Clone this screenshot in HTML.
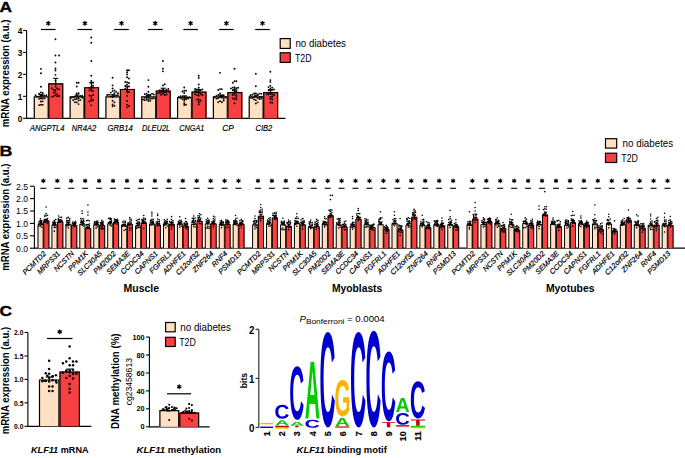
<!DOCTYPE html>
<html><head><meta charset="utf-8"><style>
html,body{margin:0;padding:0;background:#fff;width:685px;height:458px;overflow:hidden}
svg{display:block;font-family:"Liberation Sans", sans-serif}
</style></head><body>
<svg width="685" height="458" viewBox="0 0 685 458">
<text x="0" y="0" font-size="15.5" font-weight="bold" stroke="#000" stroke-width="0.35" transform="translate(-0.4 11.8) scale(1.12 1)">A</text>
<text x="9.2" y="73.4" font-size="10.4" font-weight="bold" text-anchor="middle" textLength="107.7" lengthAdjust="spacingAndGlyphs" transform="rotate(-90 9.2 73.4)">mRNA expression (a.u.)</text>
<line x1="26.6" y1="30.5" x2="26.6" y2="118.8" stroke="#000" stroke-width="1.1"/>
<line x1="23.1" y1="118.3" x2="26.6" y2="118.3" stroke="#000" stroke-width="1.1"/>
<text x="22.3" y="121.8" font-size="8.3" font-weight="bold" text-anchor="end">0</text>
<line x1="23.1" y1="96.35" x2="26.6" y2="96.35" stroke="#000" stroke-width="1.1"/>
<text x="22.3" y="99.85" font-size="8.3" font-weight="bold" text-anchor="end">1</text>
<line x1="23.1" y1="74.4" x2="26.6" y2="74.4" stroke="#000" stroke-width="1.1"/>
<text x="22.3" y="77.9" font-size="8.3" font-weight="bold" text-anchor="end">2</text>
<line x1="23.1" y1="52.45" x2="26.6" y2="52.45" stroke="#000" stroke-width="1.1"/>
<text x="22.3" y="55.95" font-size="8.3" font-weight="bold" text-anchor="end">3</text>
<line x1="23.1" y1="30.5" x2="26.6" y2="30.5" stroke="#000" stroke-width="1.1"/>
<text x="22.3" y="34" font-size="8.3" font-weight="bold" text-anchor="end">4</text>
<line x1="26.6" y1="118.3" x2="285.5" y2="118.3" stroke="#000" stroke-width="1.2"/>
<rect x="33.7" y="96.35" width="15.1" height="21.95" fill="#FFE0C2"/>
<path d="M34.3 118.3V96.95H48.2V118.3" fill="none" stroke="#000" stroke-width="1.2"/>
<rect x="48.2" y="83.18" width="15.1" height="35.12" fill="#F7403F"/>
<path d="M48.8 118.3V83.78H62.7V118.3" fill="none" stroke="#000" stroke-width="1.2"/>
<circle cx="40.95" cy="68.91" r="0.95"/>
<circle cx="40.95" cy="73.3" r="0.95"/>
<circle cx="40.95" cy="86.69" r="0.95"/>
<circle cx="40.95" cy="98.57" r="0.95"/>
<circle cx="40.95" cy="95.2" r="0.95"/>
<circle cx="42.76" cy="98.44" r="0.95"/>
<circle cx="39.15" cy="98.83" r="0.95"/>
<circle cx="40.95" cy="101.53" r="0.95"/>
<circle cx="44.56" cy="98.38" r="0.95"/>
<circle cx="40.95" cy="92.57" r="0.95"/>
<circle cx="42.76" cy="95.59" r="0.95"/>
<circle cx="42.76" cy="92.9" r="0.95"/>
<circle cx="39.15" cy="96.35" r="0.95"/>
<circle cx="44.56" cy="95.71" r="0.95"/>
<circle cx="37.34" cy="96.63" r="0.95"/>
<circle cx="40.95" cy="104.76" r="0.95"/>
<circle cx="39.15" cy="93.69" r="0.95"/>
<circle cx="46.37" cy="95.22" r="0.95"/>
<circle cx="35.54" cy="95.26" r="0.95"/>
<circle cx="42.76" cy="104.87" r="0.95"/>
<circle cx="39.15" cy="105.1" r="0.95"/>
<circle cx="42.76" cy="101.35" r="0.95"/>
<circle cx="55.45" cy="39.28" r="0.95"/>
<circle cx="55.45" cy="55.52" r="0.95"/>
<circle cx="59.06" cy="55.52" r="0.95"/>
<circle cx="55.45" cy="62.55" r="0.95"/>
<circle cx="55.45" cy="68.47" r="0.95"/>
<circle cx="55.45" cy="70.45" r="0.95"/>
<circle cx="55.45" cy="74.84" r="0.95"/>
<circle cx="55.45" cy="95.04" r="0.95"/>
<circle cx="55.45" cy="89.95" r="0.95"/>
<circle cx="55.45" cy="92.26" r="0.95"/>
<circle cx="57.26" cy="88.53" r="0.95"/>
<circle cx="57.26" cy="96.19" r="0.95"/>
<circle cx="53.65" cy="89.93" r="0.95"/>
<circle cx="59.06" cy="89.36" r="0.95"/>
<circle cx="53.65" cy="96.31" r="0.95"/>
<circle cx="55.45" cy="80.65" r="0.95"/>
<circle cx="51.84" cy="88.29" r="0.95"/>
<circle cx="55.45" cy="84.08" r="0.95"/>
<circle cx="59.06" cy="96.04" r="0.95"/>
<circle cx="51.84" cy="96.83" r="0.95"/>
<circle cx="57.26" cy="94.23" r="0.95"/>
<circle cx="53.65" cy="92.66" r="0.95"/>
<line x1="41.25" y1="98.11" x2="41.25" y2="94.59" stroke="#000" stroke-width="1.1"/>
<line x1="38.75" y1="94.59" x2="43.75" y2="94.59" stroke="#000" stroke-width="1.1"/>
<line x1="55.75" y1="88.01" x2="55.75" y2="78.35" stroke="#000" stroke-width="1.1"/>
<line x1="53.25" y1="78.35" x2="58.25" y2="78.35" stroke="#000" stroke-width="1.1"/>
<path d="M48.3 21.4L48.3 25.2M46.65 22.35L49.95 24.25M46.65 24.25L49.95 22.35" stroke="#000" stroke-width="1.3" stroke-linecap="round"/>
<line x1="41" y1="29.5" x2="55.6" y2="29.5" stroke="#000" stroke-width="1.2"/>
<text x="30.1" y="130.9" font-size="8.2" font-style="italic" textLength="34.3" lengthAdjust="spacingAndGlyphs" stroke="#000" stroke-width="0.18">ANGPTL4</text>
<rect x="69.52" y="96.35" width="15.1" height="21.95" fill="#FFE0C2"/>
<path d="M70.12 118.3V96.95H84.02V118.3" fill="none" stroke="#000" stroke-width="1.2"/>
<rect x="84.02" y="87.13" width="15.1" height="31.17" fill="#F7403F"/>
<path d="M84.62 118.3V87.73H98.52V118.3" fill="none" stroke="#000" stroke-width="1.2"/>
<circle cx="76.77" cy="82.74" r="0.95"/>
<circle cx="78.58" cy="82.74" r="0.95"/>
<circle cx="76.77" cy="86.47" r="0.95"/>
<circle cx="76.77" cy="95.37" r="0.95"/>
<circle cx="78.58" cy="96.63" r="0.95"/>
<circle cx="76.77" cy="98.92" r="0.95"/>
<circle cx="78.58" cy="100.6" r="0.95"/>
<circle cx="74.97" cy="99.16" r="0.95"/>
<circle cx="76.77" cy="93.43" r="0.95"/>
<circle cx="80.38" cy="100.11" r="0.95"/>
<circle cx="74.97" cy="96.64" r="0.95"/>
<circle cx="80.38" cy="96.04" r="0.95"/>
<circle cx="76.77" cy="102.35" r="0.95"/>
<circle cx="73.16" cy="97.29" r="0.95"/>
<circle cx="78.58" cy="93.15" r="0.95"/>
<circle cx="78.58" cy="104.08" r="0.95"/>
<circle cx="78.58" cy="98.51" r="0.95"/>
<circle cx="82.19" cy="97.8" r="0.95"/>
<circle cx="73.16" cy="100.14" r="0.95"/>
<circle cx="82.19" cy="95.81" r="0.95"/>
<circle cx="71.36" cy="97.65" r="0.95"/>
<circle cx="74.97" cy="102.27" r="0.95"/>
<circle cx="91.27" cy="37.52" r="0.95"/>
<circle cx="91.27" cy="42.79" r="0.95"/>
<circle cx="91.27" cy="61.01" r="0.95"/>
<circle cx="91.27" cy="75.72" r="0.95"/>
<circle cx="91.27" cy="80.98" r="0.95"/>
<circle cx="91.27" cy="86.51" r="0.95"/>
<circle cx="93.08" cy="87.55" r="0.95"/>
<circle cx="93.08" cy="85.73" r="0.95"/>
<circle cx="93.08" cy="82.47" r="0.95"/>
<circle cx="91.27" cy="89.57" r="0.95"/>
<circle cx="93.08" cy="91.17" r="0.95"/>
<circle cx="91.27" cy="100.52" r="0.95"/>
<circle cx="89.47" cy="87.91" r="0.95"/>
<circle cx="91.27" cy="95.99" r="0.95"/>
<circle cx="93.08" cy="94.94" r="0.95"/>
<circle cx="93.08" cy="100.29" r="0.95"/>
<circle cx="91.27" cy="98.33" r="0.95"/>
<circle cx="89.47" cy="95.46" r="0.95"/>
<circle cx="91.27" cy="83.47" r="0.95"/>
<circle cx="91.27" cy="105.34" r="0.95"/>
<circle cx="89.47" cy="101.56" r="0.95"/>
<circle cx="89.47" cy="90.38" r="0.95"/>
<line x1="77.07" y1="97.67" x2="77.07" y2="95.03" stroke="#000" stroke-width="1.1"/>
<line x1="74.57" y1="95.03" x2="79.57" y2="95.03" stroke="#000" stroke-width="1.1"/>
<line x1="91.57" y1="91.52" x2="91.57" y2="82.74" stroke="#000" stroke-width="1.1"/>
<line x1="89.07" y1="82.74" x2="94.07" y2="82.74" stroke="#000" stroke-width="1.1"/>
<path d="M84.9 21.4L84.9 25.2M83.25 22.35L86.55 24.25M83.25 24.25L86.55 22.35" stroke="#000" stroke-width="1.3" stroke-linecap="round"/>
<line x1="77.6" y1="29.5" x2="92.2" y2="29.5" stroke="#000" stroke-width="1.2"/>
<text x="71.8" y="130.9" font-size="8.2" font-style="italic" textLength="24.4" lengthAdjust="spacingAndGlyphs" stroke="#000" stroke-width="0.18">NR4A2</text>
<rect x="105.34" y="96.35" width="15.1" height="21.95" fill="#FFE0C2"/>
<path d="M105.94 118.3V96.95H119.84V118.3" fill="none" stroke="#000" stroke-width="1.2"/>
<rect x="119.84" y="88.89" width="15.1" height="29.41" fill="#F7403F"/>
<path d="M120.44 118.3V89.49H134.34V118.3" fill="none" stroke="#000" stroke-width="1.2"/>
<circle cx="112.59" cy="77.69" r="0.95"/>
<circle cx="112.59" cy="85.38" r="0.95"/>
<circle cx="112.59" cy="88.45" r="0.95"/>
<circle cx="112.59" cy="106.23" r="0.95"/>
<circle cx="112.59" cy="91.11" r="0.95"/>
<circle cx="112.59" cy="94.91" r="0.95"/>
<circle cx="114.4" cy="105.79" r="0.95"/>
<circle cx="114.4" cy="95.88" r="0.95"/>
<circle cx="112.59" cy="100.68" r="0.95"/>
<circle cx="114.4" cy="102.36" r="0.95"/>
<circle cx="114.4" cy="93.16" r="0.95"/>
<circle cx="110.78" cy="92.61" r="0.95"/>
<circle cx="112.59" cy="96.76" r="0.95"/>
<circle cx="110.78" cy="96.37" r="0.95"/>
<circle cx="116.2" cy="95.54" r="0.95"/>
<circle cx="114.4" cy="90.45" r="0.95"/>
<circle cx="108.98" cy="94.73" r="0.95"/>
<circle cx="118.01" cy="95.17" r="0.95"/>
<circle cx="107.17" cy="95.04" r="0.95"/>
<circle cx="112.59" cy="104.33" r="0.95"/>
<circle cx="116.2" cy="91.82" r="0.95"/>
<circle cx="118.01" cy="93.25" r="0.95"/>
<circle cx="127.09" cy="70.23" r="0.95"/>
<circle cx="128.9" cy="70.23" r="0.95"/>
<circle cx="127.09" cy="72.2" r="0.95"/>
<circle cx="127.09" cy="74.4" r="0.95"/>
<circle cx="127.09" cy="77.25" r="0.95"/>
<circle cx="127.09" cy="82.08" r="0.95"/>
<circle cx="127.09" cy="107.33" r="0.95"/>
<circle cx="127.09" cy="86.79" r="0.95"/>
<circle cx="128.9" cy="106.03" r="0.95"/>
<circle cx="127.09" cy="95.73" r="0.95"/>
<circle cx="127.09" cy="84.39" r="0.95"/>
<circle cx="127.09" cy="104.78" r="0.95"/>
<circle cx="127.09" cy="92.28" r="0.95"/>
<circle cx="128.9" cy="83.03" r="0.95"/>
<circle cx="127.09" cy="100.94" r="0.95"/>
<circle cx="128.9" cy="78.49" r="0.95"/>
<circle cx="128.9" cy="86.62" r="0.95"/>
<circle cx="128.9" cy="92.02" r="0.95"/>
<circle cx="125.28" cy="88.37" r="0.95"/>
<circle cx="125.28" cy="85.87" r="0.95"/>
<circle cx="127.09" cy="89.94" r="0.95"/>
<circle cx="125.28" cy="82.06" r="0.95"/>
<line x1="112.89" y1="97.89" x2="112.89" y2="94.81" stroke="#000" stroke-width="1.1"/>
<line x1="110.39" y1="94.81" x2="115.39" y2="94.81" stroke="#000" stroke-width="1.1"/>
<line x1="127.39" y1="91.52" x2="127.39" y2="86.25" stroke="#000" stroke-width="1.1"/>
<line x1="124.89" y1="86.25" x2="129.89" y2="86.25" stroke="#000" stroke-width="1.1"/>
<path d="M121.5 21.4L121.5 25.2M119.85 22.35L123.15 24.25M119.85 24.25L123.15 22.35" stroke="#000" stroke-width="1.3" stroke-linecap="round"/>
<line x1="114.2" y1="29.5" x2="128.8" y2="29.5" stroke="#000" stroke-width="1.2"/>
<text x="107.6" y="130.9" font-size="8.2" font-style="italic" textLength="25.2" lengthAdjust="spacingAndGlyphs" stroke="#000" stroke-width="0.18">GRB14</text>
<rect x="141.16" y="96.35" width="15.1" height="21.95" fill="#FFE0C2"/>
<path d="M141.76 118.3V96.95H155.66V118.3" fill="none" stroke="#000" stroke-width="1.2"/>
<rect x="155.66" y="90.42" width="15.1" height="27.88" fill="#F7403F"/>
<path d="M156.26 118.3V91.02H170.16V118.3" fill="none" stroke="#000" stroke-width="1.2"/>
<circle cx="148.41" cy="80.11" r="0.95"/>
<circle cx="148.41" cy="86.69" r="0.95"/>
<circle cx="148.41" cy="91.74" r="0.95"/>
<circle cx="148.41" cy="99.19" r="0.95"/>
<circle cx="150.22" cy="98.54" r="0.95"/>
<circle cx="148.41" cy="94.7" r="0.95"/>
<circle cx="148.41" cy="97.38" r="0.95"/>
<circle cx="146.61" cy="99.77" r="0.95"/>
<circle cx="150.22" cy="94.95" r="0.95"/>
<circle cx="146.61" cy="93.59" r="0.95"/>
<circle cx="152.02" cy="98.62" r="0.95"/>
<circle cx="148.41" cy="101.08" r="0.95"/>
<circle cx="146.61" cy="97.8" r="0.95"/>
<circle cx="144.8" cy="97.84" r="0.95"/>
<circle cx="153.83" cy="98.23" r="0.95"/>
<circle cx="152.02" cy="93.75" r="0.95"/>
<circle cx="144.8" cy="100.15" r="0.95"/>
<circle cx="144.8" cy="94.13" r="0.95"/>
<circle cx="150.22" cy="100.79" r="0.95"/>
<circle cx="143" cy="99.52" r="0.95"/>
<circle cx="146.61" cy="95.78" r="0.95"/>
<circle cx="153.83" cy="94.47" r="0.95"/>
<circle cx="162.91" cy="61.01" r="0.95"/>
<circle cx="162.91" cy="68.69" r="0.95"/>
<circle cx="162.91" cy="71.33" r="0.95"/>
<circle cx="162.91" cy="85.38" r="0.95"/>
<circle cx="162.91" cy="89.29" r="0.95"/>
<circle cx="162.91" cy="91.54" r="0.95"/>
<circle cx="164.72" cy="92.43" r="0.95"/>
<circle cx="161.11" cy="92.39" r="0.95"/>
<circle cx="164.72" cy="90.53" r="0.95"/>
<circle cx="162.91" cy="93.83" r="0.95"/>
<circle cx="166.52" cy="91.84" r="0.95"/>
<circle cx="161.11" cy="90.54" r="0.95"/>
<circle cx="159.3" cy="93.05" r="0.95"/>
<circle cx="166.52" cy="89.7" r="0.95"/>
<circle cx="159.3" cy="90.57" r="0.95"/>
<circle cx="164.72" cy="84.23" r="0.95"/>
<circle cx="168.33" cy="91.63" r="0.95"/>
<circle cx="164.72" cy="94.93" r="0.95"/>
<circle cx="161.11" cy="94.69" r="0.95"/>
<circle cx="157.5" cy="93.12" r="0.95"/>
<circle cx="168.33" cy="89" r="0.95"/>
<circle cx="166.52" cy="94.54" r="0.95"/>
<line x1="148.71" y1="97.45" x2="148.71" y2="95.25" stroke="#000" stroke-width="1.1"/>
<line x1="146.21" y1="95.25" x2="151.21" y2="95.25" stroke="#000" stroke-width="1.1"/>
<line x1="163.21" y1="92.62" x2="163.21" y2="88.23" stroke="#000" stroke-width="1.1"/>
<line x1="160.71" y1="88.23" x2="165.71" y2="88.23" stroke="#000" stroke-width="1.1"/>
<path d="M155.2 21.4L155.2 25.2M153.55 22.35L156.85 24.25M153.55 24.25L156.85 22.35" stroke="#000" stroke-width="1.3" stroke-linecap="round"/>
<line x1="147.9" y1="29.5" x2="162.5" y2="29.5" stroke="#000" stroke-width="1.2"/>
<text x="142" y="130.9" font-size="8.2" font-style="italic" textLength="28.2" lengthAdjust="spacingAndGlyphs" stroke="#000" stroke-width="0.18">DLEU2L</text>
<rect x="176.98" y="97.01" width="15.1" height="21.29" fill="#FFE0C2"/>
<path d="M177.58 118.3V97.61H191.48V118.3" fill="none" stroke="#000" stroke-width="1.2"/>
<rect x="191.48" y="91.52" width="15.1" height="26.78" fill="#F7403F"/>
<path d="M192.08 118.3V92.12H205.98V118.3" fill="none" stroke="#000" stroke-width="1.2"/>
<circle cx="184.23" cy="87.57" r="0.95"/>
<circle cx="184.23" cy="90.64" r="0.95"/>
<circle cx="186.04" cy="90.64" r="0.95"/>
<circle cx="184.23" cy="103.15" r="0.95"/>
<circle cx="184.23" cy="96.87" r="0.95"/>
<circle cx="184.23" cy="93.05" r="0.95"/>
<circle cx="186.04" cy="104.64" r="0.95"/>
<circle cx="184.23" cy="100.85" r="0.95"/>
<circle cx="186.04" cy="97.24" r="0.95"/>
<circle cx="182.43" cy="96.84" r="0.95"/>
<circle cx="187.84" cy="97.26" r="0.95"/>
<circle cx="184.23" cy="99.02" r="0.95"/>
<circle cx="180.62" cy="96.16" r="0.95"/>
<circle cx="189.65" cy="97.14" r="0.95"/>
<circle cx="186.04" cy="99.26" r="0.95"/>
<circle cx="182.43" cy="91.49" r="0.95"/>
<circle cx="178.82" cy="96.95" r="0.95"/>
<circle cx="182.43" cy="99.35" r="0.95"/>
<circle cx="180.62" cy="98.15" r="0.95"/>
<circle cx="188.23" cy="98.48" r="0.95"/>
<circle cx="186.39" cy="98.05" r="0.95"/>
<circle cx="184.23" cy="105.07" r="0.95"/>
<circle cx="198.73" cy="75.72" r="0.95"/>
<circle cx="198.73" cy="77.91" r="0.95"/>
<circle cx="198.73" cy="84.5" r="0.95"/>
<circle cx="198.73" cy="102.06" r="0.95"/>
<circle cx="198.73" cy="95.64" r="0.95"/>
<circle cx="200.54" cy="93.98" r="0.95"/>
<circle cx="198.73" cy="89.95" r="0.95"/>
<circle cx="200.54" cy="90.33" r="0.95"/>
<circle cx="198.73" cy="87.82" r="0.95"/>
<circle cx="200.54" cy="100.44" r="0.95"/>
<circle cx="196.93" cy="95.11" r="0.95"/>
<circle cx="202.34" cy="95.06" r="0.95"/>
<circle cx="196.93" cy="91.25" r="0.95"/>
<circle cx="196.93" cy="89.4" r="0.95"/>
<circle cx="198.73" cy="104.32" r="0.95"/>
<circle cx="202.34" cy="89.41" r="0.95"/>
<circle cx="198.73" cy="99.44" r="0.95"/>
<circle cx="195.12" cy="91.02" r="0.95"/>
<circle cx="196.93" cy="99.61" r="0.95"/>
<circle cx="198.73" cy="93.02" r="0.95"/>
<circle cx="195.12" cy="89" r="0.95"/>
<circle cx="195.12" cy="94.31" r="0.95"/>
<line x1="184.53" y1="98.11" x2="184.53" y2="95.91" stroke="#000" stroke-width="1.1"/>
<line x1="182.03" y1="95.91" x2="187.03" y2="95.91" stroke="#000" stroke-width="1.1"/>
<line x1="199.03" y1="93.28" x2="199.03" y2="89.77" stroke="#000" stroke-width="1.1"/>
<line x1="196.53" y1="89.77" x2="201.53" y2="89.77" stroke="#000" stroke-width="1.1"/>
<path d="M190.6 21.4L190.6 25.2M188.95 22.35L192.25 24.25M188.95 24.25L192.25 22.35" stroke="#000" stroke-width="1.3" stroke-linecap="round"/>
<line x1="183.3" y1="29.5" x2="197.9" y2="29.5" stroke="#000" stroke-width="1.2"/>
<text x="179.3" y="130.9" font-size="8.2" font-style="italic" textLength="25" lengthAdjust="spacingAndGlyphs" stroke="#000" stroke-width="0.18">CNGA1</text>
<rect x="212.8" y="96.35" width="15.1" height="21.95" fill="#FFE0C2"/>
<path d="M213.4 118.3V96.95H227.3V118.3" fill="none" stroke="#000" stroke-width="1.2"/>
<rect x="227.3" y="91.96" width="15.1" height="26.34" fill="#F7403F"/>
<path d="M227.9 118.3V92.56H241.8V118.3" fill="none" stroke="#000" stroke-width="1.2"/>
<circle cx="220.05" cy="72.86" r="0.95"/>
<circle cx="220.05" cy="89.11" r="0.95"/>
<circle cx="221.86" cy="89.11" r="0.95"/>
<circle cx="220.05" cy="97.34" r="0.95"/>
<circle cx="221.86" cy="95.61" r="0.95"/>
<circle cx="221.86" cy="97.48" r="0.95"/>
<circle cx="218.25" cy="98.14" r="0.95"/>
<circle cx="220.05" cy="93.51" r="0.95"/>
<circle cx="218.25" cy="94.89" r="0.95"/>
<circle cx="223.66" cy="98.72" r="0.95"/>
<circle cx="218.25" cy="90.05" r="0.95"/>
<circle cx="220.05" cy="101.16" r="0.95"/>
<circle cx="223.66" cy="95.28" r="0.95"/>
<circle cx="216.44" cy="98.64" r="0.95"/>
<circle cx="225.47" cy="97.51" r="0.95"/>
<circle cx="216.44" cy="95.87" r="0.95"/>
<circle cx="214.64" cy="97.25" r="0.95"/>
<circle cx="221.73" cy="96.06" r="0.95"/>
<circle cx="221.86" cy="102.24" r="0.95"/>
<circle cx="218.25" cy="102.19" r="0.95"/>
<circle cx="223.35" cy="96.13" r="0.95"/>
<circle cx="223.66" cy="100.63" r="0.95"/>
<circle cx="234.55" cy="68.69" r="0.95"/>
<circle cx="234.55" cy="81.2" r="0.95"/>
<circle cx="236.36" cy="81.2" r="0.95"/>
<circle cx="232.75" cy="82.74" r="0.95"/>
<circle cx="234.55" cy="87.13" r="0.95"/>
<circle cx="234.55" cy="89.03" r="0.95"/>
<circle cx="234.55" cy="91.32" r="0.95"/>
<circle cx="236.36" cy="88.13" r="0.95"/>
<circle cx="234.55" cy="98.71" r="0.95"/>
<circle cx="234.55" cy="94.59" r="0.95"/>
<circle cx="236.36" cy="99.6" r="0.95"/>
<circle cx="236.36" cy="91.23" r="0.95"/>
<circle cx="232.75" cy="87.62" r="0.95"/>
<circle cx="232.75" cy="98.5" r="0.95"/>
<circle cx="238.16" cy="87.74" r="0.95"/>
<circle cx="232.75" cy="90.26" r="0.95"/>
<circle cx="236.36" cy="95.37" r="0.95"/>
<circle cx="234.55" cy="103.25" r="0.95"/>
<circle cx="230.94" cy="88.42" r="0.95"/>
<circle cx="232.75" cy="95.02" r="0.95"/>
<circle cx="236.36" cy="97.24" r="0.95"/>
<circle cx="232.75" cy="92.84" r="0.95"/>
<line x1="220.35" y1="97.67" x2="220.35" y2="95.03" stroke="#000" stroke-width="1.1"/>
<line x1="217.85" y1="95.03" x2="222.85" y2="95.03" stroke="#000" stroke-width="1.1"/>
<line x1="234.85" y1="94.16" x2="234.85" y2="89.77" stroke="#000" stroke-width="1.1"/>
<line x1="232.35" y1="89.77" x2="237.35" y2="89.77" stroke="#000" stroke-width="1.1"/>
<path d="M226.4 21.4L226.4 25.2M224.75 22.35L228.05 24.25M224.75 24.25L228.05 22.35" stroke="#000" stroke-width="1.3" stroke-linecap="round"/>
<line x1="219.1" y1="29.5" x2="233.7" y2="29.5" stroke="#000" stroke-width="1.2"/>
<text x="222.2" y="130.9" font-size="8.2" font-style="italic" textLength="11.5" lengthAdjust="spacingAndGlyphs" stroke="#000" stroke-width="0.18">CP</text>
<rect x="248.62" y="96.35" width="15.1" height="21.95" fill="#FFE0C2"/>
<path d="M249.22 118.3V96.95H263.12V118.3" fill="none" stroke="#000" stroke-width="1.2"/>
<rect x="263.12" y="91.96" width="15.1" height="26.34" fill="#F7403F"/>
<path d="M263.72 118.3V92.56H277.62V118.3" fill="none" stroke="#000" stroke-width="1.2"/>
<circle cx="255.87" cy="73.74" r="0.95"/>
<circle cx="255.87" cy="86.25" r="0.95"/>
<circle cx="255.87" cy="96.37" r="0.95"/>
<circle cx="255.87" cy="93.5" r="0.95"/>
<circle cx="255.87" cy="100.13" r="0.95"/>
<circle cx="257.68" cy="94.45" r="0.95"/>
<circle cx="254.06" cy="93.53" r="0.95"/>
<circle cx="259.48" cy="93.62" r="0.95"/>
<circle cx="257.68" cy="97.92" r="0.95"/>
<circle cx="254.06" cy="99.41" r="0.95"/>
<circle cx="252.26" cy="94.76" r="0.95"/>
<circle cx="254.06" cy="97.14" r="0.95"/>
<circle cx="259.48" cy="97.12" r="0.95"/>
<circle cx="261.29" cy="93.7" r="0.95"/>
<circle cx="252.26" cy="98.14" r="0.95"/>
<circle cx="255.87" cy="103.5" r="0.95"/>
<circle cx="261.29" cy="98.47" r="0.95"/>
<circle cx="257.68" cy="102.33" r="0.95"/>
<circle cx="250.46" cy="95.29" r="0.95"/>
<circle cx="261.29" cy="96.61" r="0.95"/>
<circle cx="259.48" cy="99.06" r="0.95"/>
<circle cx="250.46" cy="97.47" r="0.95"/>
<circle cx="270.37" cy="71.77" r="0.95"/>
<circle cx="270.37" cy="80.11" r="0.95"/>
<circle cx="270.37" cy="82.08" r="0.95"/>
<circle cx="270.37" cy="85.81" r="0.95"/>
<circle cx="270.37" cy="90.5" r="0.95"/>
<circle cx="270.37" cy="93.81" r="0.95"/>
<circle cx="270.37" cy="88.33" r="0.95"/>
<circle cx="272.18" cy="94.42" r="0.95"/>
<circle cx="272.18" cy="89.59" r="0.95"/>
<circle cx="272.18" cy="87.61" r="0.95"/>
<circle cx="268.56" cy="87.09" r="0.95"/>
<circle cx="270.37" cy="97.1" r="0.95"/>
<circle cx="268.56" cy="90.29" r="0.95"/>
<circle cx="270.37" cy="102.39" r="0.95"/>
<circle cx="270.37" cy="98.91" r="0.95"/>
<circle cx="272.18" cy="102.77" r="0.95"/>
<circle cx="273.98" cy="89.46" r="0.95"/>
<circle cx="272.18" cy="99.56" r="0.95"/>
<circle cx="268.56" cy="94.21" r="0.95"/>
<circle cx="273.98" cy="95" r="0.95"/>
<circle cx="266.76" cy="94.28" r="0.95"/>
<circle cx="272.18" cy="96.75" r="0.95"/>
<line x1="256.17" y1="97.45" x2="256.17" y2="95.25" stroke="#000" stroke-width="1.1"/>
<line x1="253.67" y1="95.25" x2="258.67" y2="95.25" stroke="#000" stroke-width="1.1"/>
<line x1="270.67" y1="94.16" x2="270.67" y2="89.77" stroke="#000" stroke-width="1.1"/>
<line x1="268.17" y1="89.77" x2="273.17" y2="89.77" stroke="#000" stroke-width="1.1"/>
<path d="M262.5 21.4L262.5 25.2M260.85 22.35L264.15 24.25M260.85 24.25L264.15 22.35" stroke="#000" stroke-width="1.3" stroke-linecap="round"/>
<line x1="255.2" y1="29.5" x2="269.8" y2="29.5" stroke="#000" stroke-width="1.2"/>
<text x="255.5" y="130.9" font-size="8.2" font-style="italic" textLength="16.7" lengthAdjust="spacingAndGlyphs" stroke="#000" stroke-width="0.18">CIB2</text>
<rect x="280.2" y="38.6" width="10" height="9.8" fill="#FFE0C2" stroke="#000" stroke-width="1.2"/>
<rect x="280.2" y="52.8" width="10" height="9.6" fill="#F7403F" stroke="#000" stroke-width="1.2"/>
<text x="295.4" y="46.9" font-size="10.4" textLength="50.6" lengthAdjust="spacingAndGlyphs">no diabetes</text>
<text x="295" y="61.8" font-size="10.4" textLength="16.6" lengthAdjust="spacingAndGlyphs">T2D</text>
<text x="0" y="0" font-size="15.5" font-weight="bold" stroke="#000" stroke-width="0.35" transform="translate(-0.6 155.6) scale(1.15 1)">B</text>
<text x="9" y="217.1" font-size="10.4" font-weight="bold" text-anchor="middle" textLength="107.1" lengthAdjust="spacingAndGlyphs" transform="rotate(-90 9 217.1)">mRNA expression (a.u.)</text>
<line x1="34.4" y1="186.5" x2="34.4" y2="248.7" stroke="#000" stroke-width="1.1"/>
<line x1="30" y1="248.2" x2="34.4" y2="248.2" stroke="#000" stroke-width="1.1"/>
<text x="28.1" y="251.5" font-size="9" text-anchor="end" textLength="12" lengthAdjust="spacingAndGlyphs">0.0</text>
<line x1="30" y1="235.8" x2="34.4" y2="235.8" stroke="#000" stroke-width="1.1"/>
<text x="28.1" y="239.1" font-size="9" text-anchor="end" textLength="12" lengthAdjust="spacingAndGlyphs">0.5</text>
<line x1="30" y1="223.4" x2="34.4" y2="223.4" stroke="#000" stroke-width="1.1"/>
<text x="28.1" y="226.7" font-size="9" text-anchor="end" textLength="12" lengthAdjust="spacingAndGlyphs">1.0</text>
<line x1="30" y1="211" x2="34.4" y2="211" stroke="#000" stroke-width="1.1"/>
<text x="28.1" y="214.3" font-size="9" text-anchor="end" textLength="12" lengthAdjust="spacingAndGlyphs">1.5</text>
<line x1="30" y1="198.6" x2="34.4" y2="198.6" stroke="#000" stroke-width="1.1"/>
<text x="28.1" y="201.9" font-size="9" text-anchor="end" textLength="12" lengthAdjust="spacingAndGlyphs">2.0</text>
<line x1="30" y1="186.2" x2="34.4" y2="186.2" stroke="#000" stroke-width="1.1"/>
<text x="28.1" y="189.5" font-size="9" text-anchor="end" textLength="12" lengthAdjust="spacingAndGlyphs">2.5</text>
<line x1="34.4" y1="248.2" x2="685" y2="248.2" stroke="#000" stroke-width="1.2"/>
<rect x="37.5" y="224.14" width="6.15" height="24.06" fill="#FFE0C2"/>
<path d="M38 248.2V224.64H43.15V248.2" fill="none" stroke="#000" stroke-width="1"/>
<rect x="43.25" y="220.42" width="6.15" height="27.78" fill="#F7403F"/>
<path d="M43.75 248.2V220.92H48.9V248.2" fill="none" stroke="#000" stroke-width="1"/>
<circle cx="40.38" cy="222.57" r="0.8"/>
<circle cx="40.38" cy="218.71" r="0.8"/>
<circle cx="41.81" cy="223.04" r="0.8"/>
<circle cx="38.94" cy="221.84" r="0.8"/>
<circle cx="40.38" cy="220.67" r="0.8"/>
<circle cx="38.94" cy="223.64" r="0.8"/>
<circle cx="40.38" cy="226.28" r="0.8"/>
<circle cx="40.38" cy="224.53" r="0.8"/>
<circle cx="41.81" cy="220.49" r="0.8"/>
<circle cx="41.81" cy="227.23" r="0.8"/>
<circle cx="41.81" cy="224.63" r="0.8"/>
<circle cx="40.62" cy="220.65" r="0.8"/>
<circle cx="41.4" cy="221.19" r="0.8"/>
<circle cx="42" cy="223.13" r="0.8"/>
<circle cx="40.15" cy="221.16" r="0.8"/>
<circle cx="40.82" cy="222.74" r="0.8"/>
<circle cx="38.94" cy="226.08" r="0.8"/>
<circle cx="46.12" cy="207.03" r="0.8"/>
<circle cx="46.12" cy="213.48" r="0.8"/>
<circle cx="46.12" cy="222.4" r="0.8"/>
<circle cx="46.12" cy="219.54" r="0.8"/>
<circle cx="47.56" cy="220.39" r="0.8"/>
<circle cx="47.56" cy="221.98" r="0.8"/>
<circle cx="44.69" cy="222.2" r="0.8"/>
<circle cx="44.69" cy="220.02" r="0.8"/>
<circle cx="46.12" cy="215.84" r="0.8"/>
<circle cx="45.9" cy="220.81" r="0.8"/>
<circle cx="47.56" cy="215.2" r="0.8"/>
<circle cx="47.56" cy="223.58" r="0.8"/>
<circle cx="44.44" cy="219.62" r="0.8"/>
<circle cx="44.69" cy="216.26" r="0.8"/>
<circle cx="45.1" cy="214.98" r="0.8"/>
<circle cx="44.44" cy="221.09" r="0.8"/>
<circle cx="47.56" cy="218.61" r="0.8"/>
<line x1="40.58" y1="225.38" x2="40.58" y2="222.9" stroke="#000" stroke-width="0.9"/>
<line x1="39.08" y1="222.9" x2="42.08" y2="222.9" stroke="#000" stroke-width="0.9"/>
<line x1="46.33" y1="221.66" x2="46.33" y2="219.18" stroke="#000" stroke-width="0.9"/>
<line x1="44.83" y1="219.18" x2="47.83" y2="219.18" stroke="#000" stroke-width="0.9"/>
<path d="M43.35 179L43.35 182.6M41.79 179.9L44.91 181.7M41.79 181.7L44.91 179.9" stroke="#000" stroke-width="1.2" stroke-linecap="round"/>
<line x1="40.35" y1="188.3" x2="46.35" y2="188.3" stroke="#000" stroke-width="1.1"/>
<text x="46.75" y="254" font-size="7.35" font-style="italic" text-anchor="end" transform="rotate(-45 46.75 254)" stroke="#000" stroke-width="0.2">PCMTD2</text>
<rect x="51.44" y="224.64" width="6.15" height="23.56" fill="#FFE0C2"/>
<path d="M51.94 248.2V225.14H57.09V248.2" fill="none" stroke="#000" stroke-width="1"/>
<rect x="57.19" y="221.42" width="6.15" height="26.78" fill="#F7403F"/>
<path d="M57.69 248.2V221.92H62.84V248.2" fill="none" stroke="#000" stroke-width="1"/>
<circle cx="54.31" cy="222.69" r="0.8"/>
<circle cx="54.31" cy="225.75" r="0.8"/>
<circle cx="54.31" cy="227.45" r="0.8"/>
<circle cx="55.75" cy="222.5" r="0.8"/>
<circle cx="55.75" cy="224.51" r="0.8"/>
<circle cx="52.88" cy="224.42" r="0.8"/>
<circle cx="55.75" cy="227.21" r="0.8"/>
<circle cx="54.31" cy="220.45" r="0.8"/>
<circle cx="55.75" cy="219.63" r="0.8"/>
<circle cx="52.88" cy="221.94" r="0.8"/>
<circle cx="54.04" cy="224" r="0.8"/>
<circle cx="54.38" cy="221.26" r="0.8"/>
<circle cx="53.68" cy="224.38" r="0.8"/>
<circle cx="54.31" cy="231.14" r="0.8"/>
<circle cx="53.11" cy="223.05" r="0.8"/>
<circle cx="53.6" cy="222.92" r="0.8"/>
<circle cx="55.19" cy="224.93" r="0.8"/>
<circle cx="60.06" cy="217.3" r="0.8"/>
<circle cx="60.06" cy="220.04" r="0.8"/>
<circle cx="61.5" cy="220.87" r="0.8"/>
<circle cx="58.62" cy="220.25" r="0.8"/>
<circle cx="60.06" cy="222.12" r="0.8"/>
<circle cx="61.5" cy="217.4" r="0.8"/>
<circle cx="61.69" cy="221.33" r="0.8"/>
<circle cx="61.32" cy="220.49" r="0.8"/>
<circle cx="58.62" cy="216.07" r="0.8"/>
<circle cx="59.11" cy="220.83" r="0.8"/>
<circle cx="58.68" cy="219.28" r="0.8"/>
<circle cx="61.72" cy="220.63" r="0.8"/>
<circle cx="60.34" cy="220.49" r="0.8"/>
<circle cx="60.86" cy="219.72" r="0.8"/>
<circle cx="58.44" cy="220.07" r="0.8"/>
<circle cx="58.62" cy="222.36" r="0.8"/>
<circle cx="58.32" cy="218.64" r="0.8"/>
<line x1="54.52" y1="225.88" x2="54.52" y2="223.4" stroke="#000" stroke-width="0.9"/>
<line x1="53.02" y1="223.4" x2="56.02" y2="223.4" stroke="#000" stroke-width="0.9"/>
<line x1="60.27" y1="222.66" x2="60.27" y2="220.18" stroke="#000" stroke-width="0.9"/>
<line x1="58.77" y1="220.18" x2="61.77" y2="220.18" stroke="#000" stroke-width="0.9"/>
<path d="M57.29 179L57.29 182.6M55.73 179.9L58.85 181.7M55.73 181.7L58.85 179.9" stroke="#000" stroke-width="1.2" stroke-linecap="round"/>
<line x1="54.29" y1="188.3" x2="60.29" y2="188.3" stroke="#000" stroke-width="1.1"/>
<text x="60.69" y="254" font-size="7.35" font-style="italic" text-anchor="end" transform="rotate(-45 60.69 254)" stroke="#000" stroke-width="0.2">MRPS31</text>
<rect x="65.38" y="223.65" width="6.15" height="24.55" fill="#FFE0C2"/>
<path d="M65.88 248.2V224.15H71.03V248.2" fill="none" stroke="#000" stroke-width="1"/>
<rect x="71.13" y="224.89" width="6.15" height="23.31" fill="#F7403F"/>
<path d="M71.63 248.2V225.39H76.78V248.2" fill="none" stroke="#000" stroke-width="1"/>
<circle cx="68.25" cy="220.77" r="0.8"/>
<circle cx="68.25" cy="223.64" r="0.8"/>
<circle cx="69.69" cy="225.07" r="0.8"/>
<circle cx="68.25" cy="217.4" r="0.8"/>
<circle cx="69.69" cy="220.08" r="0.8"/>
<circle cx="68.25" cy="225.62" r="0.8"/>
<circle cx="66.81" cy="225.99" r="0.8"/>
<circle cx="69.69" cy="218.43" r="0.8"/>
<circle cx="66.81" cy="220.2" r="0.8"/>
<circle cx="66.81" cy="218.14" r="0.8"/>
<circle cx="68.36" cy="220.65" r="0.8"/>
<circle cx="67.22" cy="224.82" r="0.8"/>
<circle cx="69.69" cy="222.01" r="0.8"/>
<circle cx="68.25" cy="228.01" r="0.8"/>
<circle cx="66.71" cy="224.51" r="0.8"/>
<circle cx="66.81" cy="222.8" r="0.8"/>
<circle cx="66.92" cy="221.36" r="0.8"/>
<circle cx="74" cy="222.31" r="0.8"/>
<circle cx="75.44" cy="223.38" r="0.8"/>
<circle cx="74" cy="224.7" r="0.8"/>
<circle cx="72.56" cy="221.94" r="0.8"/>
<circle cx="72.56" cy="223.77" r="0.8"/>
<circle cx="75.44" cy="225.94" r="0.8"/>
<circle cx="72.56" cy="225.45" r="0.8"/>
<circle cx="75.26" cy="223.9" r="0.8"/>
<circle cx="73.74" cy="224.17" r="0.8"/>
<circle cx="73.99" cy="223.51" r="0.8"/>
<circle cx="75.33" cy="223.9" r="0.8"/>
<circle cx="73.58" cy="223.46" r="0.8"/>
<circle cx="74.03" cy="224.23" r="0.8"/>
<circle cx="74" cy="227.02" r="0.8"/>
<circle cx="74.75" cy="222.85" r="0.8"/>
<circle cx="75.44" cy="221.28" r="0.8"/>
<circle cx="75.91" cy="222.82" r="0.8"/>
<line x1="68.45" y1="224.89" x2="68.45" y2="222.41" stroke="#000" stroke-width="0.9"/>
<line x1="66.95" y1="222.41" x2="69.95" y2="222.41" stroke="#000" stroke-width="0.9"/>
<line x1="74.2" y1="226.13" x2="74.2" y2="223.65" stroke="#000" stroke-width="0.9"/>
<line x1="72.7" y1="223.65" x2="75.7" y2="223.65" stroke="#000" stroke-width="0.9"/>
<path d="M71.23 179L71.23 182.6M69.67 179.9L72.79 181.7M69.67 181.7L72.79 179.9" stroke="#000" stroke-width="1.2" stroke-linecap="round"/>
<line x1="68.23" y1="188.3" x2="74.23" y2="188.3" stroke="#000" stroke-width="1.1"/>
<text x="74.63" y="254" font-size="7.35" font-style="italic" text-anchor="end" transform="rotate(-45 74.63 254)" stroke="#000" stroke-width="0.2">NCSTN</text>
<rect x="79.32" y="223.65" width="6.15" height="24.55" fill="#FFE0C2"/>
<path d="M79.82 248.2V224.15H84.97V248.2" fill="none" stroke="#000" stroke-width="1"/>
<rect x="85.07" y="228.11" width="6.15" height="20.09" fill="#F7403F"/>
<path d="M85.57 248.2V228.61H90.72V248.2" fill="none" stroke="#000" stroke-width="1"/>
<circle cx="82.19" cy="211" r="0.8"/>
<circle cx="82.19" cy="213.48" r="0.8"/>
<circle cx="82.19" cy="223.13" r="0.8"/>
<circle cx="82.19" cy="225.23" r="0.8"/>
<circle cx="82.19" cy="218.74" r="0.8"/>
<circle cx="83.63" cy="223.6" r="0.8"/>
<circle cx="83.63" cy="226.05" r="0.8"/>
<circle cx="80.75" cy="224.55" r="0.8"/>
<circle cx="82.19" cy="221.36" r="0.8"/>
<circle cx="83.63" cy="221.42" r="0.8"/>
<circle cx="80.75" cy="222.22" r="0.8"/>
<circle cx="83.63" cy="218.98" r="0.8"/>
<circle cx="83.66" cy="220.9" r="0.8"/>
<circle cx="82.87" cy="222.71" r="0.8"/>
<circle cx="81.33" cy="221.18" r="0.8"/>
<circle cx="80.75" cy="218.55" r="0.8"/>
<circle cx="81.18" cy="220.25" r="0.8"/>
<circle cx="87.94" cy="205.05" r="0.8"/>
<circle cx="87.94" cy="211.99" r="0.8"/>
<circle cx="87.94" cy="214.97" r="0.8"/>
<circle cx="87.94" cy="220.42" r="0.8"/>
<circle cx="87.94" cy="227.86" r="0.8"/>
<circle cx="87.94" cy="224.47" r="0.8"/>
<circle cx="89.38" cy="225.64" r="0.8"/>
<circle cx="86.5" cy="224.87" r="0.8"/>
<circle cx="89.38" cy="227.65" r="0.8"/>
<circle cx="89.38" cy="220.8" r="0.8"/>
<circle cx="89.38" cy="224.04" r="0.8"/>
<circle cx="86.5" cy="227.65" r="0.8"/>
<circle cx="87.84" cy="226.9" r="0.8"/>
<circle cx="86.5" cy="220.68" r="0.8"/>
<circle cx="87.96" cy="227.97" r="0.8"/>
<circle cx="86.76" cy="224.95" r="0.8"/>
<circle cx="87.96" cy="224.69" r="0.8"/>
<line x1="82.39" y1="224.89" x2="82.39" y2="222.41" stroke="#000" stroke-width="0.9"/>
<line x1="80.89" y1="222.41" x2="83.89" y2="222.41" stroke="#000" stroke-width="0.9"/>
<line x1="88.14" y1="229.35" x2="88.14" y2="226.87" stroke="#000" stroke-width="0.9"/>
<line x1="86.64" y1="226.87" x2="89.64" y2="226.87" stroke="#000" stroke-width="0.9"/>
<path d="M85.17 179L85.17 182.6M83.61 179.9L86.73 181.7M83.61 181.7L86.73 179.9" stroke="#000" stroke-width="1.2" stroke-linecap="round"/>
<line x1="82.17" y1="188.3" x2="88.17" y2="188.3" stroke="#000" stroke-width="1.1"/>
<text x="88.57" y="254" font-size="7.35" font-style="italic" text-anchor="end" transform="rotate(-45 88.57 254)" stroke="#000" stroke-width="0.2">PPM1K</text>
<rect x="93.26" y="224.14" width="6.15" height="24.06" fill="#FFE0C2"/>
<path d="M93.76 248.2V224.64H98.91V248.2" fill="none" stroke="#000" stroke-width="1"/>
<rect x="99.01" y="225.14" width="6.15" height="23.06" fill="#F7403F"/>
<path d="M99.51 248.2V225.64H104.66V248.2" fill="none" stroke="#000" stroke-width="1"/>
<circle cx="96.13" cy="223.14" r="0.8"/>
<circle cx="96.13" cy="221.21" r="0.8"/>
<circle cx="97.57" cy="223.09" r="0.8"/>
<circle cx="97.57" cy="221.04" r="0.8"/>
<circle cx="94.69" cy="221.81" r="0.8"/>
<circle cx="98.05" cy="222.64" r="0.8"/>
<circle cx="94.75" cy="223.02" r="0.8"/>
<circle cx="97.02" cy="223.76" r="0.8"/>
<circle cx="96.7" cy="221.45" r="0.8"/>
<circle cx="96.13" cy="225.77" r="0.8"/>
<circle cx="94.69" cy="224.71" r="0.8"/>
<circle cx="94.33" cy="223.14" r="0.8"/>
<circle cx="97.57" cy="226.78" r="0.8"/>
<circle cx="97.46" cy="224.23" r="0.8"/>
<circle cx="96.13" cy="228.13" r="0.8"/>
<circle cx="97.68" cy="224.85" r="0.8"/>
<circle cx="96.64" cy="221.74" r="0.8"/>
<circle cx="101.88" cy="224.6" r="0.8"/>
<circle cx="101.88" cy="228.66" r="0.8"/>
<circle cx="101.88" cy="222.21" r="0.8"/>
<circle cx="103.32" cy="221.82" r="0.8"/>
<circle cx="103.32" cy="228.85" r="0.8"/>
<circle cx="103.32" cy="224.27" r="0.8"/>
<circle cx="100.44" cy="222.58" r="0.8"/>
<circle cx="100.44" cy="228.51" r="0.8"/>
<circle cx="102.12" cy="228.67" r="0.8"/>
<circle cx="101.88" cy="226.79" r="0.8"/>
<circle cx="100.44" cy="225.7" r="0.8"/>
<circle cx="102.39" cy="227.62" r="0.8"/>
<circle cx="100.44" cy="224.07" r="0.8"/>
<circle cx="102.38" cy="223.52" r="0.8"/>
<circle cx="102.6" cy="222.57" r="0.8"/>
<circle cx="101.84" cy="222.4" r="0.8"/>
<circle cx="101.88" cy="220.42" r="0.8"/>
<line x1="96.33" y1="225.38" x2="96.33" y2="222.9" stroke="#000" stroke-width="0.9"/>
<line x1="94.83" y1="222.9" x2="97.83" y2="222.9" stroke="#000" stroke-width="0.9"/>
<line x1="102.08" y1="226.38" x2="102.08" y2="223.9" stroke="#000" stroke-width="0.9"/>
<line x1="100.58" y1="223.9" x2="103.58" y2="223.9" stroke="#000" stroke-width="0.9"/>
<path d="M99.11 179L99.11 182.6M97.55 179.9L100.67 181.7M97.55 181.7L100.67 179.9" stroke="#000" stroke-width="1.2" stroke-linecap="round"/>
<line x1="96.11" y1="188.3" x2="102.11" y2="188.3" stroke="#000" stroke-width="1.1"/>
<text x="102.51" y="254" font-size="7.35" font-style="italic" text-anchor="end" transform="rotate(-45 102.51 254)" stroke="#000" stroke-width="0.2">SLC30A5</text>
<rect x="107.2" y="223.4" width="6.15" height="24.8" fill="#FFE0C2"/>
<path d="M107.7 248.2V223.9H112.85V248.2" fill="none" stroke="#000" stroke-width="1"/>
<rect x="112.95" y="221.91" width="6.15" height="26.29" fill="#F7403F"/>
<path d="M113.45 248.2V222.41H118.6V248.2" fill="none" stroke="#000" stroke-width="1"/>
<circle cx="110.08" cy="219.52" r="0.8"/>
<circle cx="110.08" cy="217.98" r="0.8"/>
<circle cx="110.08" cy="222.32" r="0.8"/>
<circle cx="111.52" cy="222.44" r="0.8"/>
<circle cx="110.08" cy="225.34" r="0.8"/>
<circle cx="111.52" cy="225.96" r="0.8"/>
<circle cx="108.64" cy="223.21" r="0.8"/>
<circle cx="111.52" cy="218.7" r="0.8"/>
<circle cx="111.52" cy="220.77" r="0.8"/>
<circle cx="109.61" cy="222.42" r="0.8"/>
<circle cx="109.99" cy="221.43" r="0.8"/>
<circle cx="110.8" cy="222.8" r="0.8"/>
<circle cx="108.64" cy="218.42" r="0.8"/>
<circle cx="111.13" cy="221.28" r="0.8"/>
<circle cx="110.54" cy="218.5" r="0.8"/>
<circle cx="110.64" cy="219.55" r="0.8"/>
<circle cx="108.41" cy="222.85" r="0.8"/>
<circle cx="115.83" cy="219.78" r="0.8"/>
<circle cx="117.27" cy="219.4" r="0.8"/>
<circle cx="117.27" cy="221.01" r="0.8"/>
<circle cx="115.83" cy="223.03" r="0.8"/>
<circle cx="115.83" cy="221.28" r="0.8"/>
<circle cx="114.39" cy="221.08" r="0.8"/>
<circle cx="114.39" cy="219.1" r="0.8"/>
<circle cx="117.71" cy="220.19" r="0.8"/>
<circle cx="117.27" cy="222.71" r="0.8"/>
<circle cx="117.27" cy="224.28" r="0.8"/>
<circle cx="117.55" cy="221.85" r="0.8"/>
<circle cx="114.39" cy="222.76" r="0.8"/>
<circle cx="113.92" cy="223.68" r="0.8"/>
<circle cx="115.66" cy="221.21" r="0.8"/>
<circle cx="117.09" cy="222.14" r="0.8"/>
<circle cx="117.67" cy="220.66" r="0.8"/>
<circle cx="115.63" cy="219.62" r="0.8"/>
<line x1="110.28" y1="224.64" x2="110.28" y2="222.16" stroke="#000" stroke-width="0.9"/>
<line x1="108.78" y1="222.16" x2="111.78" y2="222.16" stroke="#000" stroke-width="0.9"/>
<line x1="116.03" y1="223.15" x2="116.03" y2="220.67" stroke="#000" stroke-width="0.9"/>
<line x1="114.53" y1="220.67" x2="117.53" y2="220.67" stroke="#000" stroke-width="0.9"/>
<path d="M113.05 179L113.05 182.6M111.49 179.9L114.61 181.7M111.49 181.7L114.61 179.9" stroke="#000" stroke-width="1.2" stroke-linecap="round"/>
<line x1="110.05" y1="188.3" x2="116.05" y2="188.3" stroke="#000" stroke-width="1.1"/>
<text x="116.45" y="254" font-size="7.35" font-style="italic" text-anchor="end" transform="rotate(-45 116.45 254)" stroke="#000" stroke-width="0.2">PM20D2</text>
<rect x="121.14" y="225.38" width="6.15" height="22.82" fill="#FFE0C2"/>
<path d="M121.64 248.2V225.88H126.79V248.2" fill="none" stroke="#000" stroke-width="1"/>
<rect x="126.89" y="224.14" width="6.15" height="24.06" fill="#F7403F"/>
<path d="M127.39 248.2V224.64H132.54V248.2" fill="none" stroke="#000" stroke-width="1"/>
<circle cx="124.02" cy="225.42" r="0.8"/>
<circle cx="125.45" cy="224.59" r="0.8"/>
<circle cx="124.02" cy="222.7" r="0.8"/>
<circle cx="125.45" cy="222.78" r="0.8"/>
<circle cx="122.58" cy="224.96" r="0.8"/>
<circle cx="122.14" cy="225.59" r="0.8"/>
<circle cx="122.05" cy="225.06" r="0.8"/>
<circle cx="124.02" cy="230.45" r="0.8"/>
<circle cx="123.98" cy="225.31" r="0.8"/>
<circle cx="125.45" cy="221.3" r="0.8"/>
<circle cx="124.02" cy="220.99" r="0.8"/>
<circle cx="125.45" cy="229.56" r="0.8"/>
<circle cx="123.82" cy="224.68" r="0.8"/>
<circle cx="123.23" cy="224.91" r="0.8"/>
<circle cx="125.45" cy="226.11" r="0.8"/>
<circle cx="122.58" cy="222.1" r="0.8"/>
<circle cx="122.6" cy="226.11" r="0.8"/>
<circle cx="129.76" cy="224.36" r="0.8"/>
<circle cx="129.76" cy="221.36" r="0.8"/>
<circle cx="131.2" cy="223.07" r="0.8"/>
<circle cx="128.32" cy="223.28" r="0.8"/>
<circle cx="127.98" cy="223.13" r="0.8"/>
<circle cx="129.76" cy="227.89" r="0.8"/>
<circle cx="129.76" cy="219.02" r="0.8"/>
<circle cx="131.2" cy="219.27" r="0.8"/>
<circle cx="128.19" cy="224.38" r="0.8"/>
<circle cx="131.2" cy="228.35" r="0.8"/>
<circle cx="131.09" cy="223.74" r="0.8"/>
<circle cx="131.2" cy="220.83" r="0.8"/>
<circle cx="129.76" cy="230.26" r="0.8"/>
<circle cx="129.76" cy="217.49" r="0.8"/>
<circle cx="128.92" cy="225.14" r="0.8"/>
<circle cx="131.49" cy="224.4" r="0.8"/>
<circle cx="128.77" cy="224.94" r="0.8"/>
<line x1="124.22" y1="226.62" x2="124.22" y2="224.14" stroke="#000" stroke-width="0.9"/>
<line x1="122.72" y1="224.14" x2="125.72" y2="224.14" stroke="#000" stroke-width="0.9"/>
<line x1="129.96" y1="225.38" x2="129.96" y2="222.9" stroke="#000" stroke-width="0.9"/>
<line x1="128.46" y1="222.9" x2="131.46" y2="222.9" stroke="#000" stroke-width="0.9"/>
<path d="M126.99 179L126.99 182.6M125.43 179.9L128.55 181.7M125.43 181.7L128.55 179.9" stroke="#000" stroke-width="1.2" stroke-linecap="round"/>
<line x1="123.99" y1="188.3" x2="129.99" y2="188.3" stroke="#000" stroke-width="1.1"/>
<text x="130.39" y="254" font-size="7.35" font-style="italic" text-anchor="end" transform="rotate(-45 130.39 254)" stroke="#000" stroke-width="0.2">SEMA3E</text>
<rect x="135.08" y="225.38" width="6.15" height="22.82" fill="#FFE0C2"/>
<path d="M135.58 248.2V225.88H140.73V248.2" fill="none" stroke="#000" stroke-width="1"/>
<rect x="140.83" y="222.66" width="6.15" height="25.54" fill="#F7403F"/>
<path d="M141.33 248.2V223.16H146.48V248.2" fill="none" stroke="#000" stroke-width="1"/>
<circle cx="137.95" cy="223.52" r="0.8"/>
<circle cx="139.39" cy="224.68" r="0.8"/>
<circle cx="137.95" cy="221.44" r="0.8"/>
<circle cx="136.51" cy="223.51" r="0.8"/>
<circle cx="139.39" cy="222.16" r="0.8"/>
<circle cx="137.95" cy="219.44" r="0.8"/>
<circle cx="137.95" cy="225.79" r="0.8"/>
<circle cx="138.53" cy="223.06" r="0.8"/>
<circle cx="137.95" cy="227.63" r="0.8"/>
<circle cx="139.39" cy="219.35" r="0.8"/>
<circle cx="139.39" cy="227.44" r="0.8"/>
<circle cx="136.51" cy="228.16" r="0.8"/>
<circle cx="136.51" cy="225.6" r="0.8"/>
<circle cx="136.51" cy="220.56" r="0.8"/>
<circle cx="137.11" cy="223.16" r="0.8"/>
<circle cx="136.17" cy="228.34" r="0.8"/>
<circle cx="139.64" cy="223.13" r="0.8"/>
<circle cx="143.7" cy="215.46" r="0.8"/>
<circle cx="143.7" cy="219.71" r="0.8"/>
<circle cx="145.14" cy="219.65" r="0.8"/>
<circle cx="143.7" cy="222.82" r="0.8"/>
<circle cx="142.26" cy="219.93" r="0.8"/>
<circle cx="145.14" cy="222.13" r="0.8"/>
<circle cx="143.7" cy="228.43" r="0.8"/>
<circle cx="142.26" cy="221.9" r="0.8"/>
<circle cx="143.7" cy="218.05" r="0.8"/>
<circle cx="142.6" cy="222.66" r="0.8"/>
<circle cx="145.31" cy="218.66" r="0.8"/>
<circle cx="145.67" cy="222.85" r="0.8"/>
<circle cx="143.51" cy="220.74" r="0.8"/>
<circle cx="142.28" cy="220.77" r="0.8"/>
<circle cx="142.49" cy="220.23" r="0.8"/>
<circle cx="142.09" cy="219.25" r="0.8"/>
<circle cx="143.08" cy="223.28" r="0.8"/>
<line x1="138.15" y1="226.62" x2="138.15" y2="224.14" stroke="#000" stroke-width="0.9"/>
<line x1="136.65" y1="224.14" x2="139.65" y2="224.14" stroke="#000" stroke-width="0.9"/>
<line x1="143.9" y1="223.9" x2="143.9" y2="221.42" stroke="#000" stroke-width="0.9"/>
<line x1="142.4" y1="221.42" x2="145.4" y2="221.42" stroke="#000" stroke-width="0.9"/>
<path d="M140.93 179L140.93 182.6M139.37 179.9L142.49 181.7M139.37 181.7L142.49 179.9" stroke="#000" stroke-width="1.2" stroke-linecap="round"/>
<line x1="137.93" y1="188.3" x2="143.93" y2="188.3" stroke="#000" stroke-width="1.1"/>
<text x="144.33" y="254" font-size="7.35" font-style="italic" text-anchor="end" transform="rotate(-45 144.33 254)" stroke="#000" stroke-width="0.2">CCDC34</text>
<rect x="149.02" y="223.4" width="6.15" height="24.8" fill="#FFE0C2"/>
<path d="M149.52 248.2V223.9H154.67V248.2" fill="none" stroke="#000" stroke-width="1"/>
<rect x="154.77" y="224.64" width="6.15" height="23.56" fill="#F7403F"/>
<path d="M155.27 248.2V225.14H160.42V248.2" fill="none" stroke="#000" stroke-width="1"/>
<circle cx="151.89" cy="212.24" r="0.8"/>
<circle cx="151.89" cy="213.98" r="0.8"/>
<circle cx="151.89" cy="220.87" r="0.8"/>
<circle cx="153.33" cy="221.41" r="0.8"/>
<circle cx="151.89" cy="222.58" r="0.8"/>
<circle cx="151.89" cy="219.19" r="0.8"/>
<circle cx="153.33" cy="219.27" r="0.8"/>
<circle cx="151.89" cy="225.09" r="0.8"/>
<circle cx="153.33" cy="224.6" r="0.8"/>
<circle cx="150.45" cy="221.07" r="0.8"/>
<circle cx="150.45" cy="224.79" r="0.8"/>
<circle cx="150.45" cy="222.77" r="0.8"/>
<circle cx="153.33" cy="222.88" r="0.8"/>
<circle cx="152.41" cy="221.65" r="0.8"/>
<circle cx="153.33" cy="223.53" r="0.8"/>
<circle cx="151.89" cy="216.01" r="0.8"/>
<circle cx="150.77" cy="220.34" r="0.8"/>
<circle cx="157.64" cy="213.98" r="0.8"/>
<circle cx="157.64" cy="215.46" r="0.8"/>
<circle cx="157.64" cy="221.56" r="0.8"/>
<circle cx="157.64" cy="223.89" r="0.8"/>
<circle cx="159.08" cy="221.79" r="0.8"/>
<circle cx="157.64" cy="225.83" r="0.8"/>
<circle cx="156.2" cy="222.06" r="0.8"/>
<circle cx="157.64" cy="219.03" r="0.8"/>
<circle cx="159.08" cy="225.02" r="0.8"/>
<circle cx="159.08" cy="223.28" r="0.8"/>
<circle cx="156.2" cy="224.02" r="0.8"/>
<circle cx="159.08" cy="219.83" r="0.8"/>
<circle cx="157.22" cy="222.86" r="0.8"/>
<circle cx="159.33" cy="221.42" r="0.8"/>
<circle cx="158.93" cy="225.36" r="0.8"/>
<circle cx="159.05" cy="223.69" r="0.8"/>
<circle cx="159.51" cy="223.67" r="0.8"/>
<line x1="152.09" y1="224.64" x2="152.09" y2="222.16" stroke="#000" stroke-width="0.9"/>
<line x1="150.59" y1="222.16" x2="153.59" y2="222.16" stroke="#000" stroke-width="0.9"/>
<line x1="157.84" y1="225.88" x2="157.84" y2="223.4" stroke="#000" stroke-width="0.9"/>
<line x1="156.34" y1="223.4" x2="159.34" y2="223.4" stroke="#000" stroke-width="0.9"/>
<path d="M154.87 179L154.87 182.6M153.31 179.9L156.43 181.7M153.31 181.7L156.43 179.9" stroke="#000" stroke-width="1.2" stroke-linecap="round"/>
<line x1="151.87" y1="188.3" x2="157.87" y2="188.3" stroke="#000" stroke-width="1.1"/>
<text x="158.27" y="254" font-size="7.35" font-style="italic" text-anchor="end" transform="rotate(-45 158.27 254)" stroke="#000" stroke-width="0.2">CAPNS1</text>
<rect x="162.96" y="223.4" width="6.15" height="24.8" fill="#FFE0C2"/>
<path d="M163.46 248.2V223.9H168.61V248.2" fill="none" stroke="#000" stroke-width="1"/>
<rect x="168.71" y="223.9" width="6.15" height="24.3" fill="#F7403F"/>
<path d="M169.21 248.2V224.4H174.36V248.2" fill="none" stroke="#000" stroke-width="1"/>
<circle cx="165.83" cy="222.4" r="0.8"/>
<circle cx="167.27" cy="221.22" r="0.8"/>
<circle cx="165.83" cy="220.7" r="0.8"/>
<circle cx="164.39" cy="219.92" r="0.8"/>
<circle cx="165.83" cy="224.85" r="0.8"/>
<circle cx="165.83" cy="227.79" r="0.8"/>
<circle cx="167.27" cy="223.04" r="0.8"/>
<circle cx="167.27" cy="225.93" r="0.8"/>
<circle cx="164.39" cy="222.15" r="0.8"/>
<circle cx="164.39" cy="225.14" r="0.8"/>
<circle cx="164.85" cy="223.08" r="0.8"/>
<circle cx="166.37" cy="222.63" r="0.8"/>
<circle cx="166.62" cy="222.04" r="0.8"/>
<circle cx="164.3" cy="224.18" r="0.8"/>
<circle cx="167.27" cy="219.28" r="0.8"/>
<circle cx="164.14" cy="224.13" r="0.8"/>
<circle cx="165.93" cy="222.84" r="0.8"/>
<circle cx="171.58" cy="221.68" r="0.8"/>
<circle cx="171.58" cy="225.04" r="0.8"/>
<circle cx="173.02" cy="224.13" r="0.8"/>
<circle cx="173.02" cy="222.35" r="0.8"/>
<circle cx="171.58" cy="219.59" r="0.8"/>
<circle cx="173.02" cy="220.81" r="0.8"/>
<circle cx="170.14" cy="222.77" r="0.8"/>
<circle cx="171.58" cy="228.98" r="0.8"/>
<circle cx="169.7" cy="221.37" r="0.8"/>
<circle cx="173.02" cy="226.07" r="0.8"/>
<circle cx="171.58" cy="226.96" r="0.8"/>
<circle cx="170.14" cy="224.7" r="0.8"/>
<circle cx="171.58" cy="222.62" r="0.8"/>
<circle cx="172.27" cy="222.79" r="0.8"/>
<circle cx="171.58" cy="216.6" r="0.8"/>
<circle cx="171.27" cy="223.5" r="0.8"/>
<circle cx="170.63" cy="224.94" r="0.8"/>
<line x1="166.03" y1="224.64" x2="166.03" y2="222.16" stroke="#000" stroke-width="0.9"/>
<line x1="164.53" y1="222.16" x2="167.53" y2="222.16" stroke="#000" stroke-width="0.9"/>
<line x1="171.78" y1="225.14" x2="171.78" y2="222.66" stroke="#000" stroke-width="0.9"/>
<line x1="170.28" y1="222.66" x2="173.28" y2="222.66" stroke="#000" stroke-width="0.9"/>
<path d="M168.81 179L168.81 182.6M167.25 179.9L170.37 181.7M167.25 181.7L170.37 179.9" stroke="#000" stroke-width="1.2" stroke-linecap="round"/>
<line x1="165.81" y1="188.3" x2="171.81" y2="188.3" stroke="#000" stroke-width="1.1"/>
<text x="172.21" y="254" font-size="7.35" font-style="italic" text-anchor="end" transform="rotate(-45 172.21 254)" stroke="#000" stroke-width="0.2">FGFRL1</text>
<rect x="176.9" y="223.4" width="6.15" height="24.8" fill="#FFE0C2"/>
<path d="M177.4 248.2V223.9H182.55V248.2" fill="none" stroke="#000" stroke-width="1"/>
<rect x="182.65" y="225.88" width="6.15" height="22.32" fill="#F7403F"/>
<path d="M183.15 248.2V226.38H188.3V248.2" fill="none" stroke="#000" stroke-width="1"/>
<circle cx="179.78" cy="216.7" r="0.8"/>
<circle cx="179.78" cy="225.21" r="0.8"/>
<circle cx="179.78" cy="227.31" r="0.8"/>
<circle cx="179.78" cy="222.31" r="0.8"/>
<circle cx="181.22" cy="221.76" r="0.8"/>
<circle cx="179.78" cy="223.77" r="0.8"/>
<circle cx="179.78" cy="220.2" r="0.8"/>
<circle cx="178.34" cy="223.09" r="0.8"/>
<circle cx="181.22" cy="223.91" r="0.8"/>
<circle cx="178.34" cy="221.22" r="0.8"/>
<circle cx="181.22" cy="226.3" r="0.8"/>
<circle cx="178.67" cy="224.09" r="0.8"/>
<circle cx="180.8" cy="222.46" r="0.8"/>
<circle cx="181.22" cy="220.3" r="0.8"/>
<circle cx="178.96" cy="222.81" r="0.8"/>
<circle cx="181.56" cy="221.64" r="0.8"/>
<circle cx="179.76" cy="224.03" r="0.8"/>
<circle cx="185.53" cy="218.44" r="0.8"/>
<circle cx="185.53" cy="224.21" r="0.8"/>
<circle cx="186.97" cy="223.26" r="0.8"/>
<circle cx="185.53" cy="228.07" r="0.8"/>
<circle cx="184.09" cy="223.06" r="0.8"/>
<circle cx="187.49" cy="223.56" r="0.8"/>
<circle cx="186.97" cy="225.33" r="0.8"/>
<circle cx="185.53" cy="226.23" r="0.8"/>
<circle cx="187.23" cy="223.82" r="0.8"/>
<circle cx="184.85" cy="223.53" r="0.8"/>
<circle cx="184.09" cy="225.11" r="0.8"/>
<circle cx="184.28" cy="224.06" r="0.8"/>
<circle cx="187.25" cy="224.61" r="0.8"/>
<circle cx="186.97" cy="229.04" r="0.8"/>
<circle cx="185.53" cy="221.6" r="0.8"/>
<circle cx="186.5" cy="221.89" r="0.8"/>
<circle cx="186.97" cy="227.58" r="0.8"/>
<line x1="179.97" y1="224.64" x2="179.97" y2="222.16" stroke="#000" stroke-width="0.9"/>
<line x1="178.47" y1="222.16" x2="181.47" y2="222.16" stroke="#000" stroke-width="0.9"/>
<line x1="185.72" y1="227.12" x2="185.72" y2="224.64" stroke="#000" stroke-width="0.9"/>
<line x1="184.22" y1="224.64" x2="187.22" y2="224.64" stroke="#000" stroke-width="0.9"/>
<path d="M182.75 179L182.75 182.6M181.19 179.9L184.31 181.7M181.19 181.7L184.31 179.9" stroke="#000" stroke-width="1.2" stroke-linecap="round"/>
<line x1="179.75" y1="188.3" x2="185.75" y2="188.3" stroke="#000" stroke-width="1.1"/>
<text x="186.15" y="254" font-size="7.35" font-style="italic" text-anchor="end" transform="rotate(-45 186.15 254)" stroke="#000" stroke-width="0.2">ADHFE1</text>
<rect x="190.84" y="223.9" width="6.15" height="24.3" fill="#FFE0C2"/>
<path d="M191.34 248.2V224.4H196.49V248.2" fill="none" stroke="#000" stroke-width="1"/>
<rect x="196.59" y="220.92" width="6.15" height="27.28" fill="#F7403F"/>
<path d="M197.09 248.2V221.42H202.24V248.2" fill="none" stroke="#000" stroke-width="1"/>
<circle cx="193.72" cy="215.96" r="0.8"/>
<circle cx="193.72" cy="219.31" r="0.8"/>
<circle cx="193.72" cy="222.17" r="0.8"/>
<circle cx="193.72" cy="224.64" r="0.8"/>
<circle cx="195.16" cy="221.25" r="0.8"/>
<circle cx="195.16" cy="223.65" r="0.8"/>
<circle cx="192.28" cy="221.59" r="0.8"/>
<circle cx="193.45" cy="220.89" r="0.8"/>
<circle cx="191.93" cy="222.87" r="0.8"/>
<circle cx="193.72" cy="226.59" r="0.8"/>
<circle cx="195.16" cy="217.93" r="0.8"/>
<circle cx="192.28" cy="218.34" r="0.8"/>
<circle cx="193.61" cy="218.41" r="0.8"/>
<circle cx="193.21" cy="222.29" r="0.8"/>
<circle cx="195.37" cy="220.66" r="0.8"/>
<circle cx="192.5" cy="220.9" r="0.8"/>
<circle cx="195.16" cy="227.05" r="0.8"/>
<circle cx="199.47" cy="223.41" r="0.8"/>
<circle cx="199.47" cy="215.95" r="0.8"/>
<circle cx="199.47" cy="217.42" r="0.8"/>
<circle cx="199.47" cy="219.45" r="0.8"/>
<circle cx="200.91" cy="218.33" r="0.8"/>
<circle cx="200.91" cy="223.84" r="0.8"/>
<circle cx="198.03" cy="219.29" r="0.8"/>
<circle cx="200.32" cy="219.76" r="0.8"/>
<circle cx="200.91" cy="214.78" r="0.8"/>
<circle cx="198.03" cy="217.79" r="0.8"/>
<circle cx="198.74" cy="220.11" r="0.8"/>
<circle cx="198.03" cy="215.82" r="0.8"/>
<circle cx="198.58" cy="218.11" r="0.8"/>
<circle cx="200.91" cy="221.27" r="0.8"/>
<circle cx="197.5" cy="220.8" r="0.8"/>
<circle cx="199.47" cy="213.75" r="0.8"/>
<circle cx="199.47" cy="221.36" r="0.8"/>
<line x1="193.91" y1="225.14" x2="193.91" y2="222.66" stroke="#000" stroke-width="0.9"/>
<line x1="192.41" y1="222.66" x2="195.41" y2="222.66" stroke="#000" stroke-width="0.9"/>
<line x1="199.66" y1="222.16" x2="199.66" y2="219.68" stroke="#000" stroke-width="0.9"/>
<line x1="198.16" y1="219.68" x2="201.16" y2="219.68" stroke="#000" stroke-width="0.9"/>
<path d="M196.69 179L196.69 182.6M195.13 179.9L198.25 181.7M195.13 181.7L198.25 179.9" stroke="#000" stroke-width="1.2" stroke-linecap="round"/>
<line x1="193.69" y1="188.3" x2="199.69" y2="188.3" stroke="#000" stroke-width="1.1"/>
<text x="200.09" y="254" font-size="7.35" font-style="italic" text-anchor="end" transform="rotate(-45 200.09 254)" stroke="#000" stroke-width="0.2">C12orf32</text>
<rect x="204.78" y="223.4" width="6.15" height="24.8" fill="#FFE0C2"/>
<path d="M205.28 248.2V223.9H210.43V248.2" fill="none" stroke="#000" stroke-width="1"/>
<rect x="210.53" y="223.4" width="6.15" height="24.8" fill="#F7403F"/>
<path d="M211.03 248.2V223.9H216.18V248.2" fill="none" stroke="#000" stroke-width="1"/>
<circle cx="207.66" cy="223.7" r="0.8"/>
<circle cx="207.66" cy="222.21" r="0.8"/>
<circle cx="207.66" cy="227.93" r="0.8"/>
<circle cx="207.66" cy="226.37" r="0.8"/>
<circle cx="209.09" cy="226.84" r="0.8"/>
<circle cx="207.66" cy="220.62" r="0.8"/>
<circle cx="209.09" cy="222.13" r="0.8"/>
<circle cx="209.09" cy="228.55" r="0.8"/>
<circle cx="206.22" cy="221.44" r="0.8"/>
<circle cx="209.09" cy="220.06" r="0.8"/>
<circle cx="206.22" cy="223.11" r="0.8"/>
<circle cx="208.6" cy="222.43" r="0.8"/>
<circle cx="206.22" cy="219.78" r="0.8"/>
<circle cx="206.22" cy="228.09" r="0.8"/>
<circle cx="208.93" cy="222.17" r="0.8"/>
<circle cx="208.73" cy="220.58" r="0.8"/>
<circle cx="207.66" cy="218.33" r="0.8"/>
<circle cx="213.41" cy="224.14" r="0.8"/>
<circle cx="214.84" cy="223.79" r="0.8"/>
<circle cx="211.97" cy="223.4" r="0.8"/>
<circle cx="213.41" cy="220.28" r="0.8"/>
<circle cx="213.41" cy="222.21" r="0.8"/>
<circle cx="211.81" cy="223.39" r="0.8"/>
<circle cx="214.84" cy="221.06" r="0.8"/>
<circle cx="213.41" cy="218.49" r="0.8"/>
<circle cx="213.4" cy="222.39" r="0.8"/>
<circle cx="211.97" cy="221.5" r="0.8"/>
<circle cx="214.84" cy="219.33" r="0.8"/>
<circle cx="214.23" cy="221.74" r="0.8"/>
<circle cx="213.41" cy="225.59" r="0.8"/>
<circle cx="213.41" cy="216.23" r="0.8"/>
<circle cx="214.84" cy="216.93" r="0.8"/>
<circle cx="213.41" cy="227.33" r="0.8"/>
<circle cx="213.2" cy="222.51" r="0.8"/>
<line x1="207.85" y1="224.64" x2="207.85" y2="222.16" stroke="#000" stroke-width="0.9"/>
<line x1="206.35" y1="222.16" x2="209.35" y2="222.16" stroke="#000" stroke-width="0.9"/>
<line x1="213.6" y1="224.64" x2="213.6" y2="222.16" stroke="#000" stroke-width="0.9"/>
<line x1="212.1" y1="222.16" x2="215.1" y2="222.16" stroke="#000" stroke-width="0.9"/>
<path d="M210.63 179L210.63 182.6M209.07 179.9L212.19 181.7M209.07 181.7L212.19 179.9" stroke="#000" stroke-width="1.2" stroke-linecap="round"/>
<line x1="207.63" y1="188.3" x2="213.63" y2="188.3" stroke="#000" stroke-width="1.1"/>
<text x="214.03" y="254" font-size="7.35" font-style="italic" text-anchor="end" transform="rotate(-45 214.03 254)" stroke="#000" stroke-width="0.2">ZNF264</text>
<rect x="218.72" y="223.9" width="6.15" height="24.3" fill="#FFE0C2"/>
<path d="M219.22 248.2V224.4H224.37V248.2" fill="none" stroke="#000" stroke-width="1"/>
<rect x="224.47" y="224.14" width="6.15" height="24.06" fill="#F7403F"/>
<path d="M224.97 248.2V224.64H230.12V248.2" fill="none" stroke="#000" stroke-width="1"/>
<circle cx="221.59" cy="221.87" r="0.8"/>
<circle cx="223.03" cy="222.65" r="0.8"/>
<circle cx="221.59" cy="220.34" r="0.8"/>
<circle cx="221.59" cy="225.61" r="0.8"/>
<circle cx="223.03" cy="225.45" r="0.8"/>
<circle cx="220.16" cy="222.97" r="0.8"/>
<circle cx="221.59" cy="227.71" r="0.8"/>
<circle cx="221.59" cy="223.55" r="0.8"/>
<circle cx="220.23" cy="223.99" r="0.8"/>
<circle cx="223.11" cy="221.79" r="0.8"/>
<circle cx="221.9" cy="224.64" r="0.8"/>
<circle cx="220.91" cy="225.09" r="0.8"/>
<circle cx="221.18" cy="223.88" r="0.8"/>
<circle cx="223.54" cy="223.03" r="0.8"/>
<circle cx="221.62" cy="224.55" r="0.8"/>
<circle cx="220.53" cy="222.87" r="0.8"/>
<circle cx="220.16" cy="221.04" r="0.8"/>
<circle cx="227.34" cy="221.86" r="0.8"/>
<circle cx="227.34" cy="226.52" r="0.8"/>
<circle cx="228.78" cy="222" r="0.8"/>
<circle cx="225.91" cy="223.22" r="0.8"/>
<circle cx="228.78" cy="227.68" r="0.8"/>
<circle cx="226.4" cy="222.43" r="0.8"/>
<circle cx="227.34" cy="220.19" r="0.8"/>
<circle cx="225.91" cy="227.78" r="0.8"/>
<circle cx="228.44" cy="221.15" r="0.8"/>
<circle cx="229.11" cy="222.63" r="0.8"/>
<circle cx="225.79" cy="221.97" r="0.8"/>
<circle cx="227.72" cy="222.06" r="0.8"/>
<circle cx="225.91" cy="219.92" r="0.8"/>
<circle cx="227.34" cy="223.71" r="0.8"/>
<circle cx="227.82" cy="220.99" r="0.8"/>
<circle cx="228.78" cy="224.17" r="0.8"/>
<circle cx="226.23" cy="221.35" r="0.8"/>
<line x1="221.79" y1="225.14" x2="221.79" y2="222.66" stroke="#000" stroke-width="0.9"/>
<line x1="220.29" y1="222.66" x2="223.29" y2="222.66" stroke="#000" stroke-width="0.9"/>
<line x1="227.54" y1="225.38" x2="227.54" y2="222.9" stroke="#000" stroke-width="0.9"/>
<line x1="226.04" y1="222.9" x2="229.04" y2="222.9" stroke="#000" stroke-width="0.9"/>
<path d="M224.57 179L224.57 182.6M223.01 179.9L226.13 181.7M223.01 181.7L226.13 179.9" stroke="#000" stroke-width="1.2" stroke-linecap="round"/>
<line x1="221.57" y1="188.3" x2="227.57" y2="188.3" stroke="#000" stroke-width="1.1"/>
<text x="227.97" y="254" font-size="7.35" font-style="italic" text-anchor="end" transform="rotate(-45 227.97 254)" stroke="#000" stroke-width="0.2">RNF4</text>
<rect x="232.66" y="223.4" width="6.15" height="24.8" fill="#FFE0C2"/>
<path d="M233.16 248.2V223.9H238.31V248.2" fill="none" stroke="#000" stroke-width="1"/>
<rect x="238.41" y="224.14" width="6.15" height="24.06" fill="#F7403F"/>
<path d="M238.91 248.2V224.64H244.06V248.2" fill="none" stroke="#000" stroke-width="1"/>
<circle cx="235.53" cy="215.46" r="0.8"/>
<circle cx="235.53" cy="224.43" r="0.8"/>
<circle cx="236.97" cy="223.34" r="0.8"/>
<circle cx="235.53" cy="221.4" r="0.8"/>
<circle cx="236.97" cy="221.87" r="0.8"/>
<circle cx="234.09" cy="220.58" r="0.8"/>
<circle cx="236.97" cy="225.33" r="0.8"/>
<circle cx="234.09" cy="224.51" r="0.8"/>
<circle cx="234.09" cy="222.3" r="0.8"/>
<circle cx="233.96" cy="222.05" r="0.8"/>
<circle cx="235.12" cy="224.15" r="0.8"/>
<circle cx="235.53" cy="219.1" r="0.8"/>
<circle cx="235.73" cy="221.56" r="0.8"/>
<circle cx="236.08" cy="220.44" r="0.8"/>
<circle cx="233.92" cy="221.13" r="0.8"/>
<circle cx="236.97" cy="218.18" r="0.8"/>
<circle cx="234.21" cy="223.26" r="0.8"/>
<circle cx="241.28" cy="223.42" r="0.8"/>
<circle cx="242.72" cy="224.01" r="0.8"/>
<circle cx="241.28" cy="225.55" r="0.8"/>
<circle cx="239.84" cy="223.59" r="0.8"/>
<circle cx="241.28" cy="221.07" r="0.8"/>
<circle cx="242.72" cy="221.1" r="0.8"/>
<circle cx="242.87" cy="223.77" r="0.8"/>
<circle cx="239.84" cy="225.28" r="0.8"/>
<circle cx="240.98" cy="224.1" r="0.8"/>
<circle cx="241.28" cy="227.44" r="0.8"/>
<circle cx="239.84" cy="220.67" r="0.8"/>
<circle cx="242.55" cy="220.79" r="0.8"/>
<circle cx="240.91" cy="223.2" r="0.8"/>
<circle cx="242.8" cy="221.85" r="0.8"/>
<circle cx="241.28" cy="219.37" r="0.8"/>
<circle cx="241.13" cy="223.07" r="0.8"/>
<circle cx="239.95" cy="222.89" r="0.8"/>
<line x1="235.73" y1="224.64" x2="235.73" y2="222.16" stroke="#000" stroke-width="0.9"/>
<line x1="234.23" y1="222.16" x2="237.23" y2="222.16" stroke="#000" stroke-width="0.9"/>
<line x1="241.48" y1="225.38" x2="241.48" y2="222.9" stroke="#000" stroke-width="0.9"/>
<line x1="239.98" y1="222.9" x2="242.98" y2="222.9" stroke="#000" stroke-width="0.9"/>
<path d="M238.51 179L238.51 182.6M236.95 179.9L240.07 181.7M236.95 181.7L240.07 179.9" stroke="#000" stroke-width="1.2" stroke-linecap="round"/>
<line x1="235.51" y1="188.3" x2="241.51" y2="188.3" stroke="#000" stroke-width="1.1"/>
<text x="241.91" y="254" font-size="7.35" font-style="italic" text-anchor="end" transform="rotate(-45 241.91 254)" stroke="#000" stroke-width="0.2">PSMD13</text>
<rect x="252.1" y="224.39" width="6.15" height="23.81" fill="#FFE0C2"/>
<path d="M252.6 248.2V224.89H257.75V248.2" fill="none" stroke="#000" stroke-width="1"/>
<rect x="257.85" y="215.71" width="6.15" height="32.49" fill="#F7403F"/>
<path d="M258.35 248.2V216.21H263.5V248.2" fill="none" stroke="#000" stroke-width="1"/>
<circle cx="254.98" cy="215.96" r="0.8"/>
<circle cx="254.98" cy="218.44" r="0.8"/>
<circle cx="254.98" cy="220.27" r="0.8"/>
<circle cx="254.98" cy="223.11" r="0.8"/>
<circle cx="254.98" cy="226.85" r="0.8"/>
<circle cx="256.42" cy="227.61" r="0.8"/>
<circle cx="256.42" cy="220.47" r="0.8"/>
<circle cx="253.54" cy="221.56" r="0.8"/>
<circle cx="256.42" cy="225.42" r="0.8"/>
<circle cx="253.78" cy="221.27" r="0.8"/>
<circle cx="256.42" cy="222.17" r="0.8"/>
<circle cx="253.5" cy="221.79" r="0.8"/>
<circle cx="254.98" cy="229" r="0.8"/>
<circle cx="253.54" cy="224.15" r="0.8"/>
<circle cx="256.73" cy="221.17" r="0.8"/>
<circle cx="256.85" cy="221.58" r="0.8"/>
<circle cx="254.91" cy="221.21" r="0.8"/>
<circle cx="260.73" cy="204.55" r="0.8"/>
<circle cx="260.73" cy="207.53" r="0.8"/>
<circle cx="260.73" cy="210.01" r="0.8"/>
<circle cx="260.73" cy="212.24" r="0.8"/>
<circle cx="260.73" cy="220.81" r="0.8"/>
<circle cx="262.17" cy="209.37" r="0.8"/>
<circle cx="262.17" cy="212.86" r="0.8"/>
<circle cx="260.73" cy="218.81" r="0.8"/>
<circle cx="262.17" cy="211.24" r="0.8"/>
<circle cx="262.17" cy="218.09" r="0.8"/>
<circle cx="259.29" cy="217.89" r="0.8"/>
<circle cx="259.29" cy="212.39" r="0.8"/>
<circle cx="259.47" cy="211.04" r="0.8"/>
<circle cx="260.73" cy="214.28" r="0.8"/>
<circle cx="259.61" cy="212.23" r="0.8"/>
<circle cx="260.33" cy="212.07" r="0.8"/>
<circle cx="260.8" cy="218.55" r="0.8"/>
<line x1="255.17" y1="225.63" x2="255.17" y2="223.15" stroke="#000" stroke-width="0.9"/>
<line x1="253.67" y1="223.15" x2="256.67" y2="223.15" stroke="#000" stroke-width="0.9"/>
<line x1="260.93" y1="216.95" x2="260.93" y2="214.47" stroke="#000" stroke-width="0.9"/>
<line x1="259.43" y1="214.47" x2="262.43" y2="214.47" stroke="#000" stroke-width="0.9"/>
<path d="M257.95 179L257.95 182.6M256.39 179.9L259.51 181.7M256.39 181.7L259.51 179.9" stroke="#000" stroke-width="1.2" stroke-linecap="round"/>
<line x1="254.95" y1="188.3" x2="260.95" y2="188.3" stroke="#000" stroke-width="1.1"/>
<text x="261.35" y="254" font-size="7.35" font-style="italic" text-anchor="end" transform="rotate(-45 261.35 254)" stroke="#000" stroke-width="0.2">PCMTD2</text>
<rect x="266.04" y="223.4" width="6.15" height="24.8" fill="#FFE0C2"/>
<path d="M266.54 248.2V223.9H271.69V248.2" fill="none" stroke="#000" stroke-width="1"/>
<rect x="271.79" y="217.45" width="6.15" height="30.75" fill="#F7403F"/>
<path d="M272.29 248.2V217.95H277.44V248.2" fill="none" stroke="#000" stroke-width="1"/>
<circle cx="268.92" cy="223.35" r="0.8"/>
<circle cx="268.92" cy="221.56" r="0.8"/>
<circle cx="270.36" cy="222.33" r="0.8"/>
<circle cx="268.92" cy="218.42" r="0.8"/>
<circle cx="267.48" cy="221.83" r="0.8"/>
<circle cx="269.54" cy="222.84" r="0.8"/>
<circle cx="268.92" cy="226.27" r="0.8"/>
<circle cx="267.48" cy="224" r="0.8"/>
<circle cx="270.36" cy="217.81" r="0.8"/>
<circle cx="268.7" cy="221.28" r="0.8"/>
<circle cx="270.36" cy="219.93" r="0.8"/>
<circle cx="267.48" cy="220.15" r="0.8"/>
<circle cx="270.36" cy="225.72" r="0.8"/>
<circle cx="268.67" cy="223.49" r="0.8"/>
<circle cx="267.03" cy="223.3" r="0.8"/>
<circle cx="269.38" cy="219.98" r="0.8"/>
<circle cx="268.87" cy="224.68" r="0.8"/>
<circle cx="274.67" cy="213.23" r="0.8"/>
<circle cx="273.01" cy="213.23" r="0.8"/>
<circle cx="274.67" cy="217.75" r="0.8"/>
<circle cx="274.67" cy="216.07" r="0.8"/>
<circle cx="276.11" cy="212.26" r="0.8"/>
<circle cx="276.11" cy="215.94" r="0.8"/>
<circle cx="276.11" cy="219.15" r="0.8"/>
<circle cx="273.23" cy="215.25" r="0.8"/>
<circle cx="276.11" cy="213.92" r="0.8"/>
<circle cx="275.59" cy="215.44" r="0.8"/>
<circle cx="275.76" cy="215.65" r="0.8"/>
<circle cx="276.11" cy="217.44" r="0.8"/>
<circle cx="274.71" cy="216" r="0.8"/>
<circle cx="274.67" cy="219.22" r="0.8"/>
<circle cx="272.9" cy="215.4" r="0.8"/>
<circle cx="274.68" cy="213.04" r="0.8"/>
<circle cx="274.18" cy="215.56" r="0.8"/>
<line x1="269.12" y1="224.64" x2="269.12" y2="222.16" stroke="#000" stroke-width="0.9"/>
<line x1="267.62" y1="222.16" x2="270.62" y2="222.16" stroke="#000" stroke-width="0.9"/>
<line x1="274.87" y1="218.69" x2="274.87" y2="216.21" stroke="#000" stroke-width="0.9"/>
<line x1="273.37" y1="216.21" x2="276.37" y2="216.21" stroke="#000" stroke-width="0.9"/>
<path d="M271.89 179L271.89 182.6M270.33 179.9L273.45 181.7M270.33 181.7L273.45 179.9" stroke="#000" stroke-width="1.2" stroke-linecap="round"/>
<line x1="268.89" y1="188.3" x2="274.89" y2="188.3" stroke="#000" stroke-width="1.1"/>
<text x="275.29" y="254" font-size="7.35" font-style="italic" text-anchor="end" transform="rotate(-45 275.29 254)" stroke="#000" stroke-width="0.2">MRPS31</text>
<rect x="279.98" y="224.39" width="6.15" height="23.81" fill="#FFE0C2"/>
<path d="M280.48 248.2V224.89H285.63V248.2" fill="none" stroke="#000" stroke-width="1"/>
<rect x="285.73" y="225.88" width="6.15" height="22.32" fill="#F7403F"/>
<path d="M286.23 248.2V226.38H291.38V248.2" fill="none" stroke="#000" stroke-width="1"/>
<circle cx="282.86" cy="222.12" r="0.8"/>
<circle cx="282.86" cy="223.81" r="0.8"/>
<circle cx="282.86" cy="218.25" r="0.8"/>
<circle cx="282.86" cy="229.86" r="0.8"/>
<circle cx="284.3" cy="223.91" r="0.8"/>
<circle cx="282.86" cy="227.93" r="0.8"/>
<circle cx="284.3" cy="220.97" r="0.8"/>
<circle cx="284.3" cy="229.6" r="0.8"/>
<circle cx="281.42" cy="223.08" r="0.8"/>
<circle cx="284.42" cy="222.11" r="0.8"/>
<circle cx="281.97" cy="224.15" r="0.8"/>
<circle cx="284.1" cy="222.03" r="0.8"/>
<circle cx="281.42" cy="228.96" r="0.8"/>
<circle cx="281.42" cy="221.29" r="0.8"/>
<circle cx="281.45" cy="222.48" r="0.8"/>
<circle cx="282.86" cy="223.34" r="0.8"/>
<circle cx="284.51" cy="224.86" r="0.8"/>
<circle cx="288.61" cy="224.39" r="0.8"/>
<circle cx="290.05" cy="223.02" r="0.8"/>
<circle cx="288.61" cy="227.06" r="0.8"/>
<circle cx="290.05" cy="224.97" r="0.8"/>
<circle cx="287.17" cy="223.36" r="0.8"/>
<circle cx="288.92" cy="224.53" r="0.8"/>
<circle cx="288.61" cy="221.81" r="0.8"/>
<circle cx="288.61" cy="219.95" r="0.8"/>
<circle cx="290.05" cy="227.14" r="0.8"/>
<circle cx="288.61" cy="229.65" r="0.8"/>
<circle cx="290.12" cy="222.76" r="0.8"/>
<circle cx="290.05" cy="221.09" r="0.8"/>
<circle cx="287.04" cy="222.6" r="0.8"/>
<circle cx="290.55" cy="222.87" r="0.8"/>
<circle cx="287.17" cy="226.42" r="0.8"/>
<circle cx="289.12" cy="226.66" r="0.8"/>
<circle cx="288.19" cy="222.68" r="0.8"/>
<line x1="283.06" y1="225.63" x2="283.06" y2="223.15" stroke="#000" stroke-width="0.9"/>
<line x1="281.56" y1="223.15" x2="284.56" y2="223.15" stroke="#000" stroke-width="0.9"/>
<line x1="288.81" y1="227.12" x2="288.81" y2="224.64" stroke="#000" stroke-width="0.9"/>
<line x1="287.31" y1="224.64" x2="290.31" y2="224.64" stroke="#000" stroke-width="0.9"/>
<path d="M285.83 179L285.83 182.6M284.27 179.9L287.39 181.7M284.27 181.7L287.39 179.9" stroke="#000" stroke-width="1.2" stroke-linecap="round"/>
<line x1="282.83" y1="188.3" x2="288.83" y2="188.3" stroke="#000" stroke-width="1.1"/>
<text x="289.23" y="254" font-size="7.35" font-style="italic" text-anchor="end" transform="rotate(-45 289.23 254)" stroke="#000" stroke-width="0.2">NCSTN</text>
<rect x="293.92" y="222.66" width="6.15" height="25.54" fill="#FFE0C2"/>
<path d="M294.42 248.2V223.16H299.57V248.2" fill="none" stroke="#000" stroke-width="1"/>
<rect x="299.67" y="224.39" width="6.15" height="23.81" fill="#F7403F"/>
<path d="M300.17 248.2V224.89H305.32V248.2" fill="none" stroke="#000" stroke-width="1"/>
<circle cx="296.8" cy="213.73" r="0.8"/>
<circle cx="296.8" cy="216.7" r="0.8"/>
<circle cx="296.8" cy="218.44" r="0.8"/>
<circle cx="296.8" cy="223.92" r="0.8"/>
<circle cx="296.8" cy="221.09" r="0.8"/>
<circle cx="298.24" cy="223.52" r="0.8"/>
<circle cx="298.24" cy="218.41" r="0.8"/>
<circle cx="298.24" cy="221.86" r="0.8"/>
<circle cx="295.36" cy="224.36" r="0.8"/>
<circle cx="295.36" cy="218.42" r="0.8"/>
<circle cx="297.13" cy="223.11" r="0.8"/>
<circle cx="295.36" cy="221.12" r="0.8"/>
<circle cx="297.44" cy="221.7" r="0.8"/>
<circle cx="296.05" cy="222.44" r="0.8"/>
<circle cx="294.83" cy="220.86" r="0.8"/>
<circle cx="294.95" cy="223.38" r="0.8"/>
<circle cx="296.8" cy="226.24" r="0.8"/>
<circle cx="302.55" cy="218.44" r="0.8"/>
<circle cx="302.88" cy="218.44" r="0.8"/>
<circle cx="302.55" cy="228.88" r="0.8"/>
<circle cx="302.55" cy="221.37" r="0.8"/>
<circle cx="303.99" cy="220.63" r="0.8"/>
<circle cx="302.55" cy="226.11" r="0.8"/>
<circle cx="303.99" cy="222.17" r="0.8"/>
<circle cx="301.11" cy="222.35" r="0.8"/>
<circle cx="302.55" cy="224.21" r="0.8"/>
<circle cx="302.9" cy="222.89" r="0.8"/>
<circle cx="301.11" cy="219.83" r="0.8"/>
<circle cx="301.38" cy="223.22" r="0.8"/>
<circle cx="303.03" cy="223.37" r="0.8"/>
<circle cx="302.45" cy="224.12" r="0.8"/>
<circle cx="301.1" cy="222.47" r="0.8"/>
<circle cx="303.99" cy="224.5" r="0.8"/>
<circle cx="304.27" cy="222.02" r="0.8"/>
<line x1="297" y1="223.9" x2="297" y2="221.42" stroke="#000" stroke-width="0.9"/>
<line x1="295.5" y1="221.42" x2="298.5" y2="221.42" stroke="#000" stroke-width="0.9"/>
<line x1="302.75" y1="225.63" x2="302.75" y2="223.15" stroke="#000" stroke-width="0.9"/>
<line x1="301.25" y1="223.15" x2="304.25" y2="223.15" stroke="#000" stroke-width="0.9"/>
<path d="M299.77 179L299.77 182.6M298.21 179.9L301.33 181.7M298.21 181.7L301.33 179.9" stroke="#000" stroke-width="1.2" stroke-linecap="round"/>
<line x1="296.77" y1="188.3" x2="302.77" y2="188.3" stroke="#000" stroke-width="1.1"/>
<text x="303.17" y="254" font-size="7.35" font-style="italic" text-anchor="end" transform="rotate(-45 303.17 254)" stroke="#000" stroke-width="0.2">PPM1K</text>
<rect x="307.86" y="226.62" width="6.15" height="21.58" fill="#FFE0C2"/>
<path d="M308.36 248.2V227.12H313.51V248.2" fill="none" stroke="#000" stroke-width="1"/>
<rect x="313.61" y="226.38" width="6.15" height="21.82" fill="#F7403F"/>
<path d="M314.11 248.2V226.88H319.26V248.2" fill="none" stroke="#000" stroke-width="1"/>
<circle cx="310.74" cy="219.93" r="0.8"/>
<circle cx="310.74" cy="225.58" r="0.8"/>
<circle cx="312.18" cy="224.22" r="0.8"/>
<circle cx="310.74" cy="222.72" r="0.8"/>
<circle cx="309.3" cy="223.63" r="0.8"/>
<circle cx="312.18" cy="222.64" r="0.8"/>
<circle cx="310.74" cy="228.76" r="0.8"/>
<circle cx="310.74" cy="227.22" r="0.8"/>
<circle cx="309.74" cy="224.51" r="0.8"/>
<circle cx="309.3" cy="222.07" r="0.8"/>
<circle cx="312.33" cy="225.37" r="0.8"/>
<circle cx="312.18" cy="227.76" r="0.8"/>
<circle cx="309.3" cy="226.51" r="0.8"/>
<circle cx="308.93" cy="227.27" r="0.8"/>
<circle cx="310.86" cy="227.76" r="0.8"/>
<circle cx="310.36" cy="221.91" r="0.8"/>
<circle cx="309.7" cy="227.18" r="0.8"/>
<circle cx="316.49" cy="219.18" r="0.8"/>
<circle cx="316.49" cy="221.36" r="0.8"/>
<circle cx="316.49" cy="223.84" r="0.8"/>
<circle cx="317.93" cy="222.26" r="0.8"/>
<circle cx="317.93" cy="225.14" r="0.8"/>
<circle cx="315.05" cy="224.1" r="0.8"/>
<circle cx="316.49" cy="225.88" r="0.8"/>
<circle cx="317.6" cy="224.33" r="0.8"/>
<circle cx="315.05" cy="222.16" r="0.8"/>
<circle cx="316.49" cy="228.93" r="0.8"/>
<circle cx="317.34" cy="225.54" r="0.8"/>
<circle cx="314.54" cy="224.79" r="0.8"/>
<circle cx="315.05" cy="226.8" r="0.8"/>
<circle cx="317.85" cy="226.15" r="0.8"/>
<circle cx="317.45" cy="223.43" r="0.8"/>
<circle cx="317.93" cy="220.42" r="0.8"/>
<circle cx="316.35" cy="223.82" r="0.8"/>
<line x1="310.94" y1="227.86" x2="310.94" y2="225.38" stroke="#000" stroke-width="0.9"/>
<line x1="309.44" y1="225.38" x2="312.44" y2="225.38" stroke="#000" stroke-width="0.9"/>
<line x1="316.69" y1="227.62" x2="316.69" y2="225.14" stroke="#000" stroke-width="0.9"/>
<line x1="315.19" y1="225.14" x2="318.19" y2="225.14" stroke="#000" stroke-width="0.9"/>
<path d="M313.71 179L313.71 182.6M312.15 179.9L315.27 181.7M312.15 181.7L315.27 179.9" stroke="#000" stroke-width="1.2" stroke-linecap="round"/>
<line x1="310.71" y1="188.3" x2="316.71" y2="188.3" stroke="#000" stroke-width="1.1"/>
<text x="317.11" y="254" font-size="7.35" font-style="italic" text-anchor="end" transform="rotate(-45 317.11 254)" stroke="#000" stroke-width="0.2">SLC30A5</text>
<rect x="321.8" y="223.4" width="6.15" height="24.8" fill="#FFE0C2"/>
<path d="M322.3 248.2V223.9H327.45V248.2" fill="none" stroke="#000" stroke-width="1"/>
<rect x="327.55" y="215.22" width="6.15" height="32.98" fill="#F7403F"/>
<path d="M328.05 248.2V215.72H333.2V248.2" fill="none" stroke="#000" stroke-width="1"/>
<circle cx="324.68" cy="216.7" r="0.8"/>
<circle cx="324.68" cy="218.44" r="0.8"/>
<circle cx="324.68" cy="222.55" r="0.8"/>
<circle cx="324.68" cy="225.13" r="0.8"/>
<circle cx="326.12" cy="222.23" r="0.8"/>
<circle cx="323.24" cy="221.25" r="0.8"/>
<circle cx="323.75" cy="222.33" r="0.8"/>
<circle cx="325.24" cy="221.71" r="0.8"/>
<circle cx="326.12" cy="224.52" r="0.8"/>
<circle cx="326.12" cy="218.86" r="0.8"/>
<circle cx="323.24" cy="224.03" r="0.8"/>
<circle cx="324.68" cy="226.92" r="0.8"/>
<circle cx="326.51" cy="222.87" r="0.8"/>
<circle cx="323.56" cy="224.3" r="0.8"/>
<circle cx="326.18" cy="224.91" r="0.8"/>
<circle cx="322.76" cy="223.29" r="0.8"/>
<circle cx="323.73" cy="221.69" r="0.8"/>
<circle cx="330.43" cy="195.38" r="0.8"/>
<circle cx="332.32" cy="195.38" r="0.8"/>
<circle cx="330.43" cy="199.59" r="0.8"/>
<circle cx="330.43" cy="211.5" r="0.8"/>
<circle cx="330.43" cy="217.15" r="0.8"/>
<circle cx="330.43" cy="213.87" r="0.8"/>
<circle cx="331.87" cy="210.15" r="0.8"/>
<circle cx="328.99" cy="210.36" r="0.8"/>
<circle cx="330.43" cy="215.62" r="0.8"/>
<circle cx="331.87" cy="216.6" r="0.8"/>
<circle cx="330.43" cy="209.7" r="0.8"/>
<circle cx="331.87" cy="215.09" r="0.8"/>
<circle cx="331.87" cy="212.61" r="0.8"/>
<circle cx="330.3" cy="211.3" r="0.8"/>
<circle cx="328.99" cy="216.14" r="0.8"/>
<circle cx="331.77" cy="215.51" r="0.8"/>
<circle cx="328.99" cy="217.66" r="0.8"/>
<line x1="324.88" y1="224.64" x2="324.88" y2="222.16" stroke="#000" stroke-width="0.9"/>
<line x1="323.38" y1="222.16" x2="326.38" y2="222.16" stroke="#000" stroke-width="0.9"/>
<line x1="330.62" y1="216.46" x2="330.62" y2="213.98" stroke="#000" stroke-width="0.9"/>
<line x1="329.12" y1="213.98" x2="332.12" y2="213.98" stroke="#000" stroke-width="0.9"/>
<path d="M327.65 179L327.65 182.6M326.09 179.9L329.21 181.7M326.09 181.7L329.21 179.9" stroke="#000" stroke-width="1.2" stroke-linecap="round"/>
<line x1="324.65" y1="188.3" x2="330.65" y2="188.3" stroke="#000" stroke-width="1.1"/>
<text x="331.05" y="254" font-size="7.35" font-style="italic" text-anchor="end" transform="rotate(-45 331.05 254)" stroke="#000" stroke-width="0.2">PM20D2</text>
<rect x="335.74" y="224.39" width="6.15" height="23.81" fill="#FFE0C2"/>
<path d="M336.24 248.2V224.89H341.39V248.2" fill="none" stroke="#000" stroke-width="1"/>
<rect x="341.49" y="226.62" width="6.15" height="21.58" fill="#F7403F"/>
<path d="M341.99 248.2V227.12H347.14V248.2" fill="none" stroke="#000" stroke-width="1"/>
<circle cx="338.62" cy="218.44" r="0.8"/>
<circle cx="338.62" cy="224.98" r="0.8"/>
<circle cx="338.62" cy="228.03" r="0.8"/>
<circle cx="340.06" cy="227.08" r="0.8"/>
<circle cx="338.62" cy="221.87" r="0.8"/>
<circle cx="340.06" cy="225.32" r="0.8"/>
<circle cx="337.18" cy="224.31" r="0.8"/>
<circle cx="340.06" cy="222.58" r="0.8"/>
<circle cx="338.62" cy="220.04" r="0.8"/>
<circle cx="340.06" cy="218.59" r="0.8"/>
<circle cx="340.06" cy="220.84" r="0.8"/>
<circle cx="336.75" cy="223.04" r="0.8"/>
<circle cx="336.8" cy="222.94" r="0.8"/>
<circle cx="337.18" cy="218.93" r="0.8"/>
<circle cx="339.38" cy="219.86" r="0.8"/>
<circle cx="339.14" cy="224.17" r="0.8"/>
<circle cx="339.39" cy="222.26" r="0.8"/>
<circle cx="344.37" cy="225.71" r="0.8"/>
<circle cx="345.81" cy="226.54" r="0.8"/>
<circle cx="344.37" cy="227.62" r="0.8"/>
<circle cx="342.93" cy="226.9" r="0.8"/>
<circle cx="344.37" cy="223.74" r="0.8"/>
<circle cx="344.37" cy="229.81" r="0.8"/>
<circle cx="345.81" cy="224.92" r="0.8"/>
<circle cx="345.65" cy="226.21" r="0.8"/>
<circle cx="344.37" cy="221.92" r="0.8"/>
<circle cx="345.81" cy="229.69" r="0.8"/>
<circle cx="342.93" cy="224.52" r="0.8"/>
<circle cx="344.88" cy="226.04" r="0.8"/>
<circle cx="343.53" cy="225.3" r="0.8"/>
<circle cx="342.78" cy="224.47" r="0.8"/>
<circle cx="345.81" cy="220.93" r="0.8"/>
<circle cx="342.78" cy="224.6" r="0.8"/>
<circle cx="345.38" cy="224.3" r="0.8"/>
<line x1="338.81" y1="225.63" x2="338.81" y2="223.15" stroke="#000" stroke-width="0.9"/>
<line x1="337.31" y1="223.15" x2="340.31" y2="223.15" stroke="#000" stroke-width="0.9"/>
<line x1="344.56" y1="227.86" x2="344.56" y2="225.38" stroke="#000" stroke-width="0.9"/>
<line x1="343.06" y1="225.38" x2="346.06" y2="225.38" stroke="#000" stroke-width="0.9"/>
<path d="M341.59 179L341.59 182.6M340.03 179.9L343.15 181.7M340.03 181.7L343.15 179.9" stroke="#000" stroke-width="1.2" stroke-linecap="round"/>
<line x1="338.59" y1="188.3" x2="344.59" y2="188.3" stroke="#000" stroke-width="1.1"/>
<text x="344.99" y="254" font-size="7.35" font-style="italic" text-anchor="end" transform="rotate(-45 344.99 254)" stroke="#000" stroke-width="0.2">SEMA3E</text>
<rect x="349.68" y="225.38" width="6.15" height="22.82" fill="#FFE0C2"/>
<path d="M350.18 248.2V225.88H355.33V248.2" fill="none" stroke="#000" stroke-width="1"/>
<rect x="355.43" y="218.69" width="6.15" height="29.51" fill="#F7403F"/>
<path d="M355.93 248.2V219.19H361.08V248.2" fill="none" stroke="#000" stroke-width="1"/>
<circle cx="352.56" cy="216.46" r="0.8"/>
<circle cx="352.56" cy="227.65" r="0.8"/>
<circle cx="352.56" cy="223.79" r="0.8"/>
<circle cx="352.56" cy="222.3" r="0.8"/>
<circle cx="354" cy="224.84" r="0.8"/>
<circle cx="351.12" cy="224.16" r="0.8"/>
<circle cx="353.63" cy="224.48" r="0.8"/>
<circle cx="354" cy="222.37" r="0.8"/>
<circle cx="351.95" cy="224.9" r="0.8"/>
<circle cx="354" cy="226.71" r="0.8"/>
<circle cx="351.12" cy="227.14" r="0.8"/>
<circle cx="352.56" cy="218.62" r="0.8"/>
<circle cx="352.56" cy="229.23" r="0.8"/>
<circle cx="353.36" cy="224.51" r="0.8"/>
<circle cx="352.7" cy="224.85" r="0.8"/>
<circle cx="351.44" cy="224.81" r="0.8"/>
<circle cx="353.99" cy="226.66" r="0.8"/>
<circle cx="358.31" cy="208.52" r="0.8"/>
<circle cx="358.31" cy="210.5" r="0.8"/>
<circle cx="358.28" cy="210.5" r="0.8"/>
<circle cx="358.31" cy="213.48" r="0.8"/>
<circle cx="358.31" cy="216.31" r="0.8"/>
<circle cx="359.75" cy="213.83" r="0.8"/>
<circle cx="356.87" cy="215.21" r="0.8"/>
<circle cx="359.75" cy="217.64" r="0.8"/>
<circle cx="356.87" cy="217.59" r="0.8"/>
<circle cx="357.7" cy="216.45" r="0.8"/>
<circle cx="356.87" cy="213.68" r="0.8"/>
<circle cx="359.62" cy="217.47" r="0.8"/>
<circle cx="357.36" cy="217.73" r="0.8"/>
<circle cx="358.31" cy="220.58" r="0.8"/>
<circle cx="360.06" cy="217.53" r="0.8"/>
<circle cx="357.45" cy="217.24" r="0.8"/>
<circle cx="359.75" cy="219.21" r="0.8"/>
<line x1="352.75" y1="226.62" x2="352.75" y2="224.14" stroke="#000" stroke-width="0.9"/>
<line x1="351.25" y1="224.14" x2="354.25" y2="224.14" stroke="#000" stroke-width="0.9"/>
<line x1="358.5" y1="219.93" x2="358.5" y2="217.45" stroke="#000" stroke-width="0.9"/>
<line x1="357" y1="217.45" x2="360" y2="217.45" stroke="#000" stroke-width="0.9"/>
<path d="M355.53 179L355.53 182.6M353.97 179.9L357.09 181.7M353.97 181.7L357.09 179.9" stroke="#000" stroke-width="1.2" stroke-linecap="round"/>
<line x1="352.53" y1="188.3" x2="358.53" y2="188.3" stroke="#000" stroke-width="1.1"/>
<text x="358.93" y="254" font-size="7.35" font-style="italic" text-anchor="end" transform="rotate(-45 358.93 254)" stroke="#000" stroke-width="0.2">CCDC34</text>
<rect x="363.62" y="224.14" width="6.15" height="24.06" fill="#FFE0C2"/>
<path d="M364.12 248.2V224.64H369.27V248.2" fill="none" stroke="#000" stroke-width="1"/>
<rect x="369.37" y="227.12" width="6.15" height="21.08" fill="#F7403F"/>
<path d="M369.87 248.2V227.62H375.02V248.2" fill="none" stroke="#000" stroke-width="1"/>
<circle cx="366.5" cy="222.31" r="0.8"/>
<circle cx="366.5" cy="219.4" r="0.8"/>
<circle cx="366.5" cy="224.35" r="0.8"/>
<circle cx="367.94" cy="223.14" r="0.8"/>
<circle cx="365.06" cy="223.82" r="0.8"/>
<circle cx="365.56" cy="223.92" r="0.8"/>
<circle cx="365.06" cy="222.25" r="0.8"/>
<circle cx="366.5" cy="226.88" r="0.8"/>
<circle cx="368.08" cy="222.35" r="0.8"/>
<circle cx="367.94" cy="226.55" r="0.8"/>
<circle cx="367.94" cy="224.7" r="0.8"/>
<circle cx="366.5" cy="221.17" r="0.8"/>
<circle cx="365.06" cy="227.26" r="0.8"/>
<circle cx="367.94" cy="219.95" r="0.8"/>
<circle cx="365.06" cy="218.7" r="0.8"/>
<circle cx="365.06" cy="220.48" r="0.8"/>
<circle cx="366.02" cy="221.49" r="0.8"/>
<circle cx="372.25" cy="225.86" r="0.8"/>
<circle cx="373.69" cy="224.78" r="0.8"/>
<circle cx="372.25" cy="227.33" r="0.8"/>
<circle cx="372.25" cy="229.09" r="0.8"/>
<circle cx="370.81" cy="225.39" r="0.8"/>
<circle cx="372.56" cy="226.01" r="0.8"/>
<circle cx="373.69" cy="230.27" r="0.8"/>
<circle cx="373.69" cy="227.52" r="0.8"/>
<circle cx="370.81" cy="227.95" r="0.8"/>
<circle cx="370.77" cy="226.8" r="0.8"/>
<circle cx="372.09" cy="224.85" r="0.8"/>
<circle cx="373.77" cy="224.11" r="0.8"/>
<circle cx="371.21" cy="229.17" r="0.8"/>
<circle cx="371.03" cy="226.2" r="0.8"/>
<circle cx="371.46" cy="227.64" r="0.8"/>
<circle cx="373.05" cy="230.09" r="0.8"/>
<circle cx="373.6" cy="224.52" r="0.8"/>
<line x1="366.69" y1="225.38" x2="366.69" y2="222.9" stroke="#000" stroke-width="0.9"/>
<line x1="365.19" y1="222.9" x2="368.19" y2="222.9" stroke="#000" stroke-width="0.9"/>
<line x1="372.44" y1="228.36" x2="372.44" y2="225.88" stroke="#000" stroke-width="0.9"/>
<line x1="370.94" y1="225.88" x2="373.94" y2="225.88" stroke="#000" stroke-width="0.9"/>
<path d="M369.47 179L369.47 182.6M367.91 179.9L371.03 181.7M367.91 181.7L371.03 179.9" stroke="#000" stroke-width="1.2" stroke-linecap="round"/>
<line x1="366.47" y1="188.3" x2="372.47" y2="188.3" stroke="#000" stroke-width="1.1"/>
<text x="372.87" y="254" font-size="7.35" font-style="italic" text-anchor="end" transform="rotate(-45 372.87 254)" stroke="#000" stroke-width="0.2">CAPNS1</text>
<rect x="377.56" y="224.14" width="6.15" height="24.06" fill="#FFE0C2"/>
<path d="M378.06 248.2V224.64H383.21V248.2" fill="none" stroke="#000" stroke-width="1"/>
<rect x="383.31" y="228.86" width="6.15" height="19.34" fill="#F7403F"/>
<path d="M383.81 248.2V229.36H388.96V248.2" fill="none" stroke="#000" stroke-width="1"/>
<circle cx="380.44" cy="211.74" r="0.8"/>
<circle cx="380.44" cy="217.7" r="0.8"/>
<circle cx="380.44" cy="222.34" r="0.8"/>
<circle cx="381.88" cy="221.96" r="0.8"/>
<circle cx="379" cy="223.12" r="0.8"/>
<circle cx="379" cy="220.95" r="0.8"/>
<circle cx="380.44" cy="224.61" r="0.8"/>
<circle cx="381.36" cy="223.36" r="0.8"/>
<circle cx="380.18" cy="223.91" r="0.8"/>
<circle cx="379.23" cy="221.73" r="0.8"/>
<circle cx="380.44" cy="219.19" r="0.8"/>
<circle cx="380.98" cy="223.77" r="0.8"/>
<circle cx="381.88" cy="218.06" r="0.8"/>
<circle cx="379" cy="219.36" r="0.8"/>
<circle cx="378.88" cy="221.19" r="0.8"/>
<circle cx="379.28" cy="221.7" r="0.8"/>
<circle cx="379.99" cy="218.76" r="0.8"/>
<circle cx="386.19" cy="228.31" r="0.8"/>
<circle cx="386.19" cy="225.42" r="0.8"/>
<circle cx="387.62" cy="227.33" r="0.8"/>
<circle cx="384.75" cy="226.89" r="0.8"/>
<circle cx="386.19" cy="231.55" r="0.8"/>
<circle cx="387.62" cy="231.37" r="0.8"/>
<circle cx="385.11" cy="227.87" r="0.8"/>
<circle cx="387.62" cy="229.2" r="0.8"/>
<circle cx="387.06" cy="227.55" r="0.8"/>
<circle cx="386.19" cy="229.87" r="0.8"/>
<circle cx="384.75" cy="229.4" r="0.8"/>
<circle cx="387.69" cy="228.17" r="0.8"/>
<circle cx="386.19" cy="233.27" r="0.8"/>
<circle cx="387.27" cy="230.8" r="0.8"/>
<circle cx="386.98" cy="226.49" r="0.8"/>
<circle cx="387.58" cy="227.88" r="0.8"/>
<circle cx="386.89" cy="230.46" r="0.8"/>
<line x1="380.63" y1="225.38" x2="380.63" y2="222.9" stroke="#000" stroke-width="0.9"/>
<line x1="379.13" y1="222.9" x2="382.13" y2="222.9" stroke="#000" stroke-width="0.9"/>
<line x1="386.38" y1="230.1" x2="386.38" y2="227.62" stroke="#000" stroke-width="0.9"/>
<line x1="384.88" y1="227.62" x2="387.88" y2="227.62" stroke="#000" stroke-width="0.9"/>
<path d="M383.41 179L383.41 182.6M381.85 179.9L384.97 181.7M381.85 181.7L384.97 179.9" stroke="#000" stroke-width="1.2" stroke-linecap="round"/>
<line x1="380.41" y1="188.3" x2="386.41" y2="188.3" stroke="#000" stroke-width="1.1"/>
<text x="386.81" y="254" font-size="7.35" font-style="italic" text-anchor="end" transform="rotate(-45 386.81 254)" stroke="#000" stroke-width="0.2">FGFRL1</text>
<rect x="391.5" y="222.9" width="6.15" height="25.3" fill="#FFE0C2"/>
<path d="M392 248.2V223.4H397.15V248.2" fill="none" stroke="#000" stroke-width="1"/>
<rect x="397.25" y="229.6" width="6.15" height="18.6" fill="#F7403F"/>
<path d="M397.75 248.2V230.1H402.9V248.2" fill="none" stroke="#000" stroke-width="1"/>
<circle cx="394.38" cy="211.74" r="0.8"/>
<circle cx="394.38" cy="215.22" r="0.8"/>
<circle cx="394.38" cy="218.44" r="0.8"/>
<circle cx="394.38" cy="223.63" r="0.8"/>
<circle cx="395.81" cy="224.03" r="0.8"/>
<circle cx="392.94" cy="223.26" r="0.8"/>
<circle cx="395.81" cy="218.69" r="0.8"/>
<circle cx="392.94" cy="219.8" r="0.8"/>
<circle cx="394.38" cy="220.42" r="0.8"/>
<circle cx="395.81" cy="221.12" r="0.8"/>
<circle cx="394.38" cy="225.75" r="0.8"/>
<circle cx="395.07" cy="223.2" r="0.8"/>
<circle cx="396.07" cy="223.28" r="0.8"/>
<circle cx="393.12" cy="224.34" r="0.8"/>
<circle cx="394.99" cy="220.65" r="0.8"/>
<circle cx="395.47" cy="223.75" r="0.8"/>
<circle cx="393.94" cy="223.67" r="0.8"/>
<circle cx="400.12" cy="218.44" r="0.8"/>
<circle cx="400.12" cy="235.32" r="0.8"/>
<circle cx="400.12" cy="228.18" r="0.8"/>
<circle cx="400.12" cy="225.59" r="0.8"/>
<circle cx="401.56" cy="227.87" r="0.8"/>
<circle cx="401.56" cy="226.31" r="0.8"/>
<circle cx="398.69" cy="224.94" r="0.8"/>
<circle cx="399.77" cy="225.81" r="0.8"/>
<circle cx="400.12" cy="229.7" r="0.8"/>
<circle cx="401.89" cy="226" r="0.8"/>
<circle cx="398.98" cy="226.68" r="0.8"/>
<circle cx="400.12" cy="232.42" r="0.8"/>
<circle cx="401.56" cy="229.61" r="0.8"/>
<circle cx="401.56" cy="232.14" r="0.8"/>
<circle cx="398.69" cy="228.88" r="0.8"/>
<circle cx="400.85" cy="227.17" r="0.8"/>
<circle cx="398.69" cy="231.26" r="0.8"/>
<line x1="394.57" y1="224.14" x2="394.57" y2="221.66" stroke="#000" stroke-width="0.9"/>
<line x1="393.07" y1="221.66" x2="396.07" y2="221.66" stroke="#000" stroke-width="0.9"/>
<line x1="400.32" y1="230.84" x2="400.32" y2="228.36" stroke="#000" stroke-width="0.9"/>
<line x1="398.82" y1="228.36" x2="401.82" y2="228.36" stroke="#000" stroke-width="0.9"/>
<path d="M397.35 179L397.35 182.6M395.79 179.9L398.91 181.7M395.79 181.7L398.91 179.9" stroke="#000" stroke-width="1.2" stroke-linecap="round"/>
<line x1="394.35" y1="188.3" x2="400.35" y2="188.3" stroke="#000" stroke-width="1.1"/>
<text x="400.75" y="254" font-size="7.35" font-style="italic" text-anchor="end" transform="rotate(-45 400.75 254)" stroke="#000" stroke-width="0.2">ADHFE1</text>
<rect x="405.44" y="224.64" width="6.15" height="23.56" fill="#FFE0C2"/>
<path d="M405.94 248.2V225.14H411.09V248.2" fill="none" stroke="#000" stroke-width="1"/>
<rect x="411.19" y="216.7" width="6.15" height="31.5" fill="#F7403F"/>
<path d="M411.69 248.2V217.2H416.84V248.2" fill="none" stroke="#000" stroke-width="1"/>
<circle cx="408.31" cy="217.7" r="0.8"/>
<circle cx="408.31" cy="226.93" r="0.8"/>
<circle cx="408.31" cy="221.02" r="0.8"/>
<circle cx="409.75" cy="218.5" r="0.8"/>
<circle cx="406.88" cy="218.67" r="0.8"/>
<circle cx="408.31" cy="224.17" r="0.8"/>
<circle cx="409.75" cy="222.98" r="0.8"/>
<circle cx="406.88" cy="224.03" r="0.8"/>
<circle cx="409.75" cy="221.17" r="0.8"/>
<circle cx="406.88" cy="221.07" r="0.8"/>
<circle cx="410.05" cy="223.43" r="0.8"/>
<circle cx="409.75" cy="227.02" r="0.8"/>
<circle cx="408.42" cy="221.81" r="0.8"/>
<circle cx="407.2" cy="224.81" r="0.8"/>
<circle cx="409.51" cy="222.09" r="0.8"/>
<circle cx="407.89" cy="223" r="0.8"/>
<circle cx="407.18" cy="219.62" r="0.8"/>
<circle cx="414.06" cy="211" r="0.8"/>
<circle cx="415.38" cy="211" r="0.8"/>
<circle cx="414.06" cy="212.76" r="0.8"/>
<circle cx="415.5" cy="212.59" r="0.8"/>
<circle cx="414.06" cy="214.43" r="0.8"/>
<circle cx="414.06" cy="218.99" r="0.8"/>
<circle cx="415.5" cy="218.84" r="0.8"/>
<circle cx="415.5" cy="215.1" r="0.8"/>
<circle cx="412.62" cy="214.75" r="0.8"/>
<circle cx="414.06" cy="209.39" r="0.8"/>
<circle cx="412.62" cy="217.85" r="0.8"/>
<circle cx="412.62" cy="212.89" r="0.8"/>
<circle cx="413.49" cy="213.8" r="0.8"/>
<circle cx="412.62" cy="219.86" r="0.8"/>
<circle cx="415.45" cy="217.74" r="0.8"/>
<circle cx="413.15" cy="215.3" r="0.8"/>
<circle cx="414.06" cy="216.94" r="0.8"/>
<line x1="408.51" y1="225.88" x2="408.51" y2="223.4" stroke="#000" stroke-width="0.9"/>
<line x1="407.01" y1="223.4" x2="410.01" y2="223.4" stroke="#000" stroke-width="0.9"/>
<line x1="414.26" y1="217.94" x2="414.26" y2="215.46" stroke="#000" stroke-width="0.9"/>
<line x1="412.76" y1="215.46" x2="415.76" y2="215.46" stroke="#000" stroke-width="0.9"/>
<path d="M411.29 179L411.29 182.6M409.73 179.9L412.85 181.7M409.73 181.7L412.85 179.9" stroke="#000" stroke-width="1.2" stroke-linecap="round"/>
<line x1="408.29" y1="188.3" x2="414.29" y2="188.3" stroke="#000" stroke-width="1.1"/>
<text x="414.69" y="254" font-size="7.35" font-style="italic" text-anchor="end" transform="rotate(-45 414.69 254)" stroke="#000" stroke-width="0.2">C12orf32</text>
<rect x="419.38" y="224.64" width="6.15" height="23.56" fill="#FFE0C2"/>
<path d="M419.88 248.2V225.14H425.03V248.2" fill="none" stroke="#000" stroke-width="1"/>
<rect x="425.13" y="227.12" width="6.15" height="21.08" fill="#F7403F"/>
<path d="M425.63 248.2V227.62H430.78V248.2" fill="none" stroke="#000" stroke-width="1"/>
<circle cx="422.25" cy="215.22" r="0.8"/>
<circle cx="422.25" cy="224.03" r="0.8"/>
<circle cx="423.69" cy="225" r="0.8"/>
<circle cx="422.25" cy="222.32" r="0.8"/>
<circle cx="420.81" cy="225.07" r="0.8"/>
<circle cx="423.69" cy="222.94" r="0.8"/>
<circle cx="422.25" cy="219.68" r="0.8"/>
<circle cx="420.81" cy="223.58" r="0.8"/>
<circle cx="420.51" cy="224.01" r="0.8"/>
<circle cx="420.81" cy="221.82" r="0.8"/>
<circle cx="423.55" cy="224.55" r="0.8"/>
<circle cx="423.69" cy="220.96" r="0.8"/>
<circle cx="422.25" cy="226.83" r="0.8"/>
<circle cx="423.86" cy="222.11" r="0.8"/>
<circle cx="423.38" cy="224.92" r="0.8"/>
<circle cx="420.83" cy="225.63" r="0.8"/>
<circle cx="423.69" cy="219.26" r="0.8"/>
<circle cx="428" cy="228.24" r="0.8"/>
<circle cx="428" cy="224.41" r="0.8"/>
<circle cx="429.44" cy="229.19" r="0.8"/>
<circle cx="429.44" cy="225.75" r="0.8"/>
<circle cx="428" cy="226.09" r="0.8"/>
<circle cx="428" cy="222.67" r="0.8"/>
<circle cx="429.44" cy="227.21" r="0.8"/>
<circle cx="426.56" cy="226.13" r="0.8"/>
<circle cx="429.55" cy="224.98" r="0.8"/>
<circle cx="428.43" cy="225" r="0.8"/>
<circle cx="429.12" cy="224.71" r="0.8"/>
<circle cx="428.67" cy="225.75" r="0.8"/>
<circle cx="426.56" cy="228.38" r="0.8"/>
<circle cx="429.44" cy="223.04" r="0.8"/>
<circle cx="426.56" cy="221.73" r="0.8"/>
<circle cx="429.56" cy="225.74" r="0.8"/>
<circle cx="429.14" cy="227.58" r="0.8"/>
<line x1="422.45" y1="225.88" x2="422.45" y2="223.4" stroke="#000" stroke-width="0.9"/>
<line x1="420.95" y1="223.4" x2="423.95" y2="223.4" stroke="#000" stroke-width="0.9"/>
<line x1="428.2" y1="228.36" x2="428.2" y2="225.88" stroke="#000" stroke-width="0.9"/>
<line x1="426.7" y1="225.88" x2="429.7" y2="225.88" stroke="#000" stroke-width="0.9"/>
<path d="M425.23 179L425.23 182.6M423.67 179.9L426.79 181.7M423.67 181.7L426.79 179.9" stroke="#000" stroke-width="1.2" stroke-linecap="round"/>
<line x1="422.23" y1="188.3" x2="428.23" y2="188.3" stroke="#000" stroke-width="1.1"/>
<text x="428.63" y="254" font-size="7.35" font-style="italic" text-anchor="end" transform="rotate(-45 428.63 254)" stroke="#000" stroke-width="0.2">ZNF264</text>
<rect x="433.32" y="224.14" width="6.15" height="24.06" fill="#FFE0C2"/>
<path d="M433.82 248.2V224.64H438.97V248.2" fill="none" stroke="#000" stroke-width="1"/>
<rect x="439.07" y="225.14" width="6.15" height="23.06" fill="#F7403F"/>
<path d="M439.57 248.2V225.64H444.72V248.2" fill="none" stroke="#000" stroke-width="1"/>
<circle cx="436.19" cy="222.28" r="0.8"/>
<circle cx="436.19" cy="224.55" r="0.8"/>
<circle cx="437.63" cy="224.23" r="0.8"/>
<circle cx="436.19" cy="226.01" r="0.8"/>
<circle cx="434.75" cy="223.29" r="0.8"/>
<circle cx="437.63" cy="225.81" r="0.8"/>
<circle cx="436.19" cy="220.82" r="0.8"/>
<circle cx="434.75" cy="225.27" r="0.8"/>
<circle cx="437.63" cy="223.32" r="0.8"/>
<circle cx="437.63" cy="221.35" r="0.8"/>
<circle cx="434.75" cy="221.3" r="0.8"/>
<circle cx="434.25" cy="220.93" r="0.8"/>
<circle cx="437.54" cy="220.56" r="0.8"/>
<circle cx="436.07" cy="222.15" r="0.8"/>
<circle cx="436.44" cy="221.38" r="0.8"/>
<circle cx="436.85" cy="220.88" r="0.8"/>
<circle cx="437.54" cy="226.24" r="0.8"/>
<circle cx="441.94" cy="224.11" r="0.8"/>
<circle cx="441.94" cy="225.97" r="0.8"/>
<circle cx="441.94" cy="222.32" r="0.8"/>
<circle cx="443.38" cy="223.19" r="0.8"/>
<circle cx="440.5" cy="224.38" r="0.8"/>
<circle cx="443.38" cy="226.44" r="0.8"/>
<circle cx="440.5" cy="226.82" r="0.8"/>
<circle cx="441.94" cy="220.8" r="0.8"/>
<circle cx="442.81" cy="223.54" r="0.8"/>
<circle cx="442.44" cy="226.5" r="0.8"/>
<circle cx="441.94" cy="229.38" r="0.8"/>
<circle cx="441.31" cy="227.54" r="0.8"/>
<circle cx="441.94" cy="218.01" r="0.8"/>
<circle cx="443.37" cy="226.99" r="0.8"/>
<circle cx="441.42" cy="224.33" r="0.8"/>
<circle cx="441.84" cy="223.62" r="0.8"/>
<circle cx="442.05" cy="224.53" r="0.8"/>
<line x1="436.39" y1="225.38" x2="436.39" y2="222.9" stroke="#000" stroke-width="0.9"/>
<line x1="434.89" y1="222.9" x2="437.89" y2="222.9" stroke="#000" stroke-width="0.9"/>
<line x1="442.14" y1="226.38" x2="442.14" y2="223.9" stroke="#000" stroke-width="0.9"/>
<line x1="440.64" y1="223.9" x2="443.64" y2="223.9" stroke="#000" stroke-width="0.9"/>
<path d="M439.17 179L439.17 182.6M437.61 179.9L440.73 181.7M437.61 181.7L440.73 179.9" stroke="#000" stroke-width="1.2" stroke-linecap="round"/>
<line x1="436.17" y1="188.3" x2="442.17" y2="188.3" stroke="#000" stroke-width="1.1"/>
<text x="442.57" y="254" font-size="7.35" font-style="italic" text-anchor="end" transform="rotate(-45 442.57 254)" stroke="#000" stroke-width="0.2">RNF4</text>
<rect x="447.26" y="224.14" width="6.15" height="24.06" fill="#FFE0C2"/>
<path d="M447.76 248.2V224.64H452.91V248.2" fill="none" stroke="#000" stroke-width="1"/>
<rect x="453.01" y="225.88" width="6.15" height="22.32" fill="#F7403F"/>
<path d="M453.51 248.2V226.38H458.66V248.2" fill="none" stroke="#000" stroke-width="1"/>
<circle cx="450.13" cy="210.5" r="0.8"/>
<circle cx="450.13" cy="216.7" r="0.8"/>
<circle cx="450.13" cy="222.93" r="0.8"/>
<circle cx="450.13" cy="224.84" r="0.8"/>
<circle cx="451.57" cy="225.54" r="0.8"/>
<circle cx="451.57" cy="222.12" r="0.8"/>
<circle cx="450.13" cy="227.53" r="0.8"/>
<circle cx="448.69" cy="224.7" r="0.8"/>
<circle cx="449.41" cy="224.39" r="0.8"/>
<circle cx="450.13" cy="218.67" r="0.8"/>
<circle cx="449.34" cy="225.57" r="0.8"/>
<circle cx="450.13" cy="221.48" r="0.8"/>
<circle cx="450.48" cy="223.55" r="0.8"/>
<circle cx="451.57" cy="220.23" r="0.8"/>
<circle cx="448.69" cy="219.58" r="0.8"/>
<circle cx="450.67" cy="223.72" r="0.8"/>
<circle cx="448.69" cy="222.57" r="0.8"/>
<circle cx="455.88" cy="227.03" r="0.8"/>
<circle cx="455.88" cy="224.74" r="0.8"/>
<circle cx="457.32" cy="225.58" r="0.8"/>
<circle cx="454.44" cy="225.77" r="0.8"/>
<circle cx="455.88" cy="229.98" r="0.8"/>
<circle cx="456.39" cy="225.65" r="0.8"/>
<circle cx="456.66" cy="225.11" r="0.8"/>
<circle cx="456.27" cy="224.97" r="0.8"/>
<circle cx="456.6" cy="224.62" r="0.8"/>
<circle cx="455.88" cy="222.83" r="0.8"/>
<circle cx="455.88" cy="219.69" r="0.8"/>
<circle cx="457.32" cy="227.71" r="0.8"/>
<circle cx="454.75" cy="227.18" r="0.8"/>
<circle cx="454.44" cy="223.57" r="0.8"/>
<circle cx="457.32" cy="230.17" r="0.8"/>
<circle cx="456.54" cy="227.51" r="0.8"/>
<circle cx="455.72" cy="227.11" r="0.8"/>
<line x1="450.33" y1="225.38" x2="450.33" y2="222.9" stroke="#000" stroke-width="0.9"/>
<line x1="448.83" y1="222.9" x2="451.83" y2="222.9" stroke="#000" stroke-width="0.9"/>
<line x1="456.08" y1="227.12" x2="456.08" y2="224.64" stroke="#000" stroke-width="0.9"/>
<line x1="454.58" y1="224.64" x2="457.58" y2="224.64" stroke="#000" stroke-width="0.9"/>
<path d="M453.11 179L453.11 182.6M451.55 179.9L454.67 181.7M451.55 181.7L454.67 179.9" stroke="#000" stroke-width="1.2" stroke-linecap="round"/>
<line x1="450.11" y1="188.3" x2="456.11" y2="188.3" stroke="#000" stroke-width="1.1"/>
<text x="456.51" y="254" font-size="7.35" font-style="italic" text-anchor="end" transform="rotate(-45 456.51 254)" stroke="#000" stroke-width="0.2">PSMD13</text>
<rect x="466.5" y="224.64" width="6.15" height="23.56" fill="#FFE0C2"/>
<path d="M467 248.2V225.14H472.15V248.2" fill="none" stroke="#000" stroke-width="1"/>
<rect x="472.25" y="218.44" width="6.15" height="29.76" fill="#F7403F"/>
<path d="M472.75 248.2V218.94H477.9V248.2" fill="none" stroke="#000" stroke-width="1"/>
<circle cx="469.38" cy="211.74" r="0.8"/>
<circle cx="469.38" cy="223.56" r="0.8"/>
<circle cx="470.81" cy="224.79" r="0.8"/>
<circle cx="467.94" cy="223.36" r="0.8"/>
<circle cx="470.81" cy="223.03" r="0.8"/>
<circle cx="469.93" cy="222.8" r="0.8"/>
<circle cx="469.38" cy="229.08" r="0.8"/>
<circle cx="467.94" cy="224.98" r="0.8"/>
<circle cx="469.38" cy="225.62" r="0.8"/>
<circle cx="467.94" cy="221.73" r="0.8"/>
<circle cx="469.38" cy="227.56" r="0.8"/>
<circle cx="471.09" cy="225.42" r="0.8"/>
<circle cx="467.62" cy="224.38" r="0.8"/>
<circle cx="469.64" cy="224.48" r="0.8"/>
<circle cx="469.38" cy="221.19" r="0.8"/>
<circle cx="467.56" cy="224.75" r="0.8"/>
<circle cx="470.81" cy="221.26" r="0.8"/>
<circle cx="475.12" cy="202.57" r="0.8"/>
<circle cx="475.12" cy="207.53" r="0.8"/>
<circle cx="475.12" cy="214.13" r="0.8"/>
<circle cx="476.56" cy="214.38" r="0.8"/>
<circle cx="475.12" cy="222.39" r="0.8"/>
<circle cx="475.12" cy="219.98" r="0.8"/>
<circle cx="475.12" cy="217.84" r="0.8"/>
<circle cx="476.56" cy="217.31" r="0.8"/>
<circle cx="476.56" cy="219.97" r="0.8"/>
<circle cx="473.69" cy="215.29" r="0.8"/>
<circle cx="475.12" cy="211" r="0.8"/>
<circle cx="473.69" cy="220.11" r="0.8"/>
<circle cx="473.21" cy="219.98" r="0.8"/>
<circle cx="473.69" cy="217.06" r="0.8"/>
<circle cx="473.17" cy="214.59" r="0.8"/>
<circle cx="475.85" cy="215.31" r="0.8"/>
<circle cx="473.63" cy="217.11" r="0.8"/>
<line x1="469.57" y1="225.88" x2="469.57" y2="223.4" stroke="#000" stroke-width="0.9"/>
<line x1="468.07" y1="223.4" x2="471.07" y2="223.4" stroke="#000" stroke-width="0.9"/>
<line x1="475.32" y1="219.68" x2="475.32" y2="217.2" stroke="#000" stroke-width="0.9"/>
<line x1="473.82" y1="217.2" x2="476.82" y2="217.2" stroke="#000" stroke-width="0.9"/>
<path d="M472.35 179L472.35 182.6M470.79 179.9L473.91 181.7M470.79 181.7L473.91 179.9" stroke="#000" stroke-width="1.2" stroke-linecap="round"/>
<line x1="469.35" y1="188.3" x2="475.35" y2="188.3" stroke="#000" stroke-width="1.1"/>
<text x="475.75" y="254" font-size="7.35" font-style="italic" text-anchor="end" transform="rotate(-45 475.75 254)" stroke="#000" stroke-width="0.2">PCMTD2</text>
<rect x="480.44" y="224.14" width="6.15" height="24.06" fill="#FFE0C2"/>
<path d="M480.94 248.2V224.64H486.09V248.2" fill="none" stroke="#000" stroke-width="1"/>
<rect x="486.19" y="221.42" width="6.15" height="26.78" fill="#F7403F"/>
<path d="M486.69 248.2V221.92H491.84V248.2" fill="none" stroke="#000" stroke-width="1"/>
<circle cx="483.31" cy="217.7" r="0.8"/>
<circle cx="483.31" cy="221.77" r="0.8"/>
<circle cx="484.75" cy="222.11" r="0.8"/>
<circle cx="483.31" cy="223.38" r="0.8"/>
<circle cx="481.88" cy="222.26" r="0.8"/>
<circle cx="484.75" cy="224.1" r="0.8"/>
<circle cx="483.31" cy="219.22" r="0.8"/>
<circle cx="484.14" cy="222.71" r="0.8"/>
<circle cx="483.16" cy="222.96" r="0.8"/>
<circle cx="484.75" cy="219.12" r="0.8"/>
<circle cx="485.02" cy="222.85" r="0.8"/>
<circle cx="482.34" cy="222.42" r="0.8"/>
<circle cx="485.15" cy="222.56" r="0.8"/>
<circle cx="483.31" cy="227.03" r="0.8"/>
<circle cx="481.88" cy="220.68" r="0.8"/>
<circle cx="484.75" cy="226.31" r="0.8"/>
<circle cx="484.17" cy="220.14" r="0.8"/>
<circle cx="489.06" cy="218.66" r="0.8"/>
<circle cx="490.5" cy="220" r="0.8"/>
<circle cx="489.06" cy="220.39" r="0.8"/>
<circle cx="489.06" cy="223.1" r="0.8"/>
<circle cx="490.5" cy="224.14" r="0.8"/>
<circle cx="490.5" cy="218.55" r="0.8"/>
<circle cx="487.62" cy="219.4" r="0.8"/>
<circle cx="490.24" cy="220.62" r="0.8"/>
<circle cx="487.62" cy="221.91" r="0.8"/>
<circle cx="488.52" cy="218.59" r="0.8"/>
<circle cx="490.5" cy="222.62" r="0.8"/>
<circle cx="489.64" cy="218.22" r="0.8"/>
<circle cx="489.58" cy="219.55" r="0.8"/>
<circle cx="488.74" cy="222.8" r="0.8"/>
<circle cx="488.61" cy="221.63" r="0.8"/>
<circle cx="490.2" cy="221.04" r="0.8"/>
<circle cx="490.82" cy="221.67" r="0.8"/>
<line x1="483.51" y1="225.38" x2="483.51" y2="222.9" stroke="#000" stroke-width="0.9"/>
<line x1="482.01" y1="222.9" x2="485.01" y2="222.9" stroke="#000" stroke-width="0.9"/>
<line x1="489.26" y1="222.66" x2="489.26" y2="220.18" stroke="#000" stroke-width="0.9"/>
<line x1="487.76" y1="220.18" x2="490.76" y2="220.18" stroke="#000" stroke-width="0.9"/>
<path d="M486.29 179L486.29 182.6M484.73 179.9L487.85 181.7M484.73 181.7L487.85 179.9" stroke="#000" stroke-width="1.2" stroke-linecap="round"/>
<line x1="483.29" y1="188.3" x2="489.29" y2="188.3" stroke="#000" stroke-width="1.1"/>
<text x="489.69" y="254" font-size="7.35" font-style="italic" text-anchor="end" transform="rotate(-45 489.69 254)" stroke="#000" stroke-width="0.2">MRPS31</text>
<rect x="494.38" y="222.9" width="6.15" height="25.3" fill="#FFE0C2"/>
<path d="M494.88 248.2V223.4H500.03V248.2" fill="none" stroke="#000" stroke-width="1"/>
<rect x="500.13" y="228.11" width="6.15" height="20.09" fill="#F7403F"/>
<path d="M500.63 248.2V228.61H505.78V248.2" fill="none" stroke="#000" stroke-width="1"/>
<circle cx="497.25" cy="221.22" r="0.8"/>
<circle cx="497.25" cy="225.04" r="0.8"/>
<circle cx="498.69" cy="222.14" r="0.8"/>
<circle cx="495.81" cy="221.07" r="0.8"/>
<circle cx="497.25" cy="218.1" r="0.8"/>
<circle cx="495.81" cy="222.54" r="0.8"/>
<circle cx="498.82" cy="220.87" r="0.8"/>
<circle cx="498.69" cy="223.88" r="0.8"/>
<circle cx="497.25" cy="227.29" r="0.8"/>
<circle cx="498.69" cy="226.13" r="0.8"/>
<circle cx="498.47" cy="220.27" r="0.8"/>
<circle cx="495.81" cy="224.85" r="0.8"/>
<circle cx="497.25" cy="222.86" r="0.8"/>
<circle cx="495.81" cy="219.46" r="0.8"/>
<circle cx="496.4" cy="220.07" r="0.8"/>
<circle cx="495.29" cy="223.47" r="0.8"/>
<circle cx="496.32" cy="223.25" r="0.8"/>
<circle cx="503" cy="230.21" r="0.8"/>
<circle cx="504.44" cy="230.03" r="0.8"/>
<circle cx="503" cy="225.58" r="0.8"/>
<circle cx="504.44" cy="225.03" r="0.8"/>
<circle cx="503" cy="231.86" r="0.8"/>
<circle cx="503" cy="222.59" r="0.8"/>
<circle cx="501.56" cy="225.89" r="0.8"/>
<circle cx="503.22" cy="225.23" r="0.8"/>
<circle cx="504.44" cy="231.73" r="0.8"/>
<circle cx="501.56" cy="228.9" r="0.8"/>
<circle cx="503" cy="227.99" r="0.8"/>
<circle cx="504.18" cy="224.45" r="0.8"/>
<circle cx="501.56" cy="230.74" r="0.8"/>
<circle cx="501.82" cy="229.31" r="0.8"/>
<circle cx="503.99" cy="232.15" r="0.8"/>
<circle cx="504.44" cy="227.72" r="0.8"/>
<circle cx="504.71" cy="226.26" r="0.8"/>
<line x1="497.45" y1="224.14" x2="497.45" y2="221.66" stroke="#000" stroke-width="0.9"/>
<line x1="495.95" y1="221.66" x2="498.95" y2="221.66" stroke="#000" stroke-width="0.9"/>
<line x1="503.2" y1="229.35" x2="503.2" y2="226.87" stroke="#000" stroke-width="0.9"/>
<line x1="501.7" y1="226.87" x2="504.7" y2="226.87" stroke="#000" stroke-width="0.9"/>
<path d="M500.23 179L500.23 182.6M498.67 179.9L501.79 181.7M498.67 181.7L501.79 179.9" stroke="#000" stroke-width="1.2" stroke-linecap="round"/>
<line x1="497.23" y1="188.3" x2="503.23" y2="188.3" stroke="#000" stroke-width="1.1"/>
<text x="503.63" y="254" font-size="7.35" font-style="italic" text-anchor="end" transform="rotate(-45 503.63 254)" stroke="#000" stroke-width="0.2">NCSTN</text>
<rect x="508.32" y="224.14" width="6.15" height="24.06" fill="#FFE0C2"/>
<path d="M508.82 248.2V224.64H513.97V248.2" fill="none" stroke="#000" stroke-width="1"/>
<rect x="514.07" y="229.6" width="6.15" height="18.6" fill="#F7403F"/>
<path d="M514.57 248.2V230.1H519.72V248.2" fill="none" stroke="#000" stroke-width="1"/>
<circle cx="511.19" cy="214.22" r="0.8"/>
<circle cx="511.19" cy="222.81" r="0.8"/>
<circle cx="511.19" cy="219.78" r="0.8"/>
<circle cx="511.19" cy="224.37" r="0.8"/>
<circle cx="512.63" cy="225.65" r="0.8"/>
<circle cx="512.63" cy="222.64" r="0.8"/>
<circle cx="511.19" cy="221.32" r="0.8"/>
<circle cx="509.75" cy="223.12" r="0.8"/>
<circle cx="511.19" cy="227.54" r="0.8"/>
<circle cx="512.63" cy="224.18" r="0.8"/>
<circle cx="511.28" cy="222.89" r="0.8"/>
<circle cx="509.75" cy="221.67" r="0.8"/>
<circle cx="512.63" cy="227.15" r="0.8"/>
<circle cx="511.1" cy="222.8" r="0.8"/>
<circle cx="512.63" cy="219.91" r="0.8"/>
<circle cx="509.75" cy="219.04" r="0.8"/>
<circle cx="509.75" cy="226.26" r="0.8"/>
<circle cx="516.94" cy="229.97" r="0.8"/>
<circle cx="518.38" cy="229.46" r="0.8"/>
<circle cx="516.94" cy="228.05" r="0.8"/>
<circle cx="518.38" cy="227.14" r="0.8"/>
<circle cx="515.5" cy="229.32" r="0.8"/>
<circle cx="515.5" cy="230.85" r="0.8"/>
<circle cx="518.38" cy="230.92" r="0.8"/>
<circle cx="516.33" cy="229.6" r="0.8"/>
<circle cx="517.02" cy="230.01" r="0.8"/>
<circle cx="515.05" cy="228.76" r="0.8"/>
<circle cx="516.94" cy="226.26" r="0.8"/>
<circle cx="515.1" cy="229.43" r="0.8"/>
<circle cx="518.88" cy="227.77" r="0.8"/>
<circle cx="516.94" cy="231.54" r="0.8"/>
<circle cx="518.39" cy="231.84" r="0.8"/>
<circle cx="515.5" cy="226.75" r="0.8"/>
<circle cx="516.89" cy="225.83" r="0.8"/>
<line x1="511.39" y1="225.38" x2="511.39" y2="222.9" stroke="#000" stroke-width="0.9"/>
<line x1="509.89" y1="222.9" x2="512.89" y2="222.9" stroke="#000" stroke-width="0.9"/>
<line x1="517.14" y1="230.84" x2="517.14" y2="228.36" stroke="#000" stroke-width="0.9"/>
<line x1="515.64" y1="228.36" x2="518.64" y2="228.36" stroke="#000" stroke-width="0.9"/>
<path d="M514.17 179L514.17 182.6M512.61 179.9L515.73 181.7M512.61 181.7L515.73 179.9" stroke="#000" stroke-width="1.2" stroke-linecap="round"/>
<line x1="511.17" y1="188.3" x2="517.17" y2="188.3" stroke="#000" stroke-width="1.1"/>
<text x="517.57" y="254" font-size="7.35" font-style="italic" text-anchor="end" transform="rotate(-45 517.57 254)" stroke="#000" stroke-width="0.2">PPM1K</text>
<rect x="522.26" y="222.9" width="6.15" height="25.3" fill="#FFE0C2"/>
<path d="M522.76 248.2V223.4H527.91V248.2" fill="none" stroke="#000" stroke-width="1"/>
<rect x="528.01" y="224.64" width="6.15" height="23.56" fill="#F7403F"/>
<path d="M528.51 248.2V225.14H533.66V248.2" fill="none" stroke="#000" stroke-width="1"/>
<circle cx="525.13" cy="223.67" r="0.8"/>
<circle cx="526.58" cy="222.7" r="0.8"/>
<circle cx="525.13" cy="221.44" r="0.8"/>
<circle cx="526.58" cy="224.48" r="0.8"/>
<circle cx="525.13" cy="217.91" r="0.8"/>
<circle cx="523.69" cy="223.31" r="0.8"/>
<circle cx="526.58" cy="219.24" r="0.8"/>
<circle cx="525.13" cy="227.71" r="0.8"/>
<circle cx="526.75" cy="221.93" r="0.8"/>
<circle cx="523.69" cy="221.22" r="0.8"/>
<circle cx="523.41" cy="221.44" r="0.8"/>
<circle cx="525.52" cy="220.42" r="0.8"/>
<circle cx="524.73" cy="221.22" r="0.8"/>
<circle cx="523.63" cy="221.51" r="0.8"/>
<circle cx="526.58" cy="226.61" r="0.8"/>
<circle cx="526.95" cy="223.68" r="0.8"/>
<circle cx="523.69" cy="227.72" r="0.8"/>
<circle cx="530.88" cy="222.09" r="0.8"/>
<circle cx="530.88" cy="223.79" r="0.8"/>
<circle cx="530.88" cy="220.45" r="0.8"/>
<circle cx="530.88" cy="227.59" r="0.8"/>
<circle cx="532.33" cy="228.45" r="0.8"/>
<circle cx="532.33" cy="224.85" r="0.8"/>
<circle cx="530.88" cy="225.82" r="0.8"/>
<circle cx="529.44" cy="225.03" r="0.8"/>
<circle cx="532.33" cy="223.18" r="0.8"/>
<circle cx="532.02" cy="225.29" r="0.8"/>
<circle cx="529.44" cy="223.52" r="0.8"/>
<circle cx="531.71" cy="222.96" r="0.8"/>
<circle cx="531.46" cy="223.73" r="0.8"/>
<circle cx="532.33" cy="221.34" r="0.8"/>
<circle cx="532.33" cy="219.24" r="0.8"/>
<circle cx="532.33" cy="226.73" r="0.8"/>
<circle cx="532.8" cy="223.25" r="0.8"/>
<line x1="525.34" y1="224.14" x2="525.34" y2="221.66" stroke="#000" stroke-width="0.9"/>
<line x1="523.84" y1="221.66" x2="526.84" y2="221.66" stroke="#000" stroke-width="0.9"/>
<line x1="531.09" y1="225.88" x2="531.09" y2="223.4" stroke="#000" stroke-width="0.9"/>
<line x1="529.59" y1="223.4" x2="532.59" y2="223.4" stroke="#000" stroke-width="0.9"/>
<path d="M528.11 179L528.11 182.6M526.55 179.9L529.67 181.7M526.55 181.7L529.67 179.9" stroke="#000" stroke-width="1.2" stroke-linecap="round"/>
<line x1="525.11" y1="188.3" x2="531.11" y2="188.3" stroke="#000" stroke-width="1.1"/>
<text x="531.51" y="254" font-size="7.35" font-style="italic" text-anchor="end" transform="rotate(-45 531.51 254)" stroke="#000" stroke-width="0.2">SLC30A5</text>
<rect x="536.2" y="223.9" width="6.15" height="24.3" fill="#FFE0C2"/>
<path d="M536.7 248.2V224.4H541.85V248.2" fill="none" stroke="#000" stroke-width="1"/>
<rect x="541.95" y="214.47" width="6.15" height="33.73" fill="#F7403F"/>
<path d="M542.45 248.2V214.97H547.6V248.2" fill="none" stroke="#000" stroke-width="1"/>
<circle cx="539.08" cy="206.04" r="0.8"/>
<circle cx="539.08" cy="209.26" r="0.8"/>
<circle cx="539.08" cy="223.56" r="0.8"/>
<circle cx="539.08" cy="221.6" r="0.8"/>
<circle cx="540.52" cy="222.43" r="0.8"/>
<circle cx="537.63" cy="222.72" r="0.8"/>
<circle cx="539.08" cy="228.77" r="0.8"/>
<circle cx="538.04" cy="223.83" r="0.8"/>
<circle cx="540.52" cy="224.78" r="0.8"/>
<circle cx="539.08" cy="226.41" r="0.8"/>
<circle cx="537.67" cy="225.17" r="0.8"/>
<circle cx="537.63" cy="221.17" r="0.8"/>
<circle cx="539.78" cy="221.55" r="0.8"/>
<circle cx="537.15" cy="222.96" r="0.8"/>
<circle cx="539.93" cy="221.63" r="0.8"/>
<circle cx="537.87" cy="224.4" r="0.8"/>
<circle cx="537.24" cy="222.73" r="0.8"/>
<circle cx="544.83" cy="191.66" r="0.8"/>
<circle cx="544.83" cy="206.78" r="0.8"/>
<circle cx="546.27" cy="206.78" r="0.8"/>
<circle cx="544.83" cy="211.91" r="0.8"/>
<circle cx="544.83" cy="214.25" r="0.8"/>
<circle cx="544.83" cy="208.92" r="0.8"/>
<circle cx="546.27" cy="215.49" r="0.8"/>
<circle cx="546.27" cy="212.44" r="0.8"/>
<circle cx="543.38" cy="214.36" r="0.8"/>
<circle cx="544.74" cy="214.54" r="0.8"/>
<circle cx="545.33" cy="213.12" r="0.8"/>
<circle cx="546.27" cy="209.18" r="0.8"/>
<circle cx="543.41" cy="215.54" r="0.8"/>
<circle cx="543.73" cy="215.36" r="0.8"/>
<circle cx="543.07" cy="215.44" r="0.8"/>
<circle cx="545.67" cy="215.95" r="0.8"/>
<circle cx="543.38" cy="209.58" r="0.8"/>
<line x1="539.28" y1="225.14" x2="539.28" y2="222.66" stroke="#000" stroke-width="0.9"/>
<line x1="537.78" y1="222.66" x2="540.78" y2="222.66" stroke="#000" stroke-width="0.9"/>
<line x1="545.03" y1="215.71" x2="545.03" y2="213.23" stroke="#000" stroke-width="0.9"/>
<line x1="543.53" y1="213.23" x2="546.53" y2="213.23" stroke="#000" stroke-width="0.9"/>
<path d="M542.05 179L542.05 182.6M540.49 179.9L543.61 181.7M540.49 181.7L543.61 179.9" stroke="#000" stroke-width="1.2" stroke-linecap="round"/>
<line x1="539.05" y1="188.3" x2="545.05" y2="188.3" stroke="#000" stroke-width="1.1"/>
<text x="545.45" y="254" font-size="7.35" font-style="italic" text-anchor="end" transform="rotate(-45 545.45 254)" stroke="#000" stroke-width="0.2">PM20D2</text>
<rect x="550.14" y="223.65" width="6.15" height="24.55" fill="#FFE0C2"/>
<path d="M550.64 248.2V224.15H555.79V248.2" fill="none" stroke="#000" stroke-width="1"/>
<rect x="555.89" y="226.38" width="6.15" height="21.82" fill="#F7403F"/>
<path d="M556.39 248.2V226.88H561.54V248.2" fill="none" stroke="#000" stroke-width="1"/>
<circle cx="553.01" cy="223.97" r="0.8"/>
<circle cx="554.46" cy="223.11" r="0.8"/>
<circle cx="553.01" cy="221.31" r="0.8"/>
<circle cx="551.57" cy="224.07" r="0.8"/>
<circle cx="551.87" cy="223.88" r="0.8"/>
<circle cx="551.57" cy="221.9" r="0.8"/>
<circle cx="552.93" cy="223.28" r="0.8"/>
<circle cx="553.01" cy="217.95" r="0.8"/>
<circle cx="552.17" cy="223.42" r="0.8"/>
<circle cx="554.46" cy="221.36" r="0.8"/>
<circle cx="554.46" cy="224.82" r="0.8"/>
<circle cx="552.06" cy="222.53" r="0.8"/>
<circle cx="551.84" cy="221.65" r="0.8"/>
<circle cx="552.48" cy="223.35" r="0.8"/>
<circle cx="554.95" cy="221.82" r="0.8"/>
<circle cx="554.98" cy="222.77" r="0.8"/>
<circle cx="553.01" cy="219.74" r="0.8"/>
<circle cx="558.76" cy="227.64" r="0.8"/>
<circle cx="558.76" cy="224.38" r="0.8"/>
<circle cx="558.76" cy="225.89" r="0.8"/>
<circle cx="560.21" cy="226.68" r="0.8"/>
<circle cx="558.76" cy="220.27" r="0.8"/>
<circle cx="560.21" cy="221.65" r="0.8"/>
<circle cx="560.21" cy="223.97" r="0.8"/>
<circle cx="557.32" cy="227.24" r="0.8"/>
<circle cx="557.32" cy="220.91" r="0.8"/>
<circle cx="557.32" cy="224.93" r="0.8"/>
<circle cx="557.65" cy="226.12" r="0.8"/>
<circle cx="559.05" cy="224.24" r="0.8"/>
<circle cx="557.34" cy="220.7" r="0.8"/>
<circle cx="557.5" cy="225.33" r="0.8"/>
<circle cx="559.83" cy="226.95" r="0.8"/>
<circle cx="559.6" cy="225.65" r="0.8"/>
<circle cx="558.76" cy="230.41" r="0.8"/>
<line x1="553.22" y1="224.89" x2="553.22" y2="222.41" stroke="#000" stroke-width="0.9"/>
<line x1="551.72" y1="222.41" x2="554.72" y2="222.41" stroke="#000" stroke-width="0.9"/>
<line x1="558.97" y1="227.62" x2="558.97" y2="225.14" stroke="#000" stroke-width="0.9"/>
<line x1="557.47" y1="225.14" x2="560.47" y2="225.14" stroke="#000" stroke-width="0.9"/>
<path d="M555.99 179L555.99 182.6M554.43 179.9L557.55 181.7M554.43 181.7L557.55 179.9" stroke="#000" stroke-width="1.2" stroke-linecap="round"/>
<line x1="552.99" y1="188.3" x2="558.99" y2="188.3" stroke="#000" stroke-width="1.1"/>
<text x="559.39" y="254" font-size="7.35" font-style="italic" text-anchor="end" transform="rotate(-45 559.39 254)" stroke="#000" stroke-width="0.2">SEMA3E</text>
<rect x="564.08" y="224.64" width="6.15" height="23.56" fill="#FFE0C2"/>
<path d="M564.58 248.2V225.14H569.73V248.2" fill="none" stroke="#000" stroke-width="1"/>
<rect x="569.83" y="222.16" width="6.15" height="26.04" fill="#F7403F"/>
<path d="M570.33 248.2V222.66H575.48V248.2" fill="none" stroke="#000" stroke-width="1"/>
<circle cx="566.96" cy="221.48" r="0.8"/>
<circle cx="566.96" cy="223.32" r="0.8"/>
<circle cx="568.4" cy="222.7" r="0.8"/>
<circle cx="568.4" cy="220.75" r="0.8"/>
<circle cx="565.51" cy="221.87" r="0.8"/>
<circle cx="566.96" cy="225.63" r="0.8"/>
<circle cx="565.51" cy="223.59" r="0.8"/>
<circle cx="565.2" cy="222.72" r="0.8"/>
<circle cx="565.51" cy="220.36" r="0.8"/>
<circle cx="568.4" cy="224.84" r="0.8"/>
<circle cx="566.96" cy="228.02" r="0.8"/>
<circle cx="565.51" cy="225.09" r="0.8"/>
<circle cx="568.18" cy="224.48" r="0.8"/>
<circle cx="566.96" cy="219.96" r="0.8"/>
<circle cx="566.3" cy="222.03" r="0.8"/>
<circle cx="568.4" cy="226.97" r="0.8"/>
<circle cx="568.31" cy="221.48" r="0.8"/>
<circle cx="572.71" cy="211.5" r="0.8"/>
<circle cx="572.71" cy="215.22" r="0.8"/>
<circle cx="574.15" cy="215.22" r="0.8"/>
<circle cx="572.71" cy="219.26" r="0.8"/>
<circle cx="572.71" cy="223.34" r="0.8"/>
<circle cx="571.26" cy="215.75" r="0.8"/>
<circle cx="574.15" cy="220.64" r="0.8"/>
<circle cx="572.71" cy="226.14" r="0.8"/>
<circle cx="571.26" cy="220.43" r="0.8"/>
<circle cx="572.71" cy="221.33" r="0.8"/>
<circle cx="572.78" cy="219.58" r="0.8"/>
<circle cx="572.49" cy="220" r="0.8"/>
<circle cx="574.15" cy="223.23" r="0.8"/>
<circle cx="572.77" cy="219.93" r="0.8"/>
<circle cx="571.21" cy="219.12" r="0.8"/>
<circle cx="573.55" cy="221.37" r="0.8"/>
<circle cx="573.96" cy="221.3" r="0.8"/>
<line x1="567.16" y1="225.88" x2="567.16" y2="223.4" stroke="#000" stroke-width="0.9"/>
<line x1="565.66" y1="223.4" x2="568.66" y2="223.4" stroke="#000" stroke-width="0.9"/>
<line x1="572.91" y1="223.4" x2="572.91" y2="220.92" stroke="#000" stroke-width="0.9"/>
<line x1="571.41" y1="220.92" x2="574.41" y2="220.92" stroke="#000" stroke-width="0.9"/>
<path d="M569.93 179L569.93 182.6M568.37 179.9L571.49 181.7M568.37 181.7L571.49 179.9" stroke="#000" stroke-width="1.2" stroke-linecap="round"/>
<line x1="566.93" y1="188.3" x2="572.93" y2="188.3" stroke="#000" stroke-width="1.1"/>
<text x="573.33" y="254" font-size="7.35" font-style="italic" text-anchor="end" transform="rotate(-45 573.33 254)" stroke="#000" stroke-width="0.2">CCDC34</text>
<rect x="578.02" y="223.4" width="6.15" height="24.8" fill="#FFE0C2"/>
<path d="M578.52 248.2V223.9H583.67V248.2" fill="none" stroke="#000" stroke-width="1"/>
<rect x="583.77" y="224.64" width="6.15" height="23.56" fill="#F7403F"/>
<path d="M584.27 248.2V225.14H589.42V248.2" fill="none" stroke="#000" stroke-width="1"/>
<circle cx="580.89" cy="220.96" r="0.8"/>
<circle cx="580.89" cy="224.04" r="0.8"/>
<circle cx="582.34" cy="222.99" r="0.8"/>
<circle cx="582.34" cy="224.77" r="0.8"/>
<circle cx="580.89" cy="222.4" r="0.8"/>
<circle cx="579.45" cy="223.29" r="0.8"/>
<circle cx="580.89" cy="218.12" r="0.8"/>
<circle cx="580.89" cy="226.82" r="0.8"/>
<circle cx="579.45" cy="225.38" r="0.8"/>
<circle cx="582.15" cy="222.31" r="0.8"/>
<circle cx="579.04" cy="225.43" r="0.8"/>
<circle cx="579.3" cy="222.99" r="0.8"/>
<circle cx="580.89" cy="215.97" r="0.8"/>
<circle cx="581.68" cy="221.57" r="0.8"/>
<circle cx="579.69" cy="222.15" r="0.8"/>
<circle cx="578.99" cy="220.86" r="0.8"/>
<circle cx="581.29" cy="220.9" r="0.8"/>
<circle cx="586.64" cy="222.52" r="0.8"/>
<circle cx="586.64" cy="226.32" r="0.8"/>
<circle cx="588.09" cy="225.04" r="0.8"/>
<circle cx="586.64" cy="223.99" r="0.8"/>
<circle cx="585.2" cy="224.75" r="0.8"/>
<circle cx="586.64" cy="220.96" r="0.8"/>
<circle cx="588.09" cy="226.53" r="0.8"/>
<circle cx="588.09" cy="222.43" r="0.8"/>
<circle cx="585.2" cy="223.29" r="0.8"/>
<circle cx="585.2" cy="226.57" r="0.8"/>
<circle cx="585.25" cy="223.53" r="0.8"/>
<circle cx="586.93" cy="223.88" r="0.8"/>
<circle cx="587.62" cy="222.4" r="0.8"/>
<circle cx="585.32" cy="224.76" r="0.8"/>
<circle cx="587.93" cy="222.9" r="0.8"/>
<circle cx="586.64" cy="227.78" r="0.8"/>
<circle cx="588.37" cy="226.34" r="0.8"/>
<line x1="581.1" y1="224.64" x2="581.1" y2="222.16" stroke="#000" stroke-width="0.9"/>
<line x1="579.6" y1="222.16" x2="582.6" y2="222.16" stroke="#000" stroke-width="0.9"/>
<line x1="586.85" y1="225.88" x2="586.85" y2="223.4" stroke="#000" stroke-width="0.9"/>
<line x1="585.35" y1="223.4" x2="588.35" y2="223.4" stroke="#000" stroke-width="0.9"/>
<path d="M583.87 179L583.87 182.6M582.31 179.9L585.43 181.7M582.31 181.7L585.43 179.9" stroke="#000" stroke-width="1.2" stroke-linecap="round"/>
<line x1="580.87" y1="188.3" x2="586.87" y2="188.3" stroke="#000" stroke-width="1.1"/>
<text x="587.27" y="254" font-size="7.35" font-style="italic" text-anchor="end" transform="rotate(-45 587.27 254)" stroke="#000" stroke-width="0.2">CAPNS1</text>
<rect x="591.96" y="223.4" width="6.15" height="24.8" fill="#FFE0C2"/>
<path d="M592.46 248.2V223.9H597.61V248.2" fill="none" stroke="#000" stroke-width="1"/>
<rect x="597.71" y="229.1" width="6.15" height="19.1" fill="#F7403F"/>
<path d="M598.21 248.2V229.6H603.36V248.2" fill="none" stroke="#000" stroke-width="1"/>
<circle cx="594.84" cy="205.05" r="0.8"/>
<circle cx="594.84" cy="214.72" r="0.8"/>
<circle cx="594.84" cy="224.39" r="0.8"/>
<circle cx="594.84" cy="220.74" r="0.8"/>
<circle cx="596.28" cy="220.79" r="0.8"/>
<circle cx="596.28" cy="224.97" r="0.8"/>
<circle cx="594.84" cy="227.09" r="0.8"/>
<circle cx="594.84" cy="218.81" r="0.8"/>
<circle cx="593.39" cy="222.03" r="0.8"/>
<circle cx="593.39" cy="224.63" r="0.8"/>
<circle cx="594.84" cy="222.27" r="0.8"/>
<circle cx="593.39" cy="220.17" r="0.8"/>
<circle cx="594.84" cy="228.84" r="0.8"/>
<circle cx="593.07" cy="219.65" r="0.8"/>
<circle cx="594.9" cy="220.57" r="0.8"/>
<circle cx="596.28" cy="227.57" r="0.8"/>
<circle cx="596.64" cy="220.5" r="0.8"/>
<circle cx="600.59" cy="232.53" r="0.8"/>
<circle cx="600.59" cy="226.39" r="0.8"/>
<circle cx="600.59" cy="228.87" r="0.8"/>
<circle cx="602.03" cy="231.21" r="0.8"/>
<circle cx="602.03" cy="226.46" r="0.8"/>
<circle cx="599.14" cy="230.12" r="0.8"/>
<circle cx="599.14" cy="225.82" r="0.8"/>
<circle cx="602.1" cy="225.72" r="0.8"/>
<circle cx="602.1" cy="227" r="0.8"/>
<circle cx="602.03" cy="228.62" r="0.8"/>
<circle cx="599.14" cy="228.13" r="0.8"/>
<circle cx="600.59" cy="223.91" r="0.8"/>
<circle cx="602.03" cy="223.07" r="0.8"/>
<circle cx="598.75" cy="227.14" r="0.8"/>
<circle cx="602.03" cy="233.86" r="0.8"/>
<circle cx="601.14" cy="231.14" r="0.8"/>
<circle cx="599.66" cy="231.46" r="0.8"/>
<line x1="595.04" y1="224.64" x2="595.04" y2="222.16" stroke="#000" stroke-width="0.9"/>
<line x1="593.54" y1="222.16" x2="596.54" y2="222.16" stroke="#000" stroke-width="0.9"/>
<line x1="600.79" y1="230.34" x2="600.79" y2="227.86" stroke="#000" stroke-width="0.9"/>
<line x1="599.29" y1="227.86" x2="602.29" y2="227.86" stroke="#000" stroke-width="0.9"/>
<path d="M597.81 179L597.81 182.6M596.25 179.9L599.37 181.7M596.25 181.7L599.37 179.9" stroke="#000" stroke-width="1.2" stroke-linecap="round"/>
<line x1="594.81" y1="188.3" x2="600.81" y2="188.3" stroke="#000" stroke-width="1.1"/>
<text x="601.21" y="254" font-size="7.35" font-style="italic" text-anchor="end" transform="rotate(-45 601.21 254)" stroke="#000" stroke-width="0.2">FGFRL1</text>
<rect x="605.9" y="223.4" width="6.15" height="24.8" fill="#FFE0C2"/>
<path d="M606.4 248.2V223.9H611.55V248.2" fill="none" stroke="#000" stroke-width="1"/>
<rect x="611.65" y="230.59" width="6.15" height="17.61" fill="#F7403F"/>
<path d="M612.15 248.2V231.09H617.3V248.2" fill="none" stroke="#000" stroke-width="1"/>
<circle cx="608.77" cy="214.22" r="0.8"/>
<circle cx="608.77" cy="216.7" r="0.8"/>
<circle cx="608.77" cy="223.27" r="0.8"/>
<circle cx="610.22" cy="224.19" r="0.8"/>
<circle cx="608.77" cy="227.85" r="0.8"/>
<circle cx="607.33" cy="223.89" r="0.8"/>
<circle cx="607.86" cy="223.77" r="0.8"/>
<circle cx="608.64" cy="223.71" r="0.8"/>
<circle cx="608.91" cy="225.03" r="0.8"/>
<circle cx="610.22" cy="222.74" r="0.8"/>
<circle cx="608.77" cy="220.46" r="0.8"/>
<circle cx="607.39" cy="223.03" r="0.8"/>
<circle cx="607.29" cy="223.63" r="0.8"/>
<circle cx="610.22" cy="219.04" r="0.8"/>
<circle cx="607.33" cy="219.99" r="0.8"/>
<circle cx="607.32" cy="220.12" r="0.8"/>
<circle cx="607.96" cy="219.54" r="0.8"/>
<circle cx="614.52" cy="220.92" r="0.8"/>
<circle cx="614.52" cy="230.41" r="0.8"/>
<circle cx="615.97" cy="231.3" r="0.8"/>
<circle cx="614.52" cy="228.47" r="0.8"/>
<circle cx="615.97" cy="229.56" r="0.8"/>
<circle cx="613.08" cy="228.54" r="0.8"/>
<circle cx="614.52" cy="234.15" r="0.8"/>
<circle cx="613.08" cy="230.96" r="0.8"/>
<circle cx="614.52" cy="232.08" r="0.8"/>
<circle cx="613.51" cy="231.65" r="0.8"/>
<circle cx="613.43" cy="230.57" r="0.8"/>
<circle cx="614.57" cy="230.95" r="0.8"/>
<circle cx="614.06" cy="230.28" r="0.8"/>
<circle cx="614.86" cy="232.27" r="0.8"/>
<circle cx="612.6" cy="232.86" r="0.8"/>
<circle cx="613.94" cy="230.62" r="0.8"/>
<circle cx="615.95" cy="231.7" r="0.8"/>
<line x1="608.98" y1="224.64" x2="608.98" y2="222.16" stroke="#000" stroke-width="0.9"/>
<line x1="607.48" y1="222.16" x2="610.48" y2="222.16" stroke="#000" stroke-width="0.9"/>
<line x1="614.73" y1="231.83" x2="614.73" y2="229.35" stroke="#000" stroke-width="0.9"/>
<line x1="613.23" y1="229.35" x2="616.23" y2="229.35" stroke="#000" stroke-width="0.9"/>
<path d="M611.75 179L611.75 182.6M610.19 179.9L613.31 181.7M610.19 181.7L613.31 179.9" stroke="#000" stroke-width="1.2" stroke-linecap="round"/>
<line x1="608.75" y1="188.3" x2="614.75" y2="188.3" stroke="#000" stroke-width="1.1"/>
<text x="615.15" y="254" font-size="7.35" font-style="italic" text-anchor="end" transform="rotate(-45 615.15 254)" stroke="#000" stroke-width="0.2">ADHFE1</text>
<rect x="619.84" y="224.14" width="6.15" height="24.06" fill="#FFE0C2"/>
<path d="M620.34 248.2V224.64H625.49V248.2" fill="none" stroke="#000" stroke-width="1"/>
<rect x="625.59" y="219.68" width="6.15" height="28.52" fill="#F7403F"/>
<path d="M626.09 248.2V220.18H631.24V248.2" fill="none" stroke="#000" stroke-width="1"/>
<circle cx="622.72" cy="222.74" r="0.8"/>
<circle cx="624.16" cy="222.92" r="0.8"/>
<circle cx="622.72" cy="220" r="0.8"/>
<circle cx="622.72" cy="225.18" r="0.8"/>
<circle cx="621.27" cy="223.04" r="0.8"/>
<circle cx="624.16" cy="221.08" r="0.8"/>
<circle cx="621.63" cy="223.31" r="0.8"/>
<circle cx="624.53" cy="222.95" r="0.8"/>
<circle cx="624.16" cy="224.6" r="0.8"/>
<circle cx="624.16" cy="218.57" r="0.8"/>
<circle cx="621.27" cy="221.11" r="0.8"/>
<circle cx="623.66" cy="223.98" r="0.8"/>
<circle cx="621.35" cy="222.83" r="0.8"/>
<circle cx="621.27" cy="225.19" r="0.8"/>
<circle cx="622.07" cy="221.42" r="0.8"/>
<circle cx="622.13" cy="223.26" r="0.8"/>
<circle cx="623.41" cy="224.34" r="0.8"/>
<circle cx="628.47" cy="210.01" r="0.8"/>
<circle cx="628.47" cy="222.29" r="0.8"/>
<circle cx="629.91" cy="221.91" r="0.8"/>
<circle cx="628.47" cy="217.39" r="0.8"/>
<circle cx="627.02" cy="221.39" r="0.8"/>
<circle cx="628.47" cy="218.98" r="0.8"/>
<circle cx="628.46" cy="222.77" r="0.8"/>
<circle cx="629.91" cy="218.52" r="0.8"/>
<circle cx="630.29" cy="221.5" r="0.8"/>
<circle cx="627.02" cy="217.84" r="0.8"/>
<circle cx="628.75" cy="222.49" r="0.8"/>
<circle cx="628.14" cy="217.58" r="0.8"/>
<circle cx="627.02" cy="219.35" r="0.8"/>
<circle cx="629.59" cy="218.53" r="0.8"/>
<circle cx="629.94" cy="218.86" r="0.8"/>
<circle cx="628.89" cy="218.36" r="0.8"/>
<circle cx="627.99" cy="221.96" r="0.8"/>
<line x1="622.92" y1="225.38" x2="622.92" y2="222.9" stroke="#000" stroke-width="0.9"/>
<line x1="621.42" y1="222.9" x2="624.42" y2="222.9" stroke="#000" stroke-width="0.9"/>
<line x1="628.67" y1="220.92" x2="628.67" y2="218.44" stroke="#000" stroke-width="0.9"/>
<line x1="627.17" y1="218.44" x2="630.17" y2="218.44" stroke="#000" stroke-width="0.9"/>
<path d="M625.69 179L625.69 182.6M624.13 179.9L627.25 181.7M624.13 181.7L627.25 179.9" stroke="#000" stroke-width="1.2" stroke-linecap="round"/>
<line x1="622.69" y1="188.3" x2="628.69" y2="188.3" stroke="#000" stroke-width="1.1"/>
<text x="629.09" y="254" font-size="7.35" font-style="italic" text-anchor="end" transform="rotate(-45 629.09 254)" stroke="#000" stroke-width="0.2">C12orf32</text>
<rect x="633.78" y="224.14" width="6.15" height="24.06" fill="#FFE0C2"/>
<path d="M634.28 248.2V224.64H639.43V248.2" fill="none" stroke="#000" stroke-width="1"/>
<rect x="639.53" y="227.62" width="6.15" height="20.58" fill="#F7403F"/>
<path d="M640.03 248.2V228.12H645.18V248.2" fill="none" stroke="#000" stroke-width="1"/>
<circle cx="636.65" cy="214.72" r="0.8"/>
<circle cx="638.1" cy="215.96" r="0.8"/>
<circle cx="636.65" cy="225.77" r="0.8"/>
<circle cx="636.65" cy="222.34" r="0.8"/>
<circle cx="638.1" cy="223.5" r="0.8"/>
<circle cx="638.1" cy="225.19" r="0.8"/>
<circle cx="635.21" cy="225.59" r="0.8"/>
<circle cx="638.1" cy="221.15" r="0.8"/>
<circle cx="636.98" cy="224.79" r="0.8"/>
<circle cx="635.21" cy="221.7" r="0.8"/>
<circle cx="635.03" cy="222.04" r="0.8"/>
<circle cx="636.65" cy="227.85" r="0.8"/>
<circle cx="638.31" cy="225.84" r="0.8"/>
<circle cx="635.96" cy="223.14" r="0.8"/>
<circle cx="638.01" cy="222.3" r="0.8"/>
<circle cx="637.99" cy="221.22" r="0.8"/>
<circle cx="638.47" cy="221.16" r="0.8"/>
<circle cx="642.4" cy="224.06" r="0.8"/>
<circle cx="642.4" cy="225.88" r="0.8"/>
<circle cx="643.85" cy="224.12" r="0.8"/>
<circle cx="643.85" cy="226.32" r="0.8"/>
<circle cx="640.96" cy="226.82" r="0.8"/>
<circle cx="640.96" cy="223.57" r="0.8"/>
<circle cx="642.78" cy="225.68" r="0.8"/>
<circle cx="642.4" cy="232.2" r="0.8"/>
<circle cx="641.82" cy="226.53" r="0.8"/>
<circle cx="644.17" cy="226.17" r="0.8"/>
<circle cx="642.4" cy="229.67" r="0.8"/>
<circle cx="643.1" cy="223.63" r="0.8"/>
<circle cx="642.5" cy="226.66" r="0.8"/>
<circle cx="643.85" cy="230.37" r="0.8"/>
<circle cx="640.82" cy="227.03" r="0.8"/>
<circle cx="643.85" cy="228.42" r="0.8"/>
<circle cx="640.96" cy="225.13" r="0.8"/>
<line x1="636.86" y1="225.38" x2="636.86" y2="222.9" stroke="#000" stroke-width="0.9"/>
<line x1="635.36" y1="222.9" x2="638.36" y2="222.9" stroke="#000" stroke-width="0.9"/>
<line x1="642.61" y1="228.86" x2="642.61" y2="226.38" stroke="#000" stroke-width="0.9"/>
<line x1="641.11" y1="226.38" x2="644.11" y2="226.38" stroke="#000" stroke-width="0.9"/>
<path d="M639.63 179L639.63 182.6M638.07 179.9L641.19 181.7M638.07 181.7L641.19 179.9" stroke="#000" stroke-width="1.2" stroke-linecap="round"/>
<line x1="636.63" y1="188.3" x2="642.63" y2="188.3" stroke="#000" stroke-width="1.1"/>
<text x="643.03" y="254" font-size="7.35" font-style="italic" text-anchor="end" transform="rotate(-45 643.03 254)" stroke="#000" stroke-width="0.2">ZNF264</text>
<rect x="647.72" y="224.64" width="6.15" height="23.56" fill="#FFE0C2"/>
<path d="M648.22 248.2V225.14H653.37V248.2" fill="none" stroke="#000" stroke-width="1"/>
<rect x="653.47" y="224.64" width="6.15" height="23.56" fill="#F7403F"/>
<path d="M653.97 248.2V225.14H659.12V248.2" fill="none" stroke="#000" stroke-width="1"/>
<circle cx="650.6" cy="214.22" r="0.8"/>
<circle cx="650.6" cy="215.96" r="0.8"/>
<circle cx="650.6" cy="225.42" r="0.8"/>
<circle cx="650.6" cy="221.87" r="0.8"/>
<circle cx="652.04" cy="226.65" r="0.8"/>
<circle cx="652.04" cy="224.87" r="0.8"/>
<circle cx="650.6" cy="218.98" r="0.8"/>
<circle cx="650.6" cy="228.04" r="0.8"/>
<circle cx="649.15" cy="226.31" r="0.8"/>
<circle cx="650.6" cy="223.43" r="0.8"/>
<circle cx="650.6" cy="229.51" r="0.8"/>
<circle cx="652.04" cy="229.48" r="0.8"/>
<circle cx="651.88" cy="225.33" r="0.8"/>
<circle cx="652.04" cy="221.11" r="0.8"/>
<circle cx="652.04" cy="223.04" r="0.8"/>
<circle cx="650.64" cy="225.04" r="0.8"/>
<circle cx="649.06" cy="226.5" r="0.8"/>
<circle cx="656.35" cy="218.44" r="0.8"/>
<circle cx="657.79" cy="217.4" r="0.8"/>
<circle cx="656.35" cy="220.66" r="0.8"/>
<circle cx="656.35" cy="225.98" r="0.8"/>
<circle cx="657.79" cy="220.41" r="0.8"/>
<circle cx="656.35" cy="230.47" r="0.8"/>
<circle cx="654.9" cy="221.67" r="0.8"/>
<circle cx="657.79" cy="225.32" r="0.8"/>
<circle cx="656.35" cy="222.51" r="0.8"/>
<circle cx="657.79" cy="221.94" r="0.8"/>
<circle cx="654.9" cy="226.58" r="0.8"/>
<circle cx="657.79" cy="223.86" r="0.8"/>
<circle cx="656.88" cy="223.05" r="0.8"/>
<circle cx="654.54" cy="222.19" r="0.8"/>
<circle cx="656" cy="225.95" r="0.8"/>
<circle cx="657.48" cy="226.11" r="0.8"/>
<circle cx="656.35" cy="228.42" r="0.8"/>
<line x1="650.8" y1="225.88" x2="650.8" y2="223.4" stroke="#000" stroke-width="0.9"/>
<line x1="649.3" y1="223.4" x2="652.3" y2="223.4" stroke="#000" stroke-width="0.9"/>
<line x1="656.55" y1="225.88" x2="656.55" y2="223.4" stroke="#000" stroke-width="0.9"/>
<line x1="655.05" y1="223.4" x2="658.05" y2="223.4" stroke="#000" stroke-width="0.9"/>
<path d="M653.57 179L653.57 182.6M652.01 179.9L655.13 181.7M652.01 181.7L655.13 179.9" stroke="#000" stroke-width="1.2" stroke-linecap="round"/>
<line x1="650.57" y1="188.3" x2="656.57" y2="188.3" stroke="#000" stroke-width="1.1"/>
<text x="656.97" y="254" font-size="7.35" font-style="italic" text-anchor="end" transform="rotate(-45 656.97 254)" stroke="#000" stroke-width="0.2">RNF4</text>
<rect x="661.66" y="224.64" width="6.15" height="23.56" fill="#FFE0C2"/>
<path d="M662.16 248.2V225.14H667.31V248.2" fill="none" stroke="#000" stroke-width="1"/>
<rect x="667.41" y="225.14" width="6.15" height="23.06" fill="#F7403F"/>
<path d="M667.91 248.2V225.64H673.06V248.2" fill="none" stroke="#000" stroke-width="1"/>
<circle cx="664.53" cy="213.23" r="0.8"/>
<circle cx="664.53" cy="217.35" r="0.8"/>
<circle cx="664.53" cy="224.97" r="0.8"/>
<circle cx="664.53" cy="220.09" r="0.8"/>
<circle cx="664.53" cy="221.54" r="0.8"/>
<circle cx="665.98" cy="223.6" r="0.8"/>
<circle cx="665.98" cy="221.85" r="0.8"/>
<circle cx="665.98" cy="226.41" r="0.8"/>
<circle cx="663.09" cy="224.46" r="0.8"/>
<circle cx="663.04" cy="225.08" r="0.8"/>
<circle cx="664.53" cy="226.8" r="0.8"/>
<circle cx="663.18" cy="223.61" r="0.8"/>
<circle cx="665.56" cy="224.01" r="0.8"/>
<circle cx="665.98" cy="220.09" r="0.8"/>
<circle cx="664.53" cy="231.96" r="0.8"/>
<circle cx="662.98" cy="225.31" r="0.8"/>
<circle cx="662.96" cy="225.93" r="0.8"/>
<circle cx="670.28" cy="216.46" r="0.8"/>
<circle cx="670.28" cy="225.3" r="0.8"/>
<circle cx="670.28" cy="222.7" r="0.8"/>
<circle cx="671.73" cy="221.5" r="0.8"/>
<circle cx="668.84" cy="222.63" r="0.8"/>
<circle cx="670.28" cy="227.21" r="0.8"/>
<circle cx="671.73" cy="223.83" r="0.8"/>
<circle cx="668.84" cy="224.98" r="0.8"/>
<circle cx="670.28" cy="219.9" r="0.8"/>
<circle cx="669.69" cy="223.81" r="0.8"/>
<circle cx="671.73" cy="225.88" r="0.8"/>
<circle cx="668.84" cy="220.62" r="0.8"/>
<circle cx="670.09" cy="225.06" r="0.8"/>
<circle cx="669.83" cy="222.94" r="0.8"/>
<circle cx="668.53" cy="224.26" r="0.8"/>
<circle cx="671.83" cy="223.02" r="0.8"/>
<circle cx="670.61" cy="221.45" r="0.8"/>
<line x1="664.74" y1="225.88" x2="664.74" y2="223.4" stroke="#000" stroke-width="0.9"/>
<line x1="663.24" y1="223.4" x2="666.24" y2="223.4" stroke="#000" stroke-width="0.9"/>
<line x1="670.49" y1="226.38" x2="670.49" y2="223.9" stroke="#000" stroke-width="0.9"/>
<line x1="668.99" y1="223.9" x2="671.99" y2="223.9" stroke="#000" stroke-width="0.9"/>
<path d="M667.51 179L667.51 182.6M665.95 179.9L669.07 181.7M665.95 181.7L669.07 179.9" stroke="#000" stroke-width="1.2" stroke-linecap="round"/>
<line x1="664.51" y1="188.3" x2="670.51" y2="188.3" stroke="#000" stroke-width="1.1"/>
<text x="670.91" y="254" font-size="7.35" font-style="italic" text-anchor="end" transform="rotate(-45 670.91 254)" stroke="#000" stroke-width="0.2">PSMD13</text>
<text x="141.3" y="292.2" font-size="10.8" font-weight="bold" text-anchor="middle" textLength="35.7" lengthAdjust="spacingAndGlyphs">Muscle</text>
<text x="357.1" y="292.2" font-size="10.8" font-weight="bold" text-anchor="middle" textLength="50.4" lengthAdjust="spacingAndGlyphs">Myoblasts</text>
<text x="570.2" y="292.2" font-size="10.8" font-weight="bold" text-anchor="middle" textLength="48.5" lengthAdjust="spacingAndGlyphs">Myotubes</text>
<rect x="605.5" y="138.7" width="11.2" height="9.4" fill="#FFE0C2" stroke="#000" stroke-width="1.2"/>
<rect x="605.5" y="153.2" width="11.2" height="9.3" fill="#F7403F" stroke="#000" stroke-width="1.2"/>
<text x="622.6" y="147.1" font-size="10.4" textLength="50.6" lengthAdjust="spacingAndGlyphs">no diabetes</text>
<text x="621.3" y="162.2" font-size="10.4" textLength="16.6" lengthAdjust="spacingAndGlyphs">T2D</text>
<text x="0" y="0" font-size="15.5" font-weight="bold" stroke="#000" stroke-width="0.35" transform="translate(-0.6 316) scale(1.12 1)">C</text>
<text x="9.1" y="380.6" font-size="10.4" font-weight="bold" text-anchor="middle" textLength="107.4" lengthAdjust="spacingAndGlyphs" transform="rotate(-90 9.1 380.6)">mRNA expression (a.u.)</text>
<line x1="27.9" y1="332.5" x2="27.9" y2="426.8" stroke="#000" stroke-width="1.1"/>
<line x1="24.5" y1="426.3" x2="27.9" y2="426.3" stroke="#000" stroke-width="1.1"/>
<text x="23.5" y="429" font-size="7.6" font-weight="bold" text-anchor="end" textLength="9.4" lengthAdjust="spacingAndGlyphs">0.0</text>
<line x1="24.5" y1="402.85" x2="27.9" y2="402.85" stroke="#000" stroke-width="1.1"/>
<text x="23.5" y="405.55" font-size="7.6" font-weight="bold" text-anchor="end" textLength="9.4" lengthAdjust="spacingAndGlyphs">0.5</text>
<line x1="24.5" y1="379.4" x2="27.9" y2="379.4" stroke="#000" stroke-width="1.1"/>
<text x="23.5" y="382.1" font-size="7.6" font-weight="bold" text-anchor="end" textLength="9.4" lengthAdjust="spacingAndGlyphs">1.0</text>
<line x1="24.5" y1="355.95" x2="27.9" y2="355.95" stroke="#000" stroke-width="1.1"/>
<text x="23.5" y="358.65" font-size="7.6" font-weight="bold" text-anchor="end" textLength="9.4" lengthAdjust="spacingAndGlyphs">1.5</text>
<line x1="24.5" y1="332.5" x2="27.9" y2="332.5" stroke="#000" stroke-width="1.1"/>
<text x="23.5" y="335.2" font-size="7.6" font-weight="bold" text-anchor="end" textLength="9.4" lengthAdjust="spacingAndGlyphs">2.0</text>
<line x1="27.9" y1="426.3" x2="91.4" y2="426.3" stroke="#000" stroke-width="1.2"/>
<rect x="38.9" y="379.4" width="20.6" height="46.9" fill="#FFE0C2"/>
<path d="M39.5 426.3V380H58.9V426.3" fill="none" stroke="#000" stroke-width="1.2"/>
<circle cx="49.15" cy="360.64" r="1.25"/>
<circle cx="49.15" cy="369.08" r="1.25"/>
<circle cx="49.15" cy="373.77" r="1.25"/>
<circle cx="49.15" cy="386.44" r="1.25"/>
<circle cx="52.52" cy="386.44" r="1.25"/>
<circle cx="49.15" cy="391.12" r="1.25"/>
<circle cx="52.52" cy="391.12" r="1.25"/>
<circle cx="49.15" cy="381.51" r="1.25"/>
<circle cx="52.52" cy="376.47" r="1.25"/>
<circle cx="52.52" cy="380.16" r="1.25"/>
<circle cx="45.77" cy="380.95" r="1.25"/>
<circle cx="55.9" cy="380.86" r="1.25"/>
<circle cx="45.77" cy="373.14" r="1.25"/>
<circle cx="49.15" cy="377.63" r="1.25"/>
<circle cx="42.4" cy="377.9" r="1.25"/>
<circle cx="42.4" cy="381.34" r="1.25"/>
<circle cx="55.9" cy="375.23" r="1.25"/>
<circle cx="56.53" cy="382.47" r="1.25"/>
<circle cx="44.93" cy="380.66" r="1.25"/>
<circle cx="47.34" cy="375.79" r="1.25"/>
<circle cx="52.73" cy="376.21" r="1.25"/>
<line x1="49.2" y1="381.75" x2="49.2" y2="377.06" stroke="#000" stroke-width="1.1"/>
<line x1="45.7" y1="377.06" x2="52.7" y2="377.06" stroke="#000" stroke-width="1.1"/>
<rect x="59.4" y="371.43" width="20.6" height="54.87" fill="#F7403F"/>
<path d="M60 426.3V372.03H79.4V426.3" fill="none" stroke="#000" stroke-width="1.2"/>
<circle cx="69.65" cy="346.57" r="1.25"/>
<circle cx="69.65" cy="358.3" r="1.25"/>
<circle cx="73.03" cy="361.58" r="1.25"/>
<circle cx="66.28" cy="361.58" r="1.25"/>
<circle cx="76.4" cy="361.58" r="1.25"/>
<circle cx="69.65" cy="365.33" r="1.25"/>
<circle cx="73.03" cy="365.33" r="1.25"/>
<circle cx="69.65" cy="384.09" r="1.25"/>
<circle cx="69.65" cy="388.78" r="1.25"/>
<circle cx="69.65" cy="392.53" r="1.25"/>
<circle cx="69.65" cy="376.07" r="1.25"/>
<circle cx="73.03" cy="373.99" r="1.25"/>
<circle cx="69.65" cy="370.74" r="1.25"/>
<circle cx="66.28" cy="370.89" r="1.25"/>
<circle cx="73.03" cy="378.52" r="1.25"/>
<circle cx="76.4" cy="373.78" r="1.25"/>
<circle cx="66.28" cy="378.09" r="1.25"/>
<circle cx="62.9" cy="372.67" r="1.25"/>
<circle cx="66.22" cy="370.79" r="1.25"/>
<circle cx="73.03" cy="369.85" r="1.25"/>
<circle cx="62.9" cy="363.18" r="1.25"/>
<line x1="69.7" y1="373.77" x2="69.7" y2="369.08" stroke="#000" stroke-width="1.1"/>
<line x1="66.2" y1="369.08" x2="73.2" y2="369.08" stroke="#000" stroke-width="1.1"/>
<path d="M59.7 329.9L59.7 333.7M58.05 330.85L61.35 332.75M58.05 332.75L61.35 330.85" stroke="#000" stroke-width="1.3" stroke-linecap="round"/>
<line x1="47" y1="338.5" x2="72.5" y2="338.5" stroke="#000" stroke-width="1.2"/>
<text x="31" y="452.7" font-size="9.2" font-weight="bold" textLength="57.6" lengthAdjust="spacingAndGlyphs"><tspan font-style="italic">KLF11</tspan> mRNA</text>
<text x="119.5" y="381.2" font-size="10.2" font-weight="bold" text-anchor="middle" textLength="95.5" lengthAdjust="spacingAndGlyphs" transform="rotate(-90 119.5 381.2)">DNA methylation (%)</text>
<text x="132.5" y="381.7" font-size="8.6" text-anchor="middle" textLength="47.3" lengthAdjust="spacingAndGlyphs" transform="rotate(-90 132.5 381.7)">cg23458613</text>
<line x1="149.4" y1="337.1" x2="149.4" y2="427.3" stroke="#000" stroke-width="1.1"/>
<line x1="146" y1="426.8" x2="149.4" y2="426.8" stroke="#000" stroke-width="1.1"/>
<text x="144.6" y="429.4" font-size="7.3" font-weight="bold" text-anchor="end">0</text>
<line x1="146" y1="408.85" x2="149.4" y2="408.85" stroke="#000" stroke-width="1.1"/>
<text x="144.6" y="411.45" font-size="7.3" font-weight="bold" text-anchor="end">20</text>
<line x1="146" y1="390.9" x2="149.4" y2="390.9" stroke="#000" stroke-width="1.1"/>
<text x="144.6" y="393.5" font-size="7.3" font-weight="bold" text-anchor="end">40</text>
<line x1="146" y1="372.95" x2="149.4" y2="372.95" stroke="#000" stroke-width="1.1"/>
<text x="144.6" y="375.55" font-size="7.3" font-weight="bold" text-anchor="end">60</text>
<line x1="146" y1="355" x2="149.4" y2="355" stroke="#000" stroke-width="1.1"/>
<text x="144.6" y="357.6" font-size="7.3" font-weight="bold" text-anchor="end">80</text>
<line x1="146" y1="337.05" x2="149.4" y2="337.05" stroke="#000" stroke-width="1.1"/>
<text x="144.6" y="339.65" font-size="7.3" font-weight="bold" text-anchor="end">100</text>
<line x1="149.4" y1="426.8" x2="209.6" y2="426.8" stroke="#000" stroke-width="1.2"/>
<rect x="159.3" y="409.93" width="20" height="16.87" fill="#FFE0C2"/>
<path d="M159.9 426.8V410.53H178.7V426.8" fill="none" stroke="#000" stroke-width="1.2"/>
<circle cx="169.25" cy="404.81" r="1.05"/>
<circle cx="171.98" cy="407.06" r="1.05"/>
<circle cx="166.52" cy="407.06" r="1.05"/>
<circle cx="169.25" cy="407.95" r="1.05"/>
<circle cx="169.25" cy="420.07" r="1.05"/>
<circle cx="171.98" cy="410.14" r="1.05"/>
<circle cx="174.71" cy="409.75" r="1.05"/>
<circle cx="169.25" cy="410.86" r="1.05"/>
<circle cx="163.79" cy="409.78" r="1.05"/>
<circle cx="166.52" cy="409.91" r="1.05"/>
<circle cx="162.65" cy="409.18" r="1.05"/>
<circle cx="165.52" cy="407.56" r="1.05"/>
<circle cx="174.68" cy="407.6" r="1.05"/>
<circle cx="163.22" cy="410.12" r="1.05"/>
<circle cx="168.33" cy="408.61" r="1.05"/>
<circle cx="174.7" cy="409.05" r="1.05"/>
<circle cx="174.19" cy="408.38" r="1.05"/>
<circle cx="163.73" cy="409.45" r="1.05"/>
<circle cx="166.87" cy="409.1" r="1.05"/>
<circle cx="172.85" cy="410.15" r="1.05"/>
<circle cx="167.26" cy="410.6" r="1.05"/>
<circle cx="176.68" cy="408.23" r="1.05"/>
<rect x="179.2" y="412.44" width="20" height="14.36" fill="#F7403F"/>
<path d="M179.8 426.8V413.04H198.6V426.8" fill="none" stroke="#000" stroke-width="1.2"/>
<circle cx="189.15" cy="403.91" r="1.05"/>
<circle cx="191.88" cy="405.08" r="1.05"/>
<circle cx="189.15" cy="407.95" r="1.05"/>
<circle cx="189.15" cy="418.72" r="1.05"/>
<circle cx="191.88" cy="420.52" r="1.05"/>
<circle cx="191.88" cy="410.13" r="1.05"/>
<circle cx="189.15" cy="411.07" r="1.05"/>
<circle cx="186.42" cy="408.59" r="1.05"/>
<circle cx="191.88" cy="413.02" r="1.05"/>
<circle cx="186.42" cy="412.02" r="1.05"/>
<circle cx="194.61" cy="412.72" r="1.05"/>
<circle cx="183.69" cy="411.77" r="1.05"/>
<circle cx="189.36" cy="412.29" r="1.05"/>
<circle cx="189.84" cy="413.07" r="1.05"/>
<circle cx="185.43" cy="410.45" r="1.05"/>
<circle cx="193.55" cy="413.12" r="1.05"/>
<circle cx="187.28" cy="412.72" r="1.05"/>
<circle cx="191.7" cy="411.19" r="1.05"/>
<circle cx="190.25" cy="412.76" r="1.05"/>
<circle cx="186.08" cy="412.62" r="1.05"/>
<circle cx="187.37" cy="411.48" r="1.05"/>
<circle cx="182.44" cy="412.52" r="1.05"/>
<path d="M179.2 384.8L179.2 388.6M177.55 385.75L180.85 387.65M177.55 387.65L180.85 385.75" stroke="#000" stroke-width="1.3" stroke-linecap="round"/>
<line x1="167" y1="393.8" x2="191.1" y2="393.8" stroke="#000" stroke-width="1.2"/>
<rect x="165.6" y="322.5" width="9.6" height="9.3" fill="#FFE0C2" stroke="#000" stroke-width="1.2"/>
<rect x="165.6" y="337.3" width="9.6" height="9.2" fill="#F7403F" stroke="#000" stroke-width="1.2"/>
<text x="180.3" y="331.3" font-size="10.4" textLength="50.6" lengthAdjust="spacingAndGlyphs">no diabetes</text>
<text x="179.2" y="345.5" font-size="10.4" textLength="16.6" lengthAdjust="spacingAndGlyphs">T2D</text>
<text x="136.6" y="452.7" font-size="9" font-weight="bold" textLength="84.6" lengthAdjust="spacingAndGlyphs"><tspan font-style="italic">KLF11</tspan> methylation</text>
<text x="247" y="380.6" font-size="8.7" font-weight="bold" text-anchor="middle" transform="rotate(-90 247 380.6)">bits</text>
<line x1="258.8" y1="329.3" x2="258.8" y2="428" stroke="#333" stroke-width="1.2"/>
<line x1="255.5" y1="427.5" x2="258.8" y2="427.5" stroke="#333" stroke-width="1.2"/>
<text x="254.5" y="432.2" font-size="10.2" font-weight="bold" text-anchor="end" textLength="5.4" lengthAdjust="spacingAndGlyphs">0</text>
<line x1="255.5" y1="378.4" x2="258.8" y2="378.4" stroke="#333" stroke-width="1.2"/>
<text x="254.5" y="383.1" font-size="10.2" font-weight="bold" text-anchor="end" textLength="5.4" lengthAdjust="spacingAndGlyphs">1</text>
<line x1="255.5" y1="329.3" x2="258.8" y2="329.3" stroke="#333" stroke-width="1.2"/>
<text x="254.5" y="334" font-size="10.2" font-weight="bold" text-anchor="end" textLength="5.4" lengthAdjust="spacingAndGlyphs">2</text>
<rect x="260.3" y="426.6" width="12.7" height="1.4" fill="#0000CC"/>
<rect x="260.3" y="422.9" width="12.7" height="1.4" fill="#FFB300"/>
<text x="269.95" y="431.4" font-size="8.9" font-weight="bold" text-anchor="end" transform="rotate(-90 269.95 431.4)" stroke="#000" stroke-width="0.2">1</text>
<rect x="275.3" y="427.2" width="13.5" height="1.4" fill="#FFB300"/>
<rect x="275.3" y="425.8" width="13.5" height="1.4" fill="#CC0000"/>
<path fill="#00CC00" transform="translate(275.3 425.4) scale(0.009825 -0.003691) translate(-51 0)" d="M1133 0 1008 360H471L346 0H51L565 1409H913L1425 0ZM739 1192 733 1170Q723 1134 709.0 1088.0Q695 1042 537 582H942L803 987L760 1123Z"/>
<path fill="#0000CC" transform="translate(275.3 418.8) scale(0.010082 -0.009655) translate(-84 20)" d="M795 212Q1062 212 1166 480L1423 383Q1340 179 1179.5 79.5Q1019 -20 795 -20Q455 -20 269.5 172.5Q84 365 84 711Q84 1058 263.0 1244.0Q442 1430 782 1430Q1030 1430 1186.0 1330.5Q1342 1231 1405 1038L1145 967Q1112 1073 1015.5 1135.5Q919 1198 788 1198Q588 1198 484.5 1074.0Q381 950 381 711Q381 468 487.5 340.0Q594 212 795 212Z"/>
<text x="285.35" y="431.4" font-size="8.9" font-weight="bold" text-anchor="end" transform="rotate(-90 285.35 431.4)" stroke="#000" stroke-width="0.2">2</text>
<path fill="#CC0000" transform="translate(290.2 427.2) scale(0.011111 -0.001278) translate(-23 0)" d="M773 1181V0H478V1181H23V1409H1229V1181Z"/>
<path fill="#00CC00" transform="translate(290.2 425.4) scale(0.009753 -0.002342) translate(-51 0)" d="M1133 0 1008 360H471L346 0H51L565 1409H913L1425 0ZM739 1192 733 1170Q723 1134 709.0 1088.0Q695 1042 537 582H942L803 987L760 1123Z"/>
<path fill="#0000CC" transform="translate(290.2 419.8) scale(0.010007 -0.036897) translate(-84 20)" d="M795 212Q1062 212 1166 480L1423 383Q1340 179 1179.5 79.5Q1019 -20 795 -20Q455 -20 269.5 172.5Q84 365 84 711Q84 1058 263.0 1244.0Q442 1430 782 1430Q1030 1430 1186.0 1330.5Q1342 1231 1405 1038L1145 967Q1112 1073 1015.5 1135.5Q919 1198 788 1198Q588 1198 484.5 1074.0Q381 950 381 711Q381 468 487.5 340.0Q594 212 795 212Z"/>
<text x="300.2" y="431.4" font-size="8.9" font-weight="bold" text-anchor="end" transform="rotate(-90 300.2 431.4)" stroke="#000" stroke-width="0.2">3</text>
<path fill="#0000CC" transform="translate(305.4 427.7) scale(0.010456 -0.005448) translate(-84 20)" d="M795 212Q1062 212 1166 480L1423 383Q1340 179 1179.5 79.5Q1019 -20 795 -20Q455 -20 269.5 172.5Q84 365 84 711Q84 1058 263.0 1244.0Q442 1430 782 1430Q1030 1430 1186.0 1330.5Q1342 1231 1405 1038L1145 967Q1112 1073 1015.5 1135.5Q919 1198 788 1198Q588 1198 484.5 1074.0Q381 950 381 711Q381 468 487.5 340.0Q594 212 795 212Z"/>
<path fill="#00CC00" transform="translate(305.4 418.6) scale(0.010189 -0.040383) translate(-51 0)" d="M1133 0 1008 360H471L346 0H51L565 1409H913L1425 0ZM739 1192 733 1170Q723 1134 709.0 1088.0Q695 1042 537 582H942L803 987L760 1123Z"/>
<text x="315.7" y="431.4" font-size="8.9" font-weight="bold" text-anchor="end" transform="rotate(-90 315.7 431.4)" stroke="#000" stroke-width="0.2">4</text>
<path fill="#0000CC" transform="translate(320.4 427.4) scale(0.010754 -0.065862) translate(-84 20)" d="M795 212Q1062 212 1166 480L1423 383Q1340 179 1179.5 79.5Q1019 -20 795 -20Q455 -20 269.5 172.5Q84 365 84 711Q84 1058 263.0 1244.0Q442 1430 782 1430Q1030 1430 1186.0 1330.5Q1342 1231 1405 1038L1145 967Q1112 1073 1015.5 1135.5Q919 1198 788 1198Q588 1198 484.5 1074.0Q381 950 381 711Q381 468 487.5 340.0Q594 212 795 212Z"/>
<text x="330.9" y="431.4" font-size="8.9" font-weight="bold" text-anchor="end" transform="rotate(-90 330.9 431.4)" stroke="#000" stroke-width="0.2">5</text>
<rect x="335.3" y="426.4" width="14" height="1.2" fill="#CC0000"/>
<path fill="#00CC00" transform="translate(335.3 426.2) scale(0.010189 -0.005820) translate(-51 0)" d="M1133 0 1008 360H471L346 0H51L565 1409H913L1425 0ZM739 1192 733 1170Q723 1134 709.0 1088.0Q695 1042 537 582H942L803 987L760 1123Z"/>
<path fill="#FFB300" transform="translate(335.3 416.5) scale(0.010130 -0.025103) translate(-84 20)" d="M806 211Q921 211 1029.0 244.5Q1137 278 1196 330V525H852V743H1466V225Q1354 110 1174.5 45.0Q995 -20 798 -20Q454 -20 269.0 170.5Q84 361 84 711Q84 1059 270.0 1244.5Q456 1430 805 1430Q1301 1430 1436 1063L1164 981Q1120 1088 1026.0 1143.0Q932 1198 805 1198Q597 1198 489.0 1072.0Q381 946 381 711Q381 472 492.5 341.5Q604 211 806 211Z"/>
<text x="345.6" y="431.4" font-size="8.9" font-weight="bold" text-anchor="end" transform="rotate(-90 345.6 431.4)" stroke="#000" stroke-width="0.2">6</text>
<path fill="#0000CC" transform="translate(351 427.4) scale(0.010829 -0.065862) translate(-84 20)" d="M795 212Q1062 212 1166 480L1423 383Q1340 179 1179.5 79.5Q1019 -20 795 -20Q455 -20 269.5 172.5Q84 365 84 711Q84 1058 263.0 1244.0Q442 1430 782 1430Q1030 1430 1186.0 1330.5Q1342 1231 1405 1038L1145 967Q1112 1073 1015.5 1135.5Q919 1198 788 1198Q588 1198 484.5 1074.0Q381 950 381 711Q381 468 487.5 340.0Q594 212 795 212Z"/>
<text x="361.55" y="431.4" font-size="8.9" font-weight="bold" text-anchor="end" transform="rotate(-90 361.55 431.4)" stroke="#000" stroke-width="0.2">7</text>
<path fill="#0000CC" transform="translate(366.4 427.4) scale(0.010605 -0.066690) translate(-84 20)" d="M795 212Q1062 212 1166 480L1423 383Q1340 179 1179.5 79.5Q1019 -20 795 -20Q455 -20 269.5 172.5Q84 365 84 711Q84 1058 263.0 1244.0Q442 1430 782 1430Q1030 1430 1186.0 1330.5Q1342 1231 1405 1038L1145 967Q1112 1073 1015.5 1135.5Q919 1198 788 1198Q588 1198 484.5 1074.0Q381 950 381 711Q381 468 487.5 340.0Q594 212 795 212Z"/>
<text x="376.8" y="431.4" font-size="8.9" font-weight="bold" text-anchor="end" transform="rotate(-90 376.8 431.4)" stroke="#000" stroke-width="0.2">8</text>
<path fill="#CC0000" transform="translate(381.8 427.3) scale(0.011194 -0.003762) translate(-23 0)" d="M773 1181V0H478V1181H23V1409H1229V1181Z"/>
<path fill="#0000CC" transform="translate(381.8 421.2) scale(0.010082 -0.048138) translate(-84 20)" d="M795 212Q1062 212 1166 480L1423 383Q1340 179 1179.5 79.5Q1019 -20 795 -20Q455 -20 269.5 172.5Q84 365 84 711Q84 1058 263.0 1244.0Q442 1430 782 1430Q1030 1430 1186.0 1330.5Q1342 1231 1405 1038L1145 967Q1112 1073 1015.5 1135.5Q919 1198 788 1198Q588 1198 484.5 1074.0Q381 950 381 711Q381 468 487.5 340.0Q594 212 795 212Z"/>
<text x="391.85" y="431.4" font-size="8.9" font-weight="bold" text-anchor="end" transform="rotate(-90 391.85 431.4)" stroke="#000" stroke-width="0.2">9</text>
<rect x="396" y="425.2" width="13.2" height="1.4" fill="#CC0000"/>
<path fill="#0000CC" transform="translate(396 424.8) scale(0.009858 -0.008138) translate(-84 20)" d="M795 212Q1062 212 1166 480L1423 383Q1340 179 1179.5 79.5Q1019 -20 795 -20Q455 -20 269.5 172.5Q84 365 84 711Q84 1058 263.0 1244.0Q442 1430 782 1430Q1030 1430 1186.0 1330.5Q1342 1231 1405 1038L1145 967Q1112 1073 1015.5 1135.5Q919 1198 788 1198Q588 1198 484.5 1074.0Q381 950 381 711Q381 468 487.5 340.0Q594 212 795 212Z"/>
<path fill="#00CC00" transform="translate(396 412) scale(0.009607 -0.009936) translate(-51 0)" d="M1133 0 1008 360H471L346 0H51L565 1409H913L1425 0ZM739 1192 733 1170Q723 1134 709.0 1088.0Q695 1042 537 582H942L803 987L760 1123Z"/>
<text x="405.9" y="431.4" font-size="8.9" font-weight="bold" text-anchor="end" transform="rotate(-90 405.9 431.4)" stroke="#000" stroke-width="0.2">10</text>
<rect x="410.8" y="427" width="14.2" height="1.3" fill="#FFB300"/>
<rect x="410.8" y="425.8" width="14.2" height="1.2" fill="#00CC00"/>
<path fill="#CC0000" transform="translate(410.8 425.8) scale(0.011774 -0.004542) translate(-23 0)" d="M773 1181V0H478V1181H23V1409H1229V1181Z"/>
<path fill="#0000CC" transform="translate(410.8 418.4) scale(0.010605 -0.025655) translate(-84 20)" d="M795 212Q1062 212 1166 480L1423 383Q1340 179 1179.5 79.5Q1019 -20 795 -20Q455 -20 269.5 172.5Q84 365 84 711Q84 1058 263.0 1244.0Q442 1430 782 1430Q1030 1430 1186.0 1330.5Q1342 1231 1405 1038L1145 967Q1112 1073 1015.5 1135.5Q919 1198 788 1198Q588 1198 484.5 1074.0Q381 950 381 711Q381 468 487.5 340.0Q594 212 795 212Z"/>
<text x="421.2" y="431.4" font-size="8.9" font-weight="bold" text-anchor="end" transform="rotate(-90 421.2 431.4)" stroke="#000" stroke-width="0.2">11</text>
<text x="299.5" y="321.6" font-size="9.6"><tspan font-style="italic">P</tspan><tspan font-size="7.6" dy="2.6" textLength="38.5" lengthAdjust="spacingAndGlyphs">Bonferroni</tspan><tspan dy="-2.6"> = 0.0004</tspan></text>
<text x="296.6" y="452.8" font-size="9" font-weight="bold" textLength="90.2" lengthAdjust="spacingAndGlyphs"><tspan font-style="italic">KLF11</tspan> binding motif</text>
</svg>
</body></html>
